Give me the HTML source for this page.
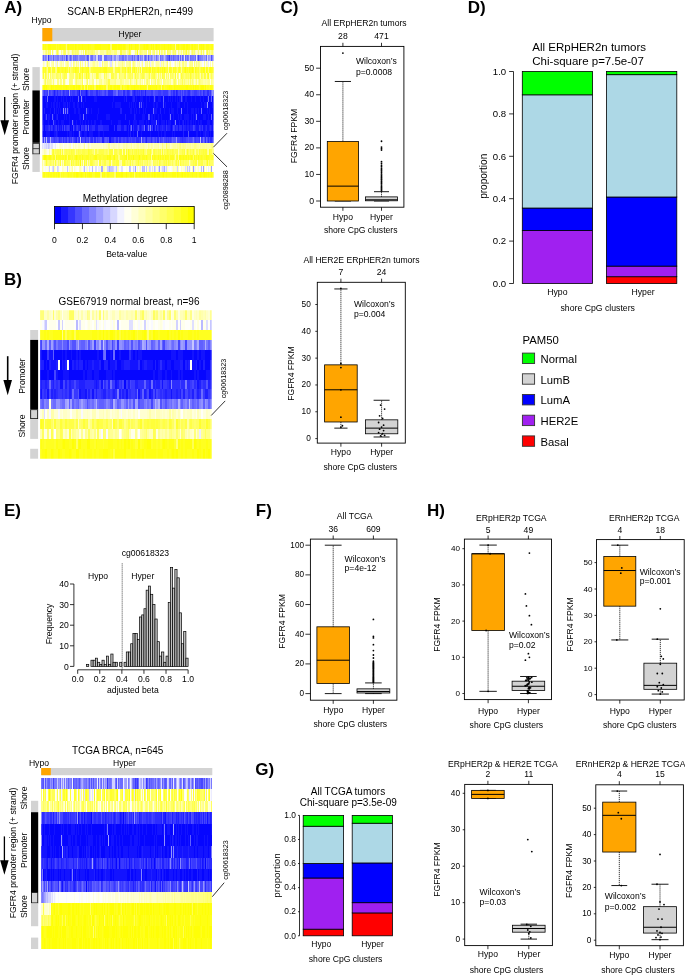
<!DOCTYPE html>
<html><head><meta charset="utf-8"><title>FGFR4 figure</title>
<style>html,body{margin:0;padding:0;background:#fff;width:685px;height:975px;overflow:hidden}svg{display:block;will-change:transform}text{font-family:"Liberation Sans",sans-serif}</style>
</head><body>
<svg width="685" height="975" viewBox="0 0 685 975" font-family='"Liberation Sans", sans-serif'>
<rect width="685" height="975" fill="#fff"/>
<text x="4.2" y="12.7" font-size="17" font-weight="bold">A)</text>
<text x="130.2" y="15.3" font-size="10" text-anchor="middle">SCAN-B ERpHER2n, n=499</text>
<text x="31.5" y="23.4" font-size="8.6">Hypo</text>
<rect x="42.4" y="28" width="171.2" height="13.2" fill="#d3d3d3"/>
<rect x="42.4" y="28" width="9.9" height="13.2" fill="#ffa500"/>
<text x="129.9" y="36.6" font-size="8.6" text-anchor="middle">Hyper</text>
<defs><clipPath id="chb1"><rect x="42.4" y="43.8" width="171.2" height="133.97"/></clipPath><filter id="hb1" color-interpolation-filters="sRGB" x="-2%" y="0" width="104%" height="100%"><feGaussianBlur stdDeviation="0.7 0" color-interpolation-filters="sRGB"/></filter></defs>
<g clip-path="url(#chb1)"><g filter="url(#hb1)" shape-rendering="crispEdges">
<path fill="#ffff20" d="M42.4 43.8h1.04v5.87h-1.04zM44.4 43.8h1.04v5.87h-1.04zM46.4 43.8h2.04v5.87h-2.04zM58.42 43.8h1.04v5.87h-1.04zM65.43 43.8h1.04v5.87h-1.04zM74.44 43.8h1.04v5.87h-1.04zM77.44 43.8h1.04v5.87h-1.04zM91.46 43.8h3.04v5.87h-3.04zM100.47 43.8h1.04v5.87h-1.04zM104.47 43.8h1.04v5.87h-1.04zM114.48 43.8h1.04v5.87h-1.04zM117.49 43.8h1.04v5.87h-1.04zM122.49 43.8h1.04v5.87h-1.04zM129.5 43.8h1.04v5.87h-1.04zM131.5 43.8h3.04v5.87h-3.04zM137.51 43.8h1.04v5.87h-1.04zM139.51 43.8h3.04v5.87h-3.04zM148.52 43.8h2.04v5.87h-2.04zM151.53 43.8h1.04v5.87h-1.04zM159.54 43.8h1.04v5.87h-1.04zM171.55 43.8h2.04v5.87h-2.04zM178.56 43.8h2.04v5.87h-2.04zM184.57 43.8h1.04v5.87h-1.04zM192.58 43.8h1.04v5.87h-1.04zM195.58 43.8h2.04v5.87h-2.04zM203.59 43.8h1.04v5.87h-1.04zM208.59 43.8h2.04v5.87h-2.04zM136.51 49.62h1.04v5.87h-1.04zM43.4 67.1h1.04v5.87h-1.04zM45.4 67.1h1.04v5.87h-1.04zM48.41 67.1h2.04v5.87h-2.04zM54.41 67.1h1.04v5.87h-1.04zM57.42 67.1h1.04v5.87h-1.04zM59.42 67.1h1.04v5.87h-1.04zM62.42 67.1h1.04v5.87h-1.04zM69.43 67.1h1.04v5.87h-1.04zM76.44 67.1h1.04v5.87h-1.04zM86.45 67.1h2.04v5.87h-2.04zM93.46 67.1h1.04v5.87h-1.04zM97.46 67.1h1.04v5.87h-1.04zM99.47 67.1h2.04v5.87h-2.04zM102.47 67.1h2.04v5.87h-2.04zM105.47 67.1h1.04v5.87h-1.04zM122.49 67.1h1.04v5.87h-1.04zM124.5 67.1h1.04v5.87h-1.04zM127.5 67.1h1.04v5.87h-1.04zM129.5 67.1h1.04v5.87h-1.04zM139.51 67.1h1.04v5.87h-1.04zM141.52 67.1h1.04v5.87h-1.04zM145.52 67.1h1.04v5.87h-1.04zM153.53 67.1h1.04v5.87h-1.04zM156.53 67.1h1.04v5.87h-1.04zM159.54 67.1h1.04v5.87h-1.04zM168.55 67.1h2.04v5.87h-2.04zM172.55 67.1h1.04v5.87h-1.04zM174.55 67.1h1.04v5.87h-1.04zM178.56 67.1h1.04v5.87h-1.04zM183.56 67.1h1.04v5.87h-1.04zM186.57 67.1h1.04v5.87h-1.04zM189.57 67.1h2.04v5.87h-2.04zM192.58 67.1h1.04v5.87h-1.04zM200.58 67.1h1.04v5.87h-1.04zM206.59 67.1h1.04v5.87h-1.04zM208.59 67.1h1.04v5.87h-1.04zM210.6 67.1h1.04v5.87h-1.04zM79.44 72.92h1.04v5.87h-1.04zM86.45 72.92h1.04v5.87h-1.04zM207.59 72.92h1.04v5.87h-1.04zM47.41 84.57h2.04v5.87h-2.04zM50.41 84.57h1.04v5.87h-1.04zM54.41 84.57h1.04v5.87h-1.04zM62.42 84.57h1.04v5.87h-1.04zM69.43 84.57h1.04v5.87h-1.04zM75.44 84.57h1.04v5.87h-1.04zM80.44 84.57h1.04v5.87h-1.04zM85.45 84.57h1.04v5.87h-1.04zM89.45 84.57h1.04v5.87h-1.04zM91.46 84.57h2.04v5.87h-2.04zM98.47 84.57h1.04v5.87h-1.04zM100.47 84.57h1.04v5.87h-1.04zM102.47 84.57h2.04v5.87h-2.04zM108.48 84.57h2.04v5.87h-2.04zM111.48 84.57h2.04v5.87h-2.04zM118.49 84.57h1.04v5.87h-1.04zM124.5 84.57h3.04v5.87h-3.04zM128.5 84.57h2.04v5.87h-2.04zM138.51 84.57h1.04v5.87h-1.04zM145.52 84.57h1.04v5.87h-1.04zM156.53 84.57h2.04v5.87h-2.04zM164.54 84.57h2.04v5.87h-2.04zM171.55 84.57h2.04v5.87h-2.04zM191.57 84.57h1.04v5.87h-1.04zM193.58 84.57h1.04v5.87h-1.04zM203.59 84.57h1.04v5.87h-1.04zM206.59 84.57h2.04v5.87h-2.04zM211.6 84.57h2.04v5.87h-2.04zM106.47 148.65h1.04v5.87h-1.04zM127.5 148.65h1.04v5.87h-1.04zM42.4 154.47h1.04v5.87h-1.04zM48.41 154.47h1.04v5.87h-1.04zM53.41 154.47h2.04v5.87h-2.04zM58.42 154.47h3.04v5.87h-3.04zM62.42 154.47h2.04v5.87h-2.04zM66.43 154.47h1.04v5.87h-1.04zM69.43 154.47h1.04v5.87h-1.04zM75.44 154.47h1.04v5.87h-1.04zM77.44 154.47h1.04v5.87h-1.04zM79.44 154.47h2.04v5.87h-2.04zM86.45 154.47h3.04v5.87h-3.04zM93.46 154.47h2.04v5.87h-2.04zM98.47 154.47h1.04v5.87h-1.04zM102.47 154.47h1.04v5.87h-1.04zM104.47 154.47h1.04v5.87h-1.04zM107.48 154.47h2.04v5.87h-2.04zM110.48 154.47h1.04v5.87h-1.04zM112.48 154.47h2.04v5.87h-2.04zM116.49 154.47h1.04v5.87h-1.04zM123.49 154.47h2.04v5.87h-2.04zM128.5 154.47h1.04v5.87h-1.04zM130.5 154.47h1.04v5.87h-1.04zM137.51 154.47h1.04v5.87h-1.04zM141.52 154.47h3.04v5.87h-3.04zM149.53 154.47h1.04v5.87h-1.04zM151.53 154.47h1.04v5.87h-1.04zM154.53 154.47h1.04v5.87h-1.04zM161.54 154.47h2.04v5.87h-2.04zM165.54 154.47h3.04v5.87h-3.04zM169.55 154.47h4.04v5.87h-4.04zM176.56 154.47h1.04v5.87h-1.04zM180.56 154.47h2.04v5.87h-2.04zM183.56 154.47h2.04v5.87h-2.04zM189.57 154.47h1.04v5.87h-1.04zM191.57 154.47h1.04v5.87h-1.04zM195.58 154.47h1.04v5.87h-1.04zM200.58 154.47h1.04v5.87h-1.04zM206.59 154.47h2.04v5.87h-2.04zM94.46 160.3h1.04v5.87h-1.04zM120.49 160.3h1.04v5.87h-1.04zM206.59 160.3h1.04v5.87h-1.04zM43.4 171.95h1.04v5.87h-1.04zM46.4 171.95h2.04v5.87h-2.04zM49.41 171.95h1.04v5.87h-1.04zM52.41 171.95h1.04v5.87h-1.04zM55.42 171.95h1.04v5.87h-1.04zM57.42 171.95h1.04v5.87h-1.04zM61.42 171.95h1.04v5.87h-1.04zM63.42 171.95h1.04v5.87h-1.04zM67.43 171.95h1.04v5.87h-1.04zM69.43 171.95h3.04v5.87h-3.04zM73.44 171.95h1.04v5.87h-1.04zM75.44 171.95h1.04v5.87h-1.04zM79.44 171.95h1.04v5.87h-1.04zM83.45 171.95h1.04v5.87h-1.04zM91.46 171.95h1.04v5.87h-1.04zM94.46 171.95h1.04v5.87h-1.04zM102.47 171.95h2.04v5.87h-2.04zM108.48 171.95h2.04v5.87h-2.04zM117.49 171.95h1.04v5.87h-1.04zM119.49 171.95h1.04v5.87h-1.04zM122.49 171.95h3.04v5.87h-3.04zM126.5 171.95h2.04v5.87h-2.04zM131.5 171.95h1.04v5.87h-1.04zM134.51 171.95h1.04v5.87h-1.04zM136.51 171.95h2.04v5.87h-2.04zM140.51 171.95h1.04v5.87h-1.04zM142.52 171.95h1.04v5.87h-1.04zM144.52 171.95h2.04v5.87h-2.04zM150.53 171.95h1.04v5.87h-1.04zM152.53 171.95h1.04v5.87h-1.04zM155.53 171.95h1.04v5.87h-1.04zM159.54 171.95h2.04v5.87h-2.04zM163.54 171.95h2.04v5.87h-2.04zM166.55 171.95h5.05v5.87h-5.05zM178.56 171.95h2.04v5.87h-2.04zM182.56 171.95h1.04v5.87h-1.04zM185.57 171.95h1.04v5.87h-1.04zM188.57 171.95h3.04v5.87h-3.04zM192.58 171.95h3.04v5.87h-3.04zM201.59 171.95h1.04v5.87h-1.04zM206.59 171.95h1.04v5.87h-1.04zM208.59 171.95h2.04v5.87h-2.04zM212.6 171.95h1.04v5.87h-1.04z"/>
<path fill="#ffff13" d="M43.4 43.8h1.04v5.87h-1.04zM45.4 43.8h1.04v5.87h-1.04zM51.41 43.8h5.05v5.87h-5.05zM57.42 43.8h1.04v5.87h-1.04zM59.42 43.8h1.04v5.87h-1.04zM61.42 43.8h4.04v5.87h-4.04zM67.43 43.8h1.04v5.87h-1.04zM69.43 43.8h5.05v5.87h-5.05zM76.44 43.8h1.04v5.87h-1.04zM78.44 43.8h4.04v5.87h-4.04zM83.45 43.8h5.05v5.87h-5.05zM89.45 43.8h2.04v5.87h-2.04zM94.46 43.8h1.04v5.87h-1.04zM97.46 43.8h1.04v5.87h-1.04zM101.47 43.8h3.04v5.87h-3.04zM105.47 43.8h3.04v5.87h-3.04zM109.48 43.8h1.04v5.87h-1.04zM112.48 43.8h1.04v5.87h-1.04zM116.49 43.8h1.04v5.87h-1.04zM119.49 43.8h1.04v5.87h-1.04zM121.49 43.8h1.04v5.87h-1.04zM124.5 43.8h1.04v5.87h-1.04zM126.5 43.8h1.04v5.87h-1.04zM135.51 43.8h2.04v5.87h-2.04zM142.52 43.8h1.04v5.87h-1.04zM144.52 43.8h1.04v5.87h-1.04zM147.52 43.8h1.04v5.87h-1.04zM154.53 43.8h1.04v5.87h-1.04zM156.53 43.8h3.04v5.87h-3.04zM160.54 43.8h3.04v5.87h-3.04zM164.54 43.8h3.04v5.87h-3.04zM168.55 43.8h1.04v5.87h-1.04zM170.55 43.8h1.04v5.87h-1.04zM173.55 43.8h1.04v5.87h-1.04zM175.56 43.8h2.04v5.87h-2.04zM180.56 43.8h2.04v5.87h-2.04zM187.57 43.8h2.04v5.87h-2.04zM190.57 43.8h1.04v5.87h-1.04zM193.58 43.8h2.04v5.87h-2.04zM198.58 43.8h2.04v5.87h-2.04zM201.59 43.8h1.04v5.87h-1.04zM205.59 43.8h3.04v5.87h-3.04zM210.6 43.8h3.04v5.87h-3.04zM58.42 67.1h1.04v5.87h-1.04zM65.43 67.1h1.04v5.87h-1.04zM75.44 67.1h1.04v5.87h-1.04zM82.45 67.1h1.04v5.87h-1.04zM88.45 67.1h1.04v5.87h-1.04zM104.47 67.1h1.04v5.87h-1.04zM106.47 67.1h1.04v5.87h-1.04zM117.49 67.1h1.04v5.87h-1.04zM119.49 67.1h1.04v5.87h-1.04zM133.51 67.1h1.04v5.87h-1.04zM148.52 67.1h2.04v5.87h-2.04zM151.53 67.1h1.04v5.87h-1.04zM157.53 67.1h1.04v5.87h-1.04zM161.54 67.1h1.04v5.87h-1.04zM188.57 67.1h1.04v5.87h-1.04zM194.58 67.1h1.04v5.87h-1.04zM202.59 67.1h2.04v5.87h-2.04zM205.59 67.1h1.04v5.87h-1.04zM209.6 67.1h1.04v5.87h-1.04zM212.6 67.1h1.04v5.87h-1.04zM43.4 84.57h1.04v5.87h-1.04zM45.4 84.57h1.04v5.87h-1.04zM52.41 84.57h2.04v5.87h-2.04zM55.42 84.57h7.05v5.87h-7.05zM63.42 84.57h3.04v5.87h-3.04zM67.43 84.57h2.04v5.87h-2.04zM70.43 84.57h3.04v5.87h-3.04zM77.44 84.57h1.04v5.87h-1.04zM82.45 84.57h2.04v5.87h-2.04zM88.45 84.57h1.04v5.87h-1.04zM90.46 84.57h1.04v5.87h-1.04zM93.46 84.57h1.04v5.87h-1.04zM95.46 84.57h1.04v5.87h-1.04zM97.46 84.57h1.04v5.87h-1.04zM101.47 84.57h1.04v5.87h-1.04zM104.47 84.57h2.04v5.87h-2.04zM107.48 84.57h1.04v5.87h-1.04zM113.48 84.57h1.04v5.87h-1.04zM115.49 84.57h2.04v5.87h-2.04zM121.49 84.57h1.04v5.87h-1.04zM130.5 84.57h3.04v5.87h-3.04zM134.51 84.57h4.04v5.87h-4.04zM140.51 84.57h5.05v5.87h-5.05zM147.52 84.57h2.04v5.87h-2.04zM150.53 84.57h5.05v5.87h-5.05zM158.54 84.57h2.04v5.87h-2.04zM162.54 84.57h1.04v5.87h-1.04zM166.55 84.57h2.04v5.87h-2.04zM169.55 84.57h2.04v5.87h-2.04zM174.55 84.57h11.05v5.87h-11.05zM187.57 84.57h4.04v5.87h-4.04zM195.58 84.57h3.04v5.87h-3.04zM199.58 84.57h1.04v5.87h-1.04zM209.6 84.57h2.04v5.87h-2.04zM46.4 154.47h1.04v5.87h-1.04zM49.41 154.47h2.04v5.87h-2.04zM56.42 154.47h1.04v5.87h-1.04zM65.43 154.47h1.04v5.87h-1.04zM68.43 154.47h1.04v5.87h-1.04zM82.45 154.47h1.04v5.87h-1.04zM95.46 154.47h2.04v5.87h-2.04zM106.47 154.47h1.04v5.87h-1.04zM109.48 154.47h1.04v5.87h-1.04zM127.5 154.47h1.04v5.87h-1.04zM145.52 154.47h1.04v5.87h-1.04zM153.53 154.47h1.04v5.87h-1.04zM157.53 154.47h1.04v5.87h-1.04zM159.54 154.47h1.04v5.87h-1.04zM164.54 154.47h1.04v5.87h-1.04zM178.56 154.47h2.04v5.87h-2.04zM182.56 154.47h1.04v5.87h-1.04zM185.57 154.47h1.04v5.87h-1.04zM187.57 154.47h1.04v5.87h-1.04zM190.57 154.47h1.04v5.87h-1.04zM193.58 154.47h1.04v5.87h-1.04zM197.58 154.47h1.04v5.87h-1.04zM205.59 154.47h1.04v5.87h-1.04zM212.6 154.47h1.04v5.87h-1.04zM42.4 171.95h1.04v5.87h-1.04zM44.4 171.95h1.04v5.87h-1.04zM48.41 171.95h1.04v5.87h-1.04zM50.41 171.95h2.04v5.87h-2.04zM53.41 171.95h2.04v5.87h-2.04zM56.42 171.95h1.04v5.87h-1.04zM59.42 171.95h1.04v5.87h-1.04zM68.43 171.95h1.04v5.87h-1.04zM74.44 171.95h1.04v5.87h-1.04zM78.44 171.95h1.04v5.87h-1.04zM80.44 171.95h1.04v5.87h-1.04zM82.45 171.95h1.04v5.87h-1.04zM87.45 171.95h2.04v5.87h-2.04zM90.46 171.95h1.04v5.87h-1.04zM95.46 171.95h5.05v5.87h-5.05zM101.47 171.95h1.04v5.87h-1.04zM104.47 171.95h1.04v5.87h-1.04zM106.47 171.95h2.04v5.87h-2.04zM111.48 171.95h1.04v5.87h-1.04zM113.48 171.95h1.04v5.87h-1.04zM116.49 171.95h1.04v5.87h-1.04zM118.49 171.95h1.04v5.87h-1.04zM120.49 171.95h1.04v5.87h-1.04zM129.5 171.95h2.04v5.87h-2.04zM132.51 171.95h1.04v5.87h-1.04zM135.51 171.95h1.04v5.87h-1.04zM138.51 171.95h2.04v5.87h-2.04zM141.52 171.95h1.04v5.87h-1.04zM143.52 171.95h1.04v5.87h-1.04zM146.52 171.95h3.04v5.87h-3.04zM151.53 171.95h1.04v5.87h-1.04zM154.53 171.95h1.04v5.87h-1.04zM156.53 171.95h3.04v5.87h-3.04zM161.54 171.95h1.04v5.87h-1.04zM165.54 171.95h1.04v5.87h-1.04zM171.55 171.95h4.04v5.87h-4.04zM177.56 171.95h1.04v5.87h-1.04zM180.56 171.95h1.04v5.87h-1.04zM183.56 171.95h2.04v5.87h-2.04zM186.57 171.95h2.04v5.87h-2.04zM191.57 171.95h1.04v5.87h-1.04zM195.58 171.95h1.04v5.87h-1.04zM198.58 171.95h1.04v5.87h-1.04zM200.58 171.95h1.04v5.87h-1.04zM202.59 171.95h1.04v5.87h-1.04zM204.59 171.95h2.04v5.87h-2.04zM207.59 171.95h1.04v5.87h-1.04zM210.6 171.95h1.04v5.87h-1.04z"/>
<path fill="#ffff06" d="M48.41 43.8h3.04v5.87h-3.04zM60.42 43.8h1.04v5.87h-1.04zM68.43 43.8h1.04v5.87h-1.04zM75.44 43.8h1.04v5.87h-1.04zM82.45 43.8h1.04v5.87h-1.04zM88.45 43.8h1.04v5.87h-1.04zM95.46 43.8h2.04v5.87h-2.04zM98.47 43.8h2.04v5.87h-2.04zM108.48 43.8h1.04v5.87h-1.04zM111.48 43.8h1.04v5.87h-1.04zM113.48 43.8h1.04v5.87h-1.04zM115.49 43.8h1.04v5.87h-1.04zM118.49 43.8h1.04v5.87h-1.04zM120.49 43.8h1.04v5.87h-1.04zM123.49 43.8h1.04v5.87h-1.04zM128.5 43.8h1.04v5.87h-1.04zM130.5 43.8h1.04v5.87h-1.04zM134.51 43.8h1.04v5.87h-1.04zM143.52 43.8h1.04v5.87h-1.04zM145.52 43.8h2.04v5.87h-2.04zM150.53 43.8h1.04v5.87h-1.04zM152.53 43.8h1.04v5.87h-1.04zM155.53 43.8h1.04v5.87h-1.04zM163.54 43.8h1.04v5.87h-1.04zM167.55 43.8h1.04v5.87h-1.04zM169.55 43.8h1.04v5.87h-1.04zM177.56 43.8h1.04v5.87h-1.04zM182.56 43.8h2.04v5.87h-2.04zM185.57 43.8h2.04v5.87h-2.04zM191.57 43.8h1.04v5.87h-1.04zM200.58 43.8h1.04v5.87h-1.04zM202.59 43.8h1.04v5.87h-1.04zM163.54 67.1h1.04v5.87h-1.04zM184.57 67.1h1.04v5.87h-1.04zM191.57 67.1h1.04v5.87h-1.04zM42.4 84.57h1.04v5.87h-1.04zM44.4 84.57h1.04v5.87h-1.04zM46.4 84.57h1.04v5.87h-1.04zM51.41 84.57h1.04v5.87h-1.04zM66.43 84.57h1.04v5.87h-1.04zM73.44 84.57h2.04v5.87h-2.04zM76.44 84.57h1.04v5.87h-1.04zM78.44 84.57h2.04v5.87h-2.04zM86.45 84.57h1.04v5.87h-1.04zM96.46 84.57h1.04v5.87h-1.04zM99.47 84.57h1.04v5.87h-1.04zM110.48 84.57h1.04v5.87h-1.04zM114.48 84.57h1.04v5.87h-1.04zM117.49 84.57h1.04v5.87h-1.04zM119.49 84.57h1.04v5.87h-1.04zM122.49 84.57h1.04v5.87h-1.04zM127.5 84.57h1.04v5.87h-1.04zM133.51 84.57h1.04v5.87h-1.04zM139.51 84.57h1.04v5.87h-1.04zM149.53 84.57h1.04v5.87h-1.04zM155.53 84.57h1.04v5.87h-1.04zM161.54 84.57h1.04v5.87h-1.04zM168.55 84.57h1.04v5.87h-1.04zM173.55 84.57h1.04v5.87h-1.04zM185.57 84.57h2.04v5.87h-2.04zM192.58 84.57h1.04v5.87h-1.04zM194.58 84.57h1.04v5.87h-1.04zM200.58 84.57h3.04v5.87h-3.04zM204.59 84.57h1.04v5.87h-1.04zM122.49 148.65h1.04v5.87h-1.04zM44.4 154.47h2.04v5.87h-2.04zM76.44 154.47h1.04v5.87h-1.04zM100.47 154.47h1.04v5.87h-1.04zM114.48 154.47h1.04v5.87h-1.04zM125.5 154.47h1.04v5.87h-1.04zM132.51 154.47h1.04v5.87h-1.04zM138.51 154.47h1.04v5.87h-1.04zM80.44 160.3h1.04v5.87h-1.04zM58.42 171.95h1.04v5.87h-1.04zM76.44 171.95h2.04v5.87h-2.04zM81.45 171.95h1.04v5.87h-1.04zM85.45 171.95h1.04v5.87h-1.04zM89.45 171.95h1.04v5.87h-1.04zM115.49 171.95h1.04v5.87h-1.04zM121.49 171.95h1.04v5.87h-1.04zM125.5 171.95h1.04v5.87h-1.04zM153.53 171.95h1.04v5.87h-1.04zM162.54 171.95h1.04v5.87h-1.04zM176.56 171.95h1.04v5.87h-1.04zM181.56 171.95h1.04v5.87h-1.04zM199.58 171.95h1.04v5.87h-1.04zM203.59 171.95h1.04v5.87h-1.04z"/>
<path fill="#ffff2d" d="M56.42 43.8h1.04v5.87h-1.04zM125.5 43.8h1.04v5.87h-1.04zM127.5 43.8h1.04v5.87h-1.04zM153.53 43.8h1.04v5.87h-1.04zM189.57 43.8h1.04v5.87h-1.04zM204.59 43.8h1.04v5.87h-1.04zM110.48 49.62h1.04v5.87h-1.04zM42.4 67.1h1.04v5.87h-1.04zM50.41 67.1h1.04v5.87h-1.04zM52.41 67.1h2.04v5.87h-2.04zM61.42 67.1h1.04v5.87h-1.04zM63.42 67.1h2.04v5.87h-2.04zM66.43 67.1h2.04v5.87h-2.04zM73.44 67.1h1.04v5.87h-1.04zM77.44 67.1h2.04v5.87h-2.04zM80.44 67.1h1.04v5.87h-1.04zM83.45 67.1h1.04v5.87h-1.04zM85.45 67.1h1.04v5.87h-1.04zM92.46 67.1h1.04v5.87h-1.04zM94.46 67.1h3.04v5.87h-3.04zM98.47 67.1h1.04v5.87h-1.04zM101.47 67.1h1.04v5.87h-1.04zM110.48 67.1h1.04v5.87h-1.04zM118.49 67.1h1.04v5.87h-1.04zM121.49 67.1h1.04v5.87h-1.04zM131.5 67.1h2.04v5.87h-2.04zM135.51 67.1h1.04v5.87h-1.04zM142.52 67.1h3.04v5.87h-3.04zM146.52 67.1h2.04v5.87h-2.04zM152.53 67.1h1.04v5.87h-1.04zM154.53 67.1h1.04v5.87h-1.04zM162.54 67.1h1.04v5.87h-1.04zM164.54 67.1h1.04v5.87h-1.04zM166.55 67.1h1.04v5.87h-1.04zM170.55 67.1h1.04v5.87h-1.04zM173.55 67.1h1.04v5.87h-1.04zM177.56 67.1h1.04v5.87h-1.04zM185.57 67.1h1.04v5.87h-1.04zM195.58 67.1h1.04v5.87h-1.04zM197.58 67.1h1.04v5.87h-1.04zM201.59 67.1h1.04v5.87h-1.04zM211.6 67.1h1.04v5.87h-1.04zM43.4 72.92h1.04v5.87h-1.04zM82.45 72.92h1.04v5.87h-1.04zM88.45 72.92h1.04v5.87h-1.04zM174.55 72.92h1.04v5.87h-1.04zM189.57 72.92h1.04v5.87h-1.04zM49.41 84.57h1.04v5.87h-1.04zM123.49 84.57h1.04v5.87h-1.04zM163.54 84.57h1.04v5.87h-1.04zM198.58 84.57h1.04v5.87h-1.04zM205.59 84.57h1.04v5.87h-1.04zM208.59 84.57h1.04v5.87h-1.04zM53.41 148.65h1.04v5.87h-1.04zM60.42 148.65h1.04v5.87h-1.04zM88.45 148.65h1.04v5.87h-1.04zM125.5 148.65h1.04v5.87h-1.04zM142.52 148.65h1.04v5.87h-1.04zM149.53 148.65h1.04v5.87h-1.04zM161.54 148.65h1.04v5.87h-1.04zM186.57 148.65h1.04v5.87h-1.04zM208.59 148.65h1.04v5.87h-1.04zM43.4 154.47h1.04v5.87h-1.04zM47.41 154.47h1.04v5.87h-1.04zM51.41 154.47h1.04v5.87h-1.04zM57.42 154.47h1.04v5.87h-1.04zM61.42 154.47h1.04v5.87h-1.04zM64.43 154.47h1.04v5.87h-1.04zM70.43 154.47h1.04v5.87h-1.04zM72.44 154.47h1.04v5.87h-1.04zM74.44 154.47h1.04v5.87h-1.04zM78.44 154.47h1.04v5.87h-1.04zM83.45 154.47h3.04v5.87h-3.04zM90.46 154.47h1.04v5.87h-1.04zM92.46 154.47h1.04v5.87h-1.04zM99.47 154.47h1.04v5.87h-1.04zM103.47 154.47h1.04v5.87h-1.04zM105.47 154.47h1.04v5.87h-1.04zM117.49 154.47h1.04v5.87h-1.04zM119.49 154.47h1.04v5.87h-1.04zM121.49 154.47h2.04v5.87h-2.04zM129.5 154.47h1.04v5.87h-1.04zM131.5 154.47h1.04v5.87h-1.04zM133.51 154.47h4.04v5.87h-4.04zM139.51 154.47h1.04v5.87h-1.04zM144.52 154.47h1.04v5.87h-1.04zM146.52 154.47h1.04v5.87h-1.04zM152.53 154.47h1.04v5.87h-1.04zM155.53 154.47h2.04v5.87h-2.04zM158.54 154.47h1.04v5.87h-1.04zM175.56 154.47h1.04v5.87h-1.04zM186.57 154.47h1.04v5.87h-1.04zM188.57 154.47h1.04v5.87h-1.04zM198.58 154.47h2.04v5.87h-2.04zM201.59 154.47h1.04v5.87h-1.04zM203.59 154.47h2.04v5.87h-2.04zM208.59 154.47h1.04v5.87h-1.04zM210.6 154.47h2.04v5.87h-2.04zM71.43 160.3h1.04v5.87h-1.04zM84.45 160.3h1.04v5.87h-1.04zM98.47 160.3h1.04v5.87h-1.04zM123.49 160.3h1.04v5.87h-1.04zM137.51 160.3h1.04v5.87h-1.04zM45.4 171.95h1.04v5.87h-1.04zM62.42 171.95h1.04v5.87h-1.04zM64.43 171.95h3.04v5.87h-3.04zM72.44 171.95h1.04v5.87h-1.04zM84.45 171.95h1.04v5.87h-1.04zM86.45 171.95h1.04v5.87h-1.04zM92.46 171.95h2.04v5.87h-2.04zM105.47 171.95h1.04v5.87h-1.04zM110.48 171.95h1.04v5.87h-1.04zM112.48 171.95h1.04v5.87h-1.04zM128.5 171.95h1.04v5.87h-1.04zM149.53 171.95h1.04v5.87h-1.04zM175.56 171.95h1.04v5.87h-1.04zM196.58 171.95h2.04v5.87h-2.04zM211.6 171.95h1.04v5.87h-1.04z"/>
<path fill="#ffff6c" d="M66.43 43.8h1.04v5.87h-1.04zM110.48 43.8h1.04v5.87h-1.04zM46.4 49.62h1.04v5.87h-1.04zM49.41 49.62h1.04v5.87h-1.04zM63.42 49.62h1.04v5.87h-1.04zM75.44 49.62h1.04v5.87h-1.04zM77.44 49.62h1.04v5.87h-1.04zM83.45 49.62h1.04v5.87h-1.04zM91.46 49.62h1.04v5.87h-1.04zM101.47 49.62h1.04v5.87h-1.04zM109.48 49.62h1.04v5.87h-1.04zM147.52 49.62h1.04v5.87h-1.04zM153.53 49.62h1.04v5.87h-1.04zM160.54 49.62h1.04v5.87h-1.04zM167.55 49.62h1.04v5.87h-1.04zM184.57 49.62h1.04v5.87h-1.04zM187.57 49.62h1.04v5.87h-1.04zM193.58 49.62h1.04v5.87h-1.04zM205.59 49.62h1.04v5.87h-1.04zM208.59 49.62h1.04v5.87h-1.04zM121.49 61.27h1.04v5.87h-1.04zM166.55 61.27h1.04v5.87h-1.04zM178.56 61.27h1.04v5.87h-1.04zM68.43 67.1h1.04v5.87h-1.04zM70.43 67.1h1.04v5.87h-1.04zM90.46 67.1h1.04v5.87h-1.04zM108.48 67.1h1.04v5.87h-1.04zM120.49 67.1h1.04v5.87h-1.04zM125.5 67.1h1.04v5.87h-1.04zM171.55 67.1h1.04v5.87h-1.04zM176.56 67.1h1.04v5.87h-1.04zM193.58 67.1h1.04v5.87h-1.04zM204.59 67.1h1.04v5.87h-1.04zM207.59 67.1h1.04v5.87h-1.04zM52.41 72.92h1.04v5.87h-1.04zM58.42 72.92h1.04v5.87h-1.04zM70.43 72.92h4.04v5.87h-4.04zM78.44 72.92h1.04v5.87h-1.04zM81.45 72.92h1.04v5.87h-1.04zM84.45 72.92h2.04v5.87h-2.04zM100.47 72.92h1.04v5.87h-1.04zM103.47 72.92h1.04v5.87h-1.04zM108.48 72.92h1.04v5.87h-1.04zM114.48 72.92h1.04v5.87h-1.04zM116.49 72.92h1.04v5.87h-1.04zM119.49 72.92h1.04v5.87h-1.04zM121.49 72.92h1.04v5.87h-1.04zM130.5 72.92h1.04v5.87h-1.04zM135.51 72.92h1.04v5.87h-1.04zM137.51 72.92h1.04v5.87h-1.04zM139.51 72.92h1.04v5.87h-1.04zM147.52 72.92h1.04v5.87h-1.04zM154.53 72.92h1.04v5.87h-1.04zM170.55 72.92h1.04v5.87h-1.04zM172.55 72.92h1.04v5.87h-1.04zM188.57 72.92h1.04v5.87h-1.04zM191.57 72.92h1.04v5.87h-1.04zM198.58 72.92h1.04v5.87h-1.04zM63.42 78.75h2.04v5.87h-2.04zM92.46 78.75h1.04v5.87h-1.04zM125.5 78.75h1.04v5.87h-1.04zM156.53 78.75h2.04v5.87h-2.04zM183.56 78.75h1.04v5.87h-1.04zM191.57 78.75h1.04v5.87h-1.04zM198.58 78.75h1.04v5.87h-1.04zM84.45 84.57h1.04v5.87h-1.04zM106.47 84.57h1.04v5.87h-1.04zM160.54 84.57h1.04v5.87h-1.04zM54.41 148.65h1.04v5.87h-1.04zM117.49 148.65h2.04v5.87h-2.04zM126.5 148.65h1.04v5.87h-1.04zM144.52 148.65h1.04v5.87h-1.04zM150.53 148.65h1.04v5.87h-1.04zM178.56 148.65h1.04v5.87h-1.04zM185.57 148.65h1.04v5.87h-1.04zM188.57 148.65h1.04v5.87h-1.04zM193.58 148.65h1.04v5.87h-1.04zM67.43 154.47h1.04v5.87h-1.04zM126.5 154.47h1.04v5.87h-1.04zM47.41 160.3h1.04v5.87h-1.04zM49.41 160.3h1.04v5.87h-1.04zM51.41 160.3h1.04v5.87h-1.04zM74.44 160.3h1.04v5.87h-1.04zM79.44 160.3h1.04v5.87h-1.04zM85.45 160.3h1.04v5.87h-1.04zM93.46 160.3h1.04v5.87h-1.04zM106.47 160.3h1.04v5.87h-1.04zM114.48 160.3h1.04v5.87h-1.04zM125.5 160.3h1.04v5.87h-1.04zM127.5 160.3h1.04v5.87h-1.04zM134.51 160.3h1.04v5.87h-1.04zM140.51 160.3h1.04v5.87h-1.04zM143.52 160.3h3.04v5.87h-3.04zM148.52 160.3h1.04v5.87h-1.04zM155.53 160.3h1.04v5.87h-1.04zM160.54 160.3h2.04v5.87h-2.04zM166.55 160.3h1.04v5.87h-1.04zM176.56 160.3h1.04v5.87h-1.04zM183.56 160.3h1.04v5.87h-1.04zM186.57 160.3h1.04v5.87h-1.04zM203.59 160.3h1.04v5.87h-1.04zM114.48 171.95h1.04v5.87h-1.04zM133.51 171.95h1.04v5.87h-1.04z"/>
<path fill="#ffff53" d="M138.51 43.8h1.04v5.87h-1.04zM48.41 49.62h1.04v5.87h-1.04zM64.43 49.62h1.04v5.87h-1.04zM113.48 49.62h1.04v5.87h-1.04zM121.49 49.62h1.04v5.87h-1.04zM149.53 49.62h1.04v5.87h-1.04zM166.55 49.62h1.04v5.87h-1.04zM200.58 49.62h1.04v5.87h-1.04zM46.4 67.1h1.04v5.87h-1.04zM71.43 67.1h1.04v5.87h-1.04zM48.41 72.92h1.04v5.87h-1.04zM60.42 72.92h1.04v5.87h-1.04zM65.43 72.92h2.04v5.87h-2.04zM87.45 72.92h1.04v5.87h-1.04zM91.46 72.92h1.04v5.87h-1.04zM97.46 72.92h2.04v5.87h-2.04zM104.47 72.92h1.04v5.87h-1.04zM118.49 72.92h1.04v5.87h-1.04zM123.49 72.92h1.04v5.87h-1.04zM128.5 72.92h2.04v5.87h-2.04zM131.5 72.92h1.04v5.87h-1.04zM151.53 72.92h1.04v5.87h-1.04zM157.53 72.92h1.04v5.87h-1.04zM162.54 72.92h1.04v5.87h-1.04zM169.55 72.92h1.04v5.87h-1.04zM181.56 72.92h1.04v5.87h-1.04zM185.57 72.92h1.04v5.87h-1.04zM187.57 72.92h1.04v5.87h-1.04zM190.57 72.92h1.04v5.87h-1.04zM194.58 72.92h1.04v5.87h-1.04zM210.6 72.92h1.04v5.87h-1.04zM45.4 78.75h1.04v5.87h-1.04zM82.45 78.75h1.04v5.87h-1.04zM101.47 78.75h1.04v5.87h-1.04zM105.47 78.75h1.04v5.87h-1.04zM135.51 78.75h1.04v5.87h-1.04zM173.55 78.75h1.04v5.87h-1.04zM181.56 78.75h1.04v5.87h-1.04zM94.46 84.57h1.04v5.87h-1.04zM55.42 148.65h2.04v5.87h-2.04zM59.42 148.65h1.04v5.87h-1.04zM65.43 148.65h1.04v5.87h-1.04zM67.43 148.65h2.04v5.87h-2.04zM70.43 148.65h1.04v5.87h-1.04zM74.44 148.65h1.04v5.87h-1.04zM76.44 148.65h1.04v5.87h-1.04zM79.44 148.65h2.04v5.87h-2.04zM85.45 148.65h3.04v5.87h-3.04zM91.46 148.65h1.04v5.87h-1.04zM97.46 148.65h1.04v5.87h-1.04zM100.47 148.65h1.04v5.87h-1.04zM103.47 148.65h1.04v5.87h-1.04zM105.47 148.65h1.04v5.87h-1.04zM110.48 148.65h1.04v5.87h-1.04zM129.5 148.65h1.04v5.87h-1.04zM136.51 148.65h1.04v5.87h-1.04zM138.51 148.65h1.04v5.87h-1.04zM154.53 148.65h2.04v5.87h-2.04zM158.54 148.65h1.04v5.87h-1.04zM163.54 148.65h1.04v5.87h-1.04zM165.54 148.65h1.04v5.87h-1.04zM168.55 148.65h1.04v5.87h-1.04zM170.55 148.65h1.04v5.87h-1.04zM174.55 148.65h2.04v5.87h-2.04zM182.56 148.65h1.04v5.87h-1.04zM187.57 148.65h1.04v5.87h-1.04zM191.57 148.65h1.04v5.87h-1.04zM195.58 148.65h2.04v5.87h-2.04zM199.58 148.65h1.04v5.87h-1.04zM209.6 148.65h2.04v5.87h-2.04zM212.6 148.65h1.04v5.87h-1.04zM50.41 160.3h1.04v5.87h-1.04zM53.41 160.3h1.04v5.87h-1.04zM67.43 160.3h1.04v5.87h-1.04zM75.44 160.3h1.04v5.87h-1.04zM77.44 160.3h1.04v5.87h-1.04zM82.45 160.3h1.04v5.87h-1.04zM88.45 160.3h1.04v5.87h-1.04zM101.47 160.3h1.04v5.87h-1.04zM112.48 160.3h1.04v5.87h-1.04zM115.49 160.3h1.04v5.87h-1.04zM118.49 160.3h1.04v5.87h-1.04zM124.5 160.3h1.04v5.87h-1.04zM126.5 160.3h1.04v5.87h-1.04zM131.5 160.3h1.04v5.87h-1.04zM135.51 160.3h2.04v5.87h-2.04zM139.51 160.3h1.04v5.87h-1.04zM141.52 160.3h1.04v5.87h-1.04zM146.52 160.3h1.04v5.87h-1.04zM152.53 160.3h1.04v5.87h-1.04zM156.53 160.3h1.04v5.87h-1.04zM159.54 160.3h1.04v5.87h-1.04zM162.54 160.3h1.04v5.87h-1.04zM164.54 160.3h1.04v5.87h-1.04zM168.55 160.3h1.04v5.87h-1.04zM171.55 160.3h1.04v5.87h-1.04zM182.56 160.3h1.04v5.87h-1.04zM193.58 160.3h1.04v5.87h-1.04zM199.58 160.3h1.04v5.87h-1.04zM205.59 160.3h1.04v5.87h-1.04zM60.42 171.95h1.04v5.87h-1.04z"/>
<path fill="#ffff86" d="M174.55 43.8h1.04v5.87h-1.04zM45.4 49.62h1.04v5.87h-1.04zM58.42 49.62h1.04v5.87h-1.04zM61.42 49.62h1.04v5.87h-1.04zM68.43 49.62h1.04v5.87h-1.04zM74.44 49.62h1.04v5.87h-1.04zM87.45 49.62h1.04v5.87h-1.04zM103.47 49.62h1.04v5.87h-1.04zM106.47 49.62h1.04v5.87h-1.04zM122.49 49.62h1.04v5.87h-1.04zM124.5 49.62h1.04v5.87h-1.04zM141.52 49.62h1.04v5.87h-1.04zM143.52 49.62h2.04v5.87h-2.04zM155.53 49.62h1.04v5.87h-1.04zM161.54 49.62h1.04v5.87h-1.04zM177.56 49.62h1.04v5.87h-1.04zM180.56 49.62h1.04v5.87h-1.04zM183.56 49.62h1.04v5.87h-1.04zM192.58 49.62h1.04v5.87h-1.04zM212.6 49.62h1.04v5.87h-1.04zM67.43 61.27h1.04v5.87h-1.04zM73.44 61.27h1.04v5.87h-1.04zM76.44 61.27h1.04v5.87h-1.04zM85.45 61.27h1.04v5.87h-1.04zM97.46 61.27h1.04v5.87h-1.04zM115.49 61.27h1.04v5.87h-1.04zM117.49 61.27h1.04v5.87h-1.04zM122.49 61.27h1.04v5.87h-1.04zM126.5 61.27h1.04v5.87h-1.04zM128.5 61.27h1.04v5.87h-1.04zM148.52 61.27h1.04v5.87h-1.04zM162.54 61.27h1.04v5.87h-1.04zM181.56 61.27h1.04v5.87h-1.04zM189.57 61.27h1.04v5.87h-1.04zM191.57 61.27h1.04v5.87h-1.04zM195.58 61.27h1.04v5.87h-1.04zM197.58 61.27h1.04v5.87h-1.04zM47.41 67.1h1.04v5.87h-1.04zM51.41 67.1h1.04v5.87h-1.04zM56.42 67.1h1.04v5.87h-1.04zM54.41 72.92h1.04v5.87h-1.04zM69.43 72.92h1.04v5.87h-1.04zM105.47 72.92h1.04v5.87h-1.04zM145.52 72.92h2.04v5.87h-2.04zM155.53 72.92h1.04v5.87h-1.04zM193.58 72.92h1.04v5.87h-1.04zM202.59 72.92h1.04v5.87h-1.04zM209.6 72.92h1.04v5.87h-1.04zM44.4 78.75h1.04v5.87h-1.04zM48.41 78.75h2.04v5.87h-2.04zM57.42 78.75h2.04v5.87h-2.04zM61.42 78.75h1.04v5.87h-1.04zM72.44 78.75h1.04v5.87h-1.04zM75.44 78.75h1.04v5.87h-1.04zM91.46 78.75h1.04v5.87h-1.04zM93.46 78.75h1.04v5.87h-1.04zM96.46 78.75h1.04v5.87h-1.04zM100.47 78.75h1.04v5.87h-1.04zM109.48 78.75h1.04v5.87h-1.04zM113.48 78.75h2.04v5.87h-2.04zM117.49 78.75h1.04v5.87h-1.04zM119.49 78.75h1.04v5.87h-1.04zM139.51 78.75h1.04v5.87h-1.04zM148.52 78.75h1.04v5.87h-1.04zM153.53 78.75h1.04v5.87h-1.04zM158.54 78.75h1.04v5.87h-1.04zM164.54 78.75h1.04v5.87h-1.04zM166.55 78.75h2.04v5.87h-2.04zM169.55 78.75h1.04v5.87h-1.04zM179.56 78.75h2.04v5.87h-2.04zM199.58 78.75h1.04v5.87h-1.04zM210.6 78.75h1.04v5.87h-1.04zM212.6 78.75h1.04v5.87h-1.04zM161.54 142.82h1.04v5.87h-1.04zM178.56 142.82h1.04v5.87h-1.04zM182.56 142.82h1.04v5.87h-1.04zM193.58 142.82h2.04v5.87h-2.04zM210.6 142.82h2.04v5.87h-2.04zM145.52 148.65h1.04v5.87h-1.04zM162.54 148.65h1.04v5.87h-1.04zM211.6 148.65h1.04v5.87h-1.04zM174.55 154.47h1.04v5.87h-1.04zM177.56 154.47h1.04v5.87h-1.04zM56.42 160.3h1.04v5.87h-1.04zM59.42 160.3h1.04v5.87h-1.04zM89.45 160.3h1.04v5.87h-1.04zM95.46 160.3h1.04v5.87h-1.04zM100.47 160.3h1.04v5.87h-1.04zM130.5 160.3h1.04v5.87h-1.04zM133.51 160.3h1.04v5.87h-1.04zM142.52 160.3h1.04v5.87h-1.04zM147.52 160.3h1.04v5.87h-1.04zM173.55 160.3h1.04v5.87h-1.04zM42.4 166.12h1.04v5.87h-1.04z"/>
<path fill="#ffff60" d="M197.58 43.8h1.04v5.87h-1.04zM50.41 49.62h1.04v5.87h-1.04zM52.41 49.62h1.04v5.87h-1.04zM65.43 49.62h1.04v5.87h-1.04zM72.44 49.62h1.04v5.87h-1.04zM86.45 49.62h1.04v5.87h-1.04zM88.45 49.62h1.04v5.87h-1.04zM92.46 49.62h1.04v5.87h-1.04zM96.46 49.62h1.04v5.87h-1.04zM107.48 49.62h1.04v5.87h-1.04zM129.5 49.62h1.04v5.87h-1.04zM139.51 49.62h1.04v5.87h-1.04zM163.54 49.62h1.04v5.87h-1.04zM172.55 49.62h1.04v5.87h-1.04zM174.55 49.62h1.04v5.87h-1.04zM182.56 49.62h1.04v5.87h-1.04zM191.57 49.62h1.04v5.87h-1.04zM202.59 49.62h1.04v5.87h-1.04zM211.6 49.62h1.04v5.87h-1.04zM47.41 61.27h1.04v5.87h-1.04zM150.53 67.1h1.04v5.87h-1.04zM198.58 67.1h1.04v5.87h-1.04zM42.4 72.92h1.04v5.87h-1.04zM46.4 72.92h1.04v5.87h-1.04zM50.41 72.92h1.04v5.87h-1.04zM56.42 72.92h2.04v5.87h-2.04zM63.42 72.92h1.04v5.87h-1.04zM75.44 72.92h1.04v5.87h-1.04zM89.45 72.92h1.04v5.87h-1.04zM106.47 72.92h1.04v5.87h-1.04zM115.49 72.92h1.04v5.87h-1.04zM127.5 72.92h1.04v5.87h-1.04zM136.51 72.92h1.04v5.87h-1.04zM140.51 72.92h1.04v5.87h-1.04zM143.52 72.92h1.04v5.87h-1.04zM150.53 72.92h1.04v5.87h-1.04zM159.54 72.92h1.04v5.87h-1.04zM165.54 72.92h1.04v5.87h-1.04zM167.55 72.92h1.04v5.87h-1.04zM171.55 72.92h1.04v5.87h-1.04zM176.56 72.92h1.04v5.87h-1.04zM182.56 72.92h1.04v5.87h-1.04zM184.57 72.92h1.04v5.87h-1.04zM186.57 72.92h1.04v5.87h-1.04zM192.58 72.92h1.04v5.87h-1.04zM196.58 72.92h1.04v5.87h-1.04zM201.59 72.92h1.04v5.87h-1.04zM212.6 72.92h1.04v5.87h-1.04zM76.44 78.75h1.04v5.87h-1.04zM87.45 78.75h1.04v5.87h-1.04zM121.49 78.75h1.04v5.87h-1.04zM129.5 78.75h1.04v5.87h-1.04zM146.52 78.75h1.04v5.87h-1.04zM154.53 78.75h1.04v5.87h-1.04zM174.55 78.75h1.04v5.87h-1.04zM189.57 78.75h1.04v5.87h-1.04zM87.45 84.57h1.04v5.87h-1.04zM165.54 142.82h1.04v5.87h-1.04zM64.43 148.65h1.04v5.87h-1.04zM77.44 148.65h1.04v5.87h-1.04zM81.45 148.65h1.04v5.87h-1.04zM92.46 148.65h2.04v5.87h-2.04zM98.47 148.65h1.04v5.87h-1.04zM104.47 148.65h1.04v5.87h-1.04zM107.48 148.65h1.04v5.87h-1.04zM112.48 148.65h1.04v5.87h-1.04zM116.49 148.65h1.04v5.87h-1.04zM130.5 148.65h1.04v5.87h-1.04zM132.51 148.65h1.04v5.87h-1.04zM143.52 148.65h1.04v5.87h-1.04zM156.53 148.65h1.04v5.87h-1.04zM164.54 148.65h1.04v5.87h-1.04zM173.55 148.65h1.04v5.87h-1.04zM179.56 148.65h2.04v5.87h-2.04zM190.57 148.65h1.04v5.87h-1.04zM192.58 154.47h1.04v5.87h-1.04zM42.4 160.3h1.04v5.87h-1.04zM58.42 160.3h1.04v5.87h-1.04zM66.43 160.3h1.04v5.87h-1.04zM68.43 160.3h2.04v5.87h-2.04zM72.44 160.3h1.04v5.87h-1.04zM92.46 160.3h1.04v5.87h-1.04zM102.47 160.3h2.04v5.87h-2.04zM108.48 160.3h1.04v5.87h-1.04zM111.48 160.3h1.04v5.87h-1.04zM128.5 160.3h1.04v5.87h-1.04zM138.51 160.3h1.04v5.87h-1.04zM153.53 160.3h2.04v5.87h-2.04zM169.55 160.3h1.04v5.87h-1.04zM174.55 160.3h1.04v5.87h-1.04zM180.56 160.3h2.04v5.87h-2.04zM184.57 160.3h2.04v5.87h-2.04zM187.57 160.3h1.04v5.87h-1.04zM190.57 160.3h2.04v5.87h-2.04zM209.6 160.3h3.04v5.87h-3.04z"/>
<path fill="#ffffdf" d="M42.4 49.62h1.04v5.87h-1.04zM55.42 49.62h1.04v5.87h-1.04zM84.45 49.62h1.04v5.87h-1.04zM130.5 49.62h1.04v5.87h-1.04zM150.53 49.62h1.04v5.87h-1.04zM154.53 49.62h1.04v5.87h-1.04zM157.53 49.62h1.04v5.87h-1.04zM81.45 61.27h1.04v5.87h-1.04zM84.45 61.27h1.04v5.87h-1.04zM102.47 61.27h1.04v5.87h-1.04zM116.49 61.27h1.04v5.87h-1.04zM147.52 61.27h1.04v5.87h-1.04zM175.56 61.27h1.04v5.87h-1.04zM67.43 72.92h2.04v5.87h-2.04zM55.42 78.75h1.04v5.87h-1.04zM62.42 78.75h1.04v5.87h-1.04zM88.45 78.75h1.04v5.87h-1.04zM176.56 78.75h1.04v5.87h-1.04zM59.42 142.82h1.04v5.87h-1.04zM61.42 142.82h2.04v5.87h-2.04zM64.43 142.82h3.04v5.87h-3.04zM68.43 142.82h1.04v5.87h-1.04zM74.44 142.82h1.04v5.87h-1.04zM77.44 142.82h1.04v5.87h-1.04zM81.45 142.82h2.04v5.87h-2.04zM86.45 142.82h1.04v5.87h-1.04zM90.46 142.82h1.04v5.87h-1.04zM107.48 142.82h1.04v5.87h-1.04zM50.41 148.65h1.04v5.87h-1.04zM43.4 166.12h1.04v5.87h-1.04zM45.4 166.12h1.04v5.87h-1.04zM64.43 166.12h2.04v5.87h-2.04zM70.43 166.12h1.04v5.87h-1.04zM75.44 166.12h1.04v5.87h-1.04zM100.47 166.12h1.04v5.87h-1.04zM104.47 166.12h1.04v5.87h-1.04zM112.48 166.12h1.04v5.87h-1.04zM122.49 166.12h1.04v5.87h-1.04zM125.5 166.12h1.04v5.87h-1.04zM152.53 166.12h1.04v5.87h-1.04zM155.53 166.12h2.04v5.87h-2.04zM159.54 166.12h1.04v5.87h-1.04zM167.55 166.12h1.04v5.87h-1.04zM181.56 166.12h1.04v5.87h-1.04zM189.57 166.12h1.04v5.87h-1.04zM196.58 166.12h1.04v5.87h-1.04zM199.58 166.12h1.04v5.87h-1.04z"/>
<path fill="#ffff9f" d="M43.4 49.62h1.04v5.87h-1.04zM47.41 49.62h1.04v5.87h-1.04zM81.45 49.62h1.04v5.87h-1.04zM95.46 49.62h1.04v5.87h-1.04zM97.46 49.62h1.04v5.87h-1.04zM112.48 49.62h1.04v5.87h-1.04zM142.52 49.62h1.04v5.87h-1.04zM156.53 49.62h1.04v5.87h-1.04zM186.57 49.62h1.04v5.87h-1.04zM199.58 49.62h1.04v5.87h-1.04zM209.6 49.62h1.04v5.87h-1.04zM61.42 61.27h1.04v5.87h-1.04zM66.43 61.27h1.04v5.87h-1.04zM68.43 61.27h1.04v5.87h-1.04zM74.44 61.27h1.04v5.87h-1.04zM78.44 61.27h1.04v5.87h-1.04zM82.45 61.27h1.04v5.87h-1.04zM87.45 61.27h1.04v5.87h-1.04zM94.46 61.27h1.04v5.87h-1.04zM96.46 61.27h1.04v5.87h-1.04zM109.48 61.27h1.04v5.87h-1.04zM112.48 61.27h1.04v5.87h-1.04zM114.48 61.27h1.04v5.87h-1.04zM119.49 61.27h1.04v5.87h-1.04zM125.5 61.27h1.04v5.87h-1.04zM127.5 61.27h1.04v5.87h-1.04zM151.53 61.27h1.04v5.87h-1.04zM155.53 61.27h3.04v5.87h-3.04zM160.54 61.27h1.04v5.87h-1.04zM169.55 61.27h1.04v5.87h-1.04zM174.55 61.27h1.04v5.87h-1.04zM185.57 61.27h1.04v5.87h-1.04zM188.57 61.27h1.04v5.87h-1.04zM203.59 61.27h1.04v5.87h-1.04zM211.6 61.27h1.04v5.87h-1.04zM130.5 67.1h1.04v5.87h-1.04zM140.51 67.1h1.04v5.87h-1.04zM44.4 72.92h1.04v5.87h-1.04zM47.41 72.92h1.04v5.87h-1.04zM51.41 72.92h1.04v5.87h-1.04zM107.48 72.92h1.04v5.87h-1.04zM138.51 72.92h1.04v5.87h-1.04zM144.52 72.92h1.04v5.87h-1.04zM149.53 72.92h1.04v5.87h-1.04zM158.54 72.92h1.04v5.87h-1.04zM166.55 72.92h1.04v5.87h-1.04zM205.59 72.92h1.04v5.87h-1.04zM79.44 78.75h1.04v5.87h-1.04zM81.45 78.75h1.04v5.87h-1.04zM89.45 78.75h1.04v5.87h-1.04zM95.46 78.75h1.04v5.87h-1.04zM103.47 78.75h1.04v5.87h-1.04zM124.5 78.75h1.04v5.87h-1.04zM126.5 78.75h2.04v5.87h-2.04zM130.5 78.75h1.04v5.87h-1.04zM133.51 78.75h2.04v5.87h-2.04zM136.51 78.75h1.04v5.87h-1.04zM141.52 78.75h1.04v5.87h-1.04zM159.54 78.75h1.04v5.87h-1.04zM168.55 78.75h1.04v5.87h-1.04zM178.56 78.75h1.04v5.87h-1.04zM186.57 78.75h1.04v5.87h-1.04zM190.57 78.75h1.04v5.87h-1.04zM204.59 78.75h1.04v5.87h-1.04zM206.59 78.75h1.04v5.87h-1.04zM211.6 78.75h1.04v5.87h-1.04zM84.45 142.82h1.04v5.87h-1.04zM122.49 142.82h1.04v5.87h-1.04zM125.5 142.82h1.04v5.87h-1.04zM130.5 142.82h1.04v5.87h-1.04zM136.51 142.82h2.04v5.87h-2.04zM142.52 142.82h1.04v5.87h-1.04zM150.53 142.82h1.04v5.87h-1.04zM157.53 142.82h1.04v5.87h-1.04zM166.55 142.82h3.04v5.87h-3.04zM172.55 142.82h3.04v5.87h-3.04zM177.56 142.82h1.04v5.87h-1.04zM180.56 142.82h1.04v5.87h-1.04zM186.57 142.82h3.04v5.87h-3.04zM191.57 142.82h2.04v5.87h-2.04zM196.58 142.82h2.04v5.87h-2.04zM200.58 142.82h1.04v5.87h-1.04zM204.59 142.82h1.04v5.87h-1.04zM206.59 142.82h4.04v5.87h-4.04zM63.42 148.65h1.04v5.87h-1.04zM94.46 148.65h1.04v5.87h-1.04zM184.57 148.65h1.04v5.87h-1.04zM207.59 148.65h1.04v5.87h-1.04zM150.53 154.47h1.04v5.87h-1.04zM44.4 160.3h1.04v5.87h-1.04zM54.41 160.3h1.04v5.87h-1.04zM57.42 160.3h1.04v5.87h-1.04zM81.45 160.3h1.04v5.87h-1.04zM119.49 160.3h1.04v5.87h-1.04zM178.56 160.3h1.04v5.87h-1.04zM72.44 166.12h1.04v5.87h-1.04z"/>
<path fill="#ffffb9" d="M44.4 49.62h1.04v5.87h-1.04zM71.43 49.62h1.04v5.87h-1.04zM94.46 49.62h1.04v5.87h-1.04zM99.47 49.62h1.04v5.87h-1.04zM162.54 49.62h1.04v5.87h-1.04zM178.56 49.62h2.04v5.87h-2.04zM194.58 49.62h1.04v5.87h-1.04zM196.58 49.62h1.04v5.87h-1.04zM201.59 49.62h1.04v5.87h-1.04zM43.4 61.27h1.04v5.87h-1.04zM46.4 61.27h1.04v5.87h-1.04zM51.41 61.27h1.04v5.87h-1.04zM65.43 61.27h1.04v5.87h-1.04zM71.43 61.27h1.04v5.87h-1.04zM77.44 61.27h1.04v5.87h-1.04zM91.46 61.27h1.04v5.87h-1.04zM95.46 61.27h1.04v5.87h-1.04zM108.48 61.27h1.04v5.87h-1.04zM134.51 61.27h1.04v5.87h-1.04zM136.51 61.27h1.04v5.87h-1.04zM150.53 61.27h1.04v5.87h-1.04zM158.54 61.27h1.04v5.87h-1.04zM161.54 61.27h1.04v5.87h-1.04zM168.55 61.27h1.04v5.87h-1.04zM176.56 61.27h1.04v5.87h-1.04zM179.56 61.27h1.04v5.87h-1.04zM183.56 61.27h1.04v5.87h-1.04zM74.44 72.92h1.04v5.87h-1.04zM90.46 72.92h1.04v5.87h-1.04zM101.47 72.92h1.04v5.87h-1.04zM117.49 72.92h1.04v5.87h-1.04zM125.5 72.92h1.04v5.87h-1.04zM156.53 72.92h1.04v5.87h-1.04zM90.46 78.75h1.04v5.87h-1.04zM102.47 78.75h1.04v5.87h-1.04zM123.49 78.75h1.04v5.87h-1.04zM137.51 78.75h1.04v5.87h-1.04zM155.53 78.75h1.04v5.87h-1.04zM98.47 142.82h1.04v5.87h-1.04zM102.47 142.82h2.04v5.87h-2.04zM105.47 142.82h2.04v5.87h-2.04zM110.48 142.82h1.04v5.87h-1.04zM112.48 142.82h3.04v5.87h-3.04zM117.49 142.82h3.04v5.87h-3.04zM124.5 142.82h1.04v5.87h-1.04zM127.5 142.82h3.04v5.87h-3.04zM132.51 142.82h1.04v5.87h-1.04zM134.51 142.82h1.04v5.87h-1.04zM138.51 142.82h1.04v5.87h-1.04zM144.52 142.82h2.04v5.87h-2.04zM149.53 142.82h1.04v5.87h-1.04zM159.54 142.82h2.04v5.87h-2.04zM164.54 142.82h1.04v5.87h-1.04zM170.55 142.82h1.04v5.87h-1.04zM45.4 148.65h1.04v5.87h-1.04zM51.41 148.65h1.04v5.87h-1.04zM113.48 148.65h1.04v5.87h-1.04zM63.42 160.3h1.04v5.87h-1.04zM87.45 160.3h1.04v5.87h-1.04zM110.48 160.3h1.04v5.87h-1.04zM151.53 160.3h1.04v5.87h-1.04zM188.57 160.3h1.04v5.87h-1.04zM69.43 166.12h1.04v5.87h-1.04zM79.44 166.12h1.04v5.87h-1.04zM136.51 166.12h1.04v5.87h-1.04zM147.52 166.12h1.04v5.87h-1.04zM172.55 166.12h1.04v5.87h-1.04zM175.56 166.12h1.04v5.87h-1.04zM177.56 166.12h1.04v5.87h-1.04zM185.57 166.12h1.04v5.87h-1.04zM191.57 166.12h1.04v5.87h-1.04zM203.59 166.12h1.04v5.87h-1.04zM209.6 166.12h1.04v5.87h-1.04z"/>
<path fill="#fffff9" d="M51.41 49.62h1.04v5.87h-1.04zM54.41 49.62h1.04v5.87h-1.04zM146.52 49.62h1.04v5.87h-1.04zM204.59 49.62h1.04v5.87h-1.04zM50.41 61.27h1.04v5.87h-1.04zM54.41 61.27h1.04v5.87h-1.04zM64.43 61.27h1.04v5.87h-1.04zM72.44 61.27h1.04v5.87h-1.04zM105.47 61.27h1.04v5.87h-1.04zM130.5 61.27h1.04v5.87h-1.04zM167.55 61.27h1.04v5.87h-1.04zM172.55 61.27h1.04v5.87h-1.04zM192.58 61.27h1.04v5.87h-1.04zM202.59 61.27h1.04v5.87h-1.04zM208.59 61.27h1.04v5.87h-1.04zM210.6 61.27h1.04v5.87h-1.04zM83.45 78.75h1.04v5.87h-1.04zM149.53 78.75h1.04v5.87h-1.04zM56.42 142.82h1.04v5.87h-1.04zM58.42 142.82h1.04v5.87h-1.04zM63.42 142.82h1.04v5.87h-1.04zM50.41 166.12h1.04v5.87h-1.04zM60.42 166.12h2.04v5.87h-2.04zM73.44 166.12h1.04v5.87h-1.04zM77.44 166.12h2.04v5.87h-2.04zM93.46 166.12h2.04v5.87h-2.04zM96.46 166.12h2.04v5.87h-2.04zM123.49 166.12h2.04v5.87h-2.04zM127.5 166.12h1.04v5.87h-1.04zM169.55 166.12h1.04v5.87h-1.04zM178.56 166.12h2.04v5.87h-2.04zM190.57 166.12h1.04v5.87h-1.04zM204.59 166.12h1.04v5.87h-1.04zM206.59 166.12h1.04v5.87h-1.04zM211.6 166.12h2.04v5.87h-2.04z"/>
<path fill="#ffffd2" d="M53.41 49.62h1.04v5.87h-1.04zM66.43 49.62h1.04v5.87h-1.04zM70.43 49.62h1.04v5.87h-1.04zM79.44 49.62h2.04v5.87h-2.04zM82.45 49.62h1.04v5.87h-1.04zM98.47 49.62h1.04v5.87h-1.04zM133.51 49.62h1.04v5.87h-1.04zM170.55 49.62h1.04v5.87h-1.04zM175.56 49.62h1.04v5.87h-1.04zM195.58 49.62h1.04v5.87h-1.04zM44.4 61.27h1.04v5.87h-1.04zM59.42 61.27h1.04v5.87h-1.04zM75.44 61.27h1.04v5.87h-1.04zM98.47 61.27h1.04v5.87h-1.04zM140.51 61.27h1.04v5.87h-1.04zM173.55 61.27h1.04v5.87h-1.04zM180.56 61.27h1.04v5.87h-1.04zM200.58 61.27h1.04v5.87h-1.04zM49.41 72.92h1.04v5.87h-1.04zM168.55 72.92h1.04v5.87h-1.04zM175.56 72.92h1.04v5.87h-1.04zM43.4 78.75h1.04v5.87h-1.04zM54.41 78.75h1.04v5.87h-1.04zM59.42 78.75h1.04v5.87h-1.04zM74.44 78.75h1.04v5.87h-1.04zM84.45 78.75h2.04v5.87h-2.04zM111.48 78.75h1.04v5.87h-1.04zM60.42 142.82h1.04v5.87h-1.04zM69.43 142.82h1.04v5.87h-1.04zM76.44 142.82h1.04v5.87h-1.04zM80.44 142.82h1.04v5.87h-1.04zM83.45 142.82h1.04v5.87h-1.04zM87.45 142.82h1.04v5.87h-1.04zM89.45 142.82h1.04v5.87h-1.04zM96.46 142.82h1.04v5.87h-1.04zM101.47 142.82h1.04v5.87h-1.04zM109.48 142.82h1.04v5.87h-1.04zM116.49 142.82h1.04v5.87h-1.04zM43.4 148.65h1.04v5.87h-1.04zM46.4 148.65h1.04v5.87h-1.04zM43.4 160.3h1.04v5.87h-1.04zM61.42 160.3h1.04v5.87h-1.04zM83.45 160.3h1.04v5.87h-1.04zM97.46 160.3h1.04v5.87h-1.04zM48.41 166.12h1.04v5.87h-1.04zM55.42 166.12h1.04v5.87h-1.04zM63.42 166.12h1.04v5.87h-1.04zM81.45 166.12h1.04v5.87h-1.04zM99.47 166.12h1.04v5.87h-1.04zM105.47 166.12h1.04v5.87h-1.04zM116.49 166.12h1.04v5.87h-1.04zM120.49 166.12h1.04v5.87h-1.04zM146.52 166.12h1.04v5.87h-1.04zM171.55 166.12h1.04v5.87h-1.04zM182.56 166.12h2.04v5.87h-2.04zM205.59 166.12h1.04v5.87h-1.04z"/>
<path fill="#ffff79" d="M56.42 49.62h1.04v5.87h-1.04zM73.44 49.62h1.04v5.87h-1.04zM76.44 49.62h1.04v5.87h-1.04zM78.44 49.62h1.04v5.87h-1.04zM89.45 49.62h2.04v5.87h-2.04zM93.46 49.62h1.04v5.87h-1.04zM105.47 49.62h1.04v5.87h-1.04zM108.48 49.62h1.04v5.87h-1.04zM114.48 49.62h3.04v5.87h-3.04zM119.49 49.62h1.04v5.87h-1.04zM123.49 49.62h1.04v5.87h-1.04zM127.5 49.62h1.04v5.87h-1.04zM134.51 49.62h1.04v5.87h-1.04zM140.51 49.62h1.04v5.87h-1.04zM145.52 49.62h1.04v5.87h-1.04zM148.52 49.62h1.04v5.87h-1.04zM152.53 49.62h1.04v5.87h-1.04zM168.55 49.62h2.04v5.87h-2.04zM173.55 49.62h1.04v5.87h-1.04zM197.58 49.62h1.04v5.87h-1.04zM210.6 49.62h1.04v5.87h-1.04zM80.44 61.27h1.04v5.87h-1.04zM101.47 61.27h1.04v5.87h-1.04zM129.5 61.27h1.04v5.87h-1.04zM132.51 61.27h1.04v5.87h-1.04zM182.56 61.27h1.04v5.87h-1.04zM193.58 61.27h1.04v5.87h-1.04zM55.42 67.1h1.04v5.87h-1.04zM89.45 67.1h1.04v5.87h-1.04zM136.51 67.1h1.04v5.87h-1.04zM138.51 67.1h1.04v5.87h-1.04zM53.41 72.92h1.04v5.87h-1.04zM59.42 72.92h1.04v5.87h-1.04zM62.42 72.92h1.04v5.87h-1.04zM92.46 72.92h1.04v5.87h-1.04zM111.48 72.92h1.04v5.87h-1.04zM113.48 72.92h1.04v5.87h-1.04zM120.49 72.92h1.04v5.87h-1.04zM122.49 72.92h1.04v5.87h-1.04zM126.5 72.92h1.04v5.87h-1.04zM133.51 72.92h1.04v5.87h-1.04zM177.56 72.92h1.04v5.87h-1.04zM183.56 72.92h1.04v5.87h-1.04zM211.6 72.92h1.04v5.87h-1.04zM47.41 78.75h1.04v5.87h-1.04zM50.41 78.75h1.04v5.87h-1.04zM53.41 78.75h1.04v5.87h-1.04zM60.42 78.75h1.04v5.87h-1.04zM69.43 78.75h3.04v5.87h-3.04zM98.47 78.75h1.04v5.87h-1.04zM106.47 78.75h2.04v5.87h-2.04zM115.49 78.75h1.04v5.87h-1.04zM120.49 78.75h1.04v5.87h-1.04zM145.52 78.75h1.04v5.87h-1.04zM150.53 78.75h1.04v5.87h-1.04zM162.54 78.75h2.04v5.87h-2.04zM172.55 78.75h1.04v5.87h-1.04zM177.56 78.75h1.04v5.87h-1.04zM187.57 78.75h1.04v5.87h-1.04zM195.58 78.75h1.04v5.87h-1.04zM146.52 84.57h1.04v5.87h-1.04zM179.56 142.82h1.04v5.87h-1.04zM96.46 148.65h1.04v5.87h-1.04zM108.48 148.65h1.04v5.87h-1.04zM197.58 148.65h1.04v5.87h-1.04zM55.42 154.47h1.04v5.87h-1.04zM118.49 154.47h1.04v5.87h-1.04zM45.4 160.3h1.04v5.87h-1.04zM48.41 160.3h1.04v5.87h-1.04zM52.41 160.3h1.04v5.87h-1.04zM62.42 160.3h1.04v5.87h-1.04zM96.46 160.3h1.04v5.87h-1.04zM105.47 160.3h1.04v5.87h-1.04zM107.48 160.3h1.04v5.87h-1.04zM132.51 160.3h1.04v5.87h-1.04zM149.53 160.3h1.04v5.87h-1.04zM157.53 160.3h1.04v5.87h-1.04zM170.55 160.3h1.04v5.87h-1.04zM172.55 160.3h1.04v5.87h-1.04zM189.57 160.3h1.04v5.87h-1.04zM202.59 160.3h1.04v5.87h-1.04zM204.59 160.3h1.04v5.87h-1.04zM207.59 160.3h1.04v5.87h-1.04zM100.47 171.95h1.04v5.87h-1.04z"/>
<path fill="#ffff46" d="M57.42 49.62h1.04v5.87h-1.04zM206.59 49.62h1.04v5.87h-1.04zM72.44 67.1h1.04v5.87h-1.04zM115.49 67.1h1.04v5.87h-1.04zM134.51 67.1h1.04v5.87h-1.04zM175.56 67.1h1.04v5.87h-1.04zM199.58 67.1h1.04v5.87h-1.04zM64.43 72.92h1.04v5.87h-1.04zM76.44 72.92h2.04v5.87h-2.04zM110.48 72.92h1.04v5.87h-1.04zM112.48 72.92h1.04v5.87h-1.04zM124.5 72.92h1.04v5.87h-1.04zM141.52 72.92h2.04v5.87h-2.04zM152.53 72.92h1.04v5.87h-1.04zM163.54 72.92h1.04v5.87h-1.04zM195.58 72.92h1.04v5.87h-1.04zM197.58 72.92h1.04v5.87h-1.04zM200.58 72.92h1.04v5.87h-1.04zM204.59 72.92h1.04v5.87h-1.04zM108.48 78.75h1.04v5.87h-1.04zM81.45 84.57h1.04v5.87h-1.04zM120.49 84.57h1.04v5.87h-1.04zM52.41 148.65h1.04v5.87h-1.04zM57.42 148.65h2.04v5.87h-2.04zM66.43 148.65h1.04v5.87h-1.04zM69.43 148.65h1.04v5.87h-1.04zM72.44 148.65h2.04v5.87h-2.04zM78.44 148.65h1.04v5.87h-1.04zM82.45 148.65h3.04v5.87h-3.04zM90.46 148.65h1.04v5.87h-1.04zM95.46 148.65h1.04v5.87h-1.04zM99.47 148.65h1.04v5.87h-1.04zM101.47 148.65h2.04v5.87h-2.04zM114.48 148.65h2.04v5.87h-2.04zM119.49 148.65h1.04v5.87h-1.04zM128.5 148.65h1.04v5.87h-1.04zM133.51 148.65h2.04v5.87h-2.04zM139.51 148.65h3.04v5.87h-3.04zM146.52 148.65h3.04v5.87h-3.04zM152.53 148.65h1.04v5.87h-1.04zM157.53 148.65h1.04v5.87h-1.04zM167.55 148.65h1.04v5.87h-1.04zM169.55 148.65h1.04v5.87h-1.04zM172.55 148.65h1.04v5.87h-1.04zM176.56 148.65h1.04v5.87h-1.04zM181.56 148.65h1.04v5.87h-1.04zM189.57 148.65h1.04v5.87h-1.04zM200.58 148.65h2.04v5.87h-2.04zM203.59 148.65h1.04v5.87h-1.04zM73.44 154.47h1.04v5.87h-1.04zM168.55 154.47h1.04v5.87h-1.04zM173.55 154.47h1.04v5.87h-1.04zM65.43 160.3h1.04v5.87h-1.04zM73.44 160.3h1.04v5.87h-1.04zM91.46 160.3h1.04v5.87h-1.04zM104.47 160.3h1.04v5.87h-1.04zM113.48 160.3h1.04v5.87h-1.04zM163.54 160.3h1.04v5.87h-1.04zM192.58 160.3h1.04v5.87h-1.04zM197.58 160.3h2.04v5.87h-2.04zM200.58 160.3h2.04v5.87h-2.04zM208.59 160.3h1.04v5.87h-1.04zM212.6 160.3h1.04v5.87h-1.04z"/>
<path fill="#ffffec" d="M59.42 49.62h2.04v5.87h-2.04zM131.5 49.62h2.04v5.87h-2.04zM165.54 49.62h1.04v5.87h-1.04zM176.56 49.62h1.04v5.87h-1.04zM189.57 49.62h1.04v5.87h-1.04zM42.4 61.27h1.04v5.87h-1.04zM86.45 61.27h1.04v5.87h-1.04zM89.45 61.27h1.04v5.87h-1.04zM107.48 61.27h1.04v5.87h-1.04zM113.48 61.27h1.04v5.87h-1.04zM124.5 61.27h1.04v5.87h-1.04zM135.51 61.27h1.04v5.87h-1.04zM153.53 61.27h1.04v5.87h-1.04zM170.55 61.27h1.04v5.87h-1.04zM187.57 61.27h1.04v5.87h-1.04zM178.56 72.92h1.04v5.87h-1.04zM42.4 78.75h1.04v5.87h-1.04zM56.42 78.75h1.04v5.87h-1.04zM66.43 78.75h3.04v5.87h-3.04zM73.44 78.75h1.04v5.87h-1.04zM94.46 78.75h1.04v5.87h-1.04zM142.52 78.75h1.04v5.87h-1.04zM209.6 78.75h1.04v5.87h-1.04zM57.42 142.82h1.04v5.87h-1.04zM67.43 142.82h1.04v5.87h-1.04zM72.44 142.82h1.04v5.87h-1.04zM85.45 142.82h1.04v5.87h-1.04zM47.41 148.65h2.04v5.87h-2.04zM51.41 166.12h1.04v5.87h-1.04zM56.42 166.12h1.04v5.87h-1.04zM59.42 166.12h1.04v5.87h-1.04zM66.43 166.12h1.04v5.87h-1.04zM76.44 166.12h1.04v5.87h-1.04zM82.45 166.12h1.04v5.87h-1.04zM85.45 166.12h1.04v5.87h-1.04zM88.45 166.12h1.04v5.87h-1.04zM92.46 166.12h1.04v5.87h-1.04zM108.48 166.12h1.04v5.87h-1.04zM126.5 166.12h1.04v5.87h-1.04zM130.5 166.12h1.04v5.87h-1.04zM144.52 166.12h1.04v5.87h-1.04zM150.53 166.12h1.04v5.87h-1.04zM195.58 166.12h1.04v5.87h-1.04zM208.59 166.12h1.04v5.87h-1.04z"/>
<path fill="#ffffc6" d="M62.42 49.62h1.04v5.87h-1.04zM117.49 49.62h2.04v5.87h-2.04zM125.5 49.62h1.04v5.87h-1.04zM137.51 49.62h1.04v5.87h-1.04zM159.54 49.62h1.04v5.87h-1.04zM181.56 49.62h1.04v5.87h-1.04zM198.58 49.62h1.04v5.87h-1.04zM203.59 49.62h1.04v5.87h-1.04zM55.42 61.27h1.04v5.87h-1.04zM62.42 61.27h1.04v5.87h-1.04zM90.46 61.27h1.04v5.87h-1.04zM103.47 61.27h1.04v5.87h-1.04zM137.51 61.27h1.04v5.87h-1.04zM154.53 61.27h1.04v5.87h-1.04zM163.54 61.27h2.04v5.87h-2.04zM177.56 61.27h1.04v5.87h-1.04zM194.58 61.27h1.04v5.87h-1.04zM199.58 61.27h1.04v5.87h-1.04zM206.59 61.27h1.04v5.87h-1.04zM212.6 61.27h1.04v5.87h-1.04zM102.47 72.92h1.04v5.87h-1.04zM109.48 72.92h1.04v5.87h-1.04zM164.54 72.92h1.04v5.87h-1.04zM52.41 78.75h1.04v5.87h-1.04zM65.43 78.75h1.04v5.87h-1.04zM97.46 78.75h1.04v5.87h-1.04zM128.5 78.75h1.04v5.87h-1.04zM132.51 78.75h1.04v5.87h-1.04zM140.51 78.75h1.04v5.87h-1.04zM144.52 78.75h1.04v5.87h-1.04zM170.55 78.75h2.04v5.87h-2.04zM193.58 78.75h1.04v5.87h-1.04zM196.58 78.75h1.04v5.87h-1.04zM70.43 142.82h1.04v5.87h-1.04zM73.44 142.82h1.04v5.87h-1.04zM75.44 142.82h1.04v5.87h-1.04zM78.44 142.82h2.04v5.87h-2.04zM91.46 142.82h5.05v5.87h-5.05zM97.46 142.82h1.04v5.87h-1.04zM99.47 142.82h2.04v5.87h-2.04zM104.47 142.82h1.04v5.87h-1.04zM111.48 142.82h1.04v5.87h-1.04zM115.49 142.82h1.04v5.87h-1.04zM120.49 142.82h2.04v5.87h-2.04zM131.5 142.82h1.04v5.87h-1.04zM146.52 142.82h1.04v5.87h-1.04zM152.53 142.82h1.04v5.87h-1.04zM158.54 142.82h1.04v5.87h-1.04zM169.55 142.82h1.04v5.87h-1.04zM42.4 148.65h1.04v5.87h-1.04zM62.42 166.12h1.04v5.87h-1.04zM71.43 166.12h1.04v5.87h-1.04zM74.44 166.12h1.04v5.87h-1.04zM87.45 166.12h1.04v5.87h-1.04zM106.47 166.12h1.04v5.87h-1.04zM118.49 166.12h1.04v5.87h-1.04zM138.51 166.12h1.04v5.87h-1.04zM166.55 166.12h1.04v5.87h-1.04zM173.55 166.12h2.04v5.87h-2.04zM180.56 166.12h1.04v5.87h-1.04zM194.58 166.12h1.04v5.87h-1.04zM197.58 166.12h1.04v5.87h-1.04z"/>
<path fill="#ffffac" d="M67.43 49.62h1.04v5.87h-1.04zM69.43 49.62h1.04v5.87h-1.04zM104.47 49.62h1.04v5.87h-1.04zM48.41 61.27h2.04v5.87h-2.04zM52.41 61.27h1.04v5.87h-1.04zM60.42 61.27h1.04v5.87h-1.04zM63.42 61.27h1.04v5.87h-1.04zM92.46 61.27h1.04v5.87h-1.04zM111.48 61.27h1.04v5.87h-1.04zM118.49 61.27h1.04v5.87h-1.04zM120.49 61.27h1.04v5.87h-1.04zM123.49 61.27h1.04v5.87h-1.04zM131.5 61.27h1.04v5.87h-1.04zM138.51 61.27h1.04v5.87h-1.04zM145.52 61.27h1.04v5.87h-1.04zM152.53 61.27h1.04v5.87h-1.04zM165.54 61.27h1.04v5.87h-1.04zM196.58 61.27h1.04v5.87h-1.04zM205.59 61.27h1.04v5.87h-1.04zM209.6 61.27h1.04v5.87h-1.04zM61.42 72.92h1.04v5.87h-1.04zM83.45 72.92h1.04v5.87h-1.04zM93.46 72.92h1.04v5.87h-1.04zM132.51 72.92h1.04v5.87h-1.04zM160.54 72.92h1.04v5.87h-1.04zM199.58 72.92h1.04v5.87h-1.04zM208.59 72.92h1.04v5.87h-1.04zM46.4 78.75h1.04v5.87h-1.04zM116.49 78.75h1.04v5.87h-1.04zM118.49 78.75h1.04v5.87h-1.04zM131.5 78.75h1.04v5.87h-1.04zM138.51 78.75h1.04v5.87h-1.04zM151.53 78.75h1.04v5.87h-1.04zM188.57 78.75h1.04v5.87h-1.04zM194.58 78.75h1.04v5.87h-1.04zM202.59 78.75h2.04v5.87h-2.04zM205.59 78.75h1.04v5.87h-1.04zM88.45 142.82h1.04v5.87h-1.04zM123.49 142.82h1.04v5.87h-1.04zM126.5 142.82h1.04v5.87h-1.04zM133.51 142.82h1.04v5.87h-1.04zM135.51 142.82h1.04v5.87h-1.04zM139.51 142.82h3.04v5.87h-3.04zM143.52 142.82h1.04v5.87h-1.04zM148.52 142.82h1.04v5.87h-1.04zM151.53 142.82h1.04v5.87h-1.04zM153.53 142.82h4.04v5.87h-4.04zM162.54 142.82h2.04v5.87h-2.04zM171.55 142.82h1.04v5.87h-1.04zM175.56 142.82h1.04v5.87h-1.04zM185.57 142.82h1.04v5.87h-1.04zM190.57 142.82h1.04v5.87h-1.04zM198.58 142.82h1.04v5.87h-1.04zM44.4 148.65h1.04v5.87h-1.04zM49.41 148.65h1.04v5.87h-1.04zM121.49 148.65h1.04v5.87h-1.04zM124.5 148.65h1.04v5.87h-1.04zM151.53 148.65h1.04v5.87h-1.04zM177.56 148.65h1.04v5.87h-1.04zM70.43 160.3h1.04v5.87h-1.04zM121.49 160.3h1.04v5.87h-1.04zM150.53 160.3h1.04v5.87h-1.04zM196.58 160.3h1.04v5.87h-1.04zM54.41 166.12h1.04v5.87h-1.04zM80.44 166.12h1.04v5.87h-1.04zM102.47 166.12h2.04v5.87h-2.04zM117.49 166.12h1.04v5.87h-1.04zM139.51 166.12h1.04v5.87h-1.04z"/>
<path fill="#ffff39" d="M85.45 49.62h1.04v5.87h-1.04zM120.49 49.62h1.04v5.87h-1.04zM128.5 49.62h1.04v5.87h-1.04zM158.54 49.62h1.04v5.87h-1.04zM185.57 49.62h1.04v5.87h-1.04zM44.4 67.1h1.04v5.87h-1.04zM60.42 67.1h1.04v5.87h-1.04zM74.44 67.1h1.04v5.87h-1.04zM81.45 67.1h1.04v5.87h-1.04zM84.45 67.1h1.04v5.87h-1.04zM91.46 67.1h1.04v5.87h-1.04zM107.48 67.1h1.04v5.87h-1.04zM109.48 67.1h1.04v5.87h-1.04zM111.48 67.1h2.04v5.87h-2.04zM114.48 67.1h1.04v5.87h-1.04zM116.49 67.1h1.04v5.87h-1.04zM123.49 67.1h1.04v5.87h-1.04zM126.5 67.1h1.04v5.87h-1.04zM128.5 67.1h1.04v5.87h-1.04zM137.51 67.1h1.04v5.87h-1.04zM155.53 67.1h1.04v5.87h-1.04zM158.54 67.1h1.04v5.87h-1.04zM160.54 67.1h1.04v5.87h-1.04zM165.54 67.1h1.04v5.87h-1.04zM179.56 67.1h1.04v5.87h-1.04zM181.56 67.1h2.04v5.87h-2.04zM187.57 67.1h1.04v5.87h-1.04zM196.58 67.1h1.04v5.87h-1.04zM45.4 72.92h1.04v5.87h-1.04zM80.44 72.92h1.04v5.87h-1.04zM95.46 72.92h2.04v5.87h-2.04zM134.51 72.92h1.04v5.87h-1.04zM148.52 72.92h1.04v5.87h-1.04zM153.53 72.92h1.04v5.87h-1.04zM161.54 72.92h1.04v5.87h-1.04zM180.56 72.92h1.04v5.87h-1.04zM203.59 72.92h1.04v5.87h-1.04zM206.59 72.92h1.04v5.87h-1.04zM62.42 148.65h1.04v5.87h-1.04zM71.43 148.65h1.04v5.87h-1.04zM89.45 148.65h1.04v5.87h-1.04zM109.48 148.65h1.04v5.87h-1.04zM111.48 148.65h1.04v5.87h-1.04zM120.49 148.65h1.04v5.87h-1.04zM123.49 148.65h1.04v5.87h-1.04zM131.5 148.65h1.04v5.87h-1.04zM135.51 148.65h1.04v5.87h-1.04zM137.51 148.65h1.04v5.87h-1.04zM153.53 148.65h1.04v5.87h-1.04zM159.54 148.65h1.04v5.87h-1.04zM166.55 148.65h1.04v5.87h-1.04zM171.55 148.65h1.04v5.87h-1.04zM183.56 148.65h1.04v5.87h-1.04zM192.58 148.65h1.04v5.87h-1.04zM198.58 148.65h1.04v5.87h-1.04zM202.59 148.65h1.04v5.87h-1.04zM204.59 148.65h2.04v5.87h-2.04zM52.41 154.47h1.04v5.87h-1.04zM71.43 154.47h1.04v5.87h-1.04zM81.45 154.47h1.04v5.87h-1.04zM89.45 154.47h1.04v5.87h-1.04zM91.46 154.47h1.04v5.87h-1.04zM97.46 154.47h1.04v5.87h-1.04zM101.47 154.47h1.04v5.87h-1.04zM111.48 154.47h1.04v5.87h-1.04zM115.49 154.47h1.04v5.87h-1.04zM120.49 154.47h1.04v5.87h-1.04zM140.51 154.47h1.04v5.87h-1.04zM147.52 154.47h2.04v5.87h-2.04zM160.54 154.47h1.04v5.87h-1.04zM163.54 154.47h1.04v5.87h-1.04zM194.58 154.47h1.04v5.87h-1.04zM196.58 154.47h1.04v5.87h-1.04zM202.59 154.47h1.04v5.87h-1.04zM209.6 154.47h1.04v5.87h-1.04zM46.4 160.3h1.04v5.87h-1.04zM55.42 160.3h1.04v5.87h-1.04zM60.42 160.3h1.04v5.87h-1.04zM64.43 160.3h1.04v5.87h-1.04zM76.44 160.3h1.04v5.87h-1.04zM78.44 160.3h1.04v5.87h-1.04zM86.45 160.3h1.04v5.87h-1.04zM90.46 160.3h1.04v5.87h-1.04zM99.47 160.3h1.04v5.87h-1.04zM109.48 160.3h1.04v5.87h-1.04zM116.49 160.3h2.04v5.87h-2.04zM122.49 160.3h1.04v5.87h-1.04zM129.5 160.3h1.04v5.87h-1.04zM158.54 160.3h1.04v5.87h-1.04zM165.54 160.3h1.04v5.87h-1.04zM167.55 160.3h1.04v5.87h-1.04zM175.56 160.3h1.04v5.87h-1.04zM177.56 160.3h1.04v5.87h-1.04zM179.56 160.3h1.04v5.87h-1.04zM194.58 160.3h2.04v5.87h-2.04z"/>
<path fill="#ffff93" d="M100.47 49.62h1.04v5.87h-1.04zM102.47 49.62h1.04v5.87h-1.04zM111.48 49.62h1.04v5.87h-1.04zM126.5 49.62h1.04v5.87h-1.04zM135.51 49.62h1.04v5.87h-1.04zM138.51 49.62h1.04v5.87h-1.04zM151.53 49.62h1.04v5.87h-1.04zM164.54 49.62h1.04v5.87h-1.04zM171.55 49.62h1.04v5.87h-1.04zM188.57 49.62h1.04v5.87h-1.04zM190.57 49.62h1.04v5.87h-1.04zM207.59 49.62h1.04v5.87h-1.04zM53.41 61.27h1.04v5.87h-1.04zM57.42 61.27h1.04v5.87h-1.04zM93.46 61.27h1.04v5.87h-1.04zM104.47 61.27h1.04v5.87h-1.04zM106.47 61.27h1.04v5.87h-1.04zM133.51 61.27h1.04v5.87h-1.04zM141.52 61.27h1.04v5.87h-1.04zM144.52 61.27h1.04v5.87h-1.04zM146.52 61.27h1.04v5.87h-1.04zM184.57 61.27h1.04v5.87h-1.04zM190.57 61.27h1.04v5.87h-1.04zM198.58 61.27h1.04v5.87h-1.04zM79.44 67.1h1.04v5.87h-1.04zM113.48 67.1h1.04v5.87h-1.04zM167.55 67.1h1.04v5.87h-1.04zM180.56 67.1h1.04v5.87h-1.04zM55.42 72.92h1.04v5.87h-1.04zM94.46 72.92h1.04v5.87h-1.04zM99.47 72.92h1.04v5.87h-1.04zM173.55 72.92h1.04v5.87h-1.04zM179.56 72.92h1.04v5.87h-1.04zM51.41 78.75h1.04v5.87h-1.04zM77.44 78.75h2.04v5.87h-2.04zM80.44 78.75h1.04v5.87h-1.04zM86.45 78.75h1.04v5.87h-1.04zM99.47 78.75h1.04v5.87h-1.04zM104.47 78.75h1.04v5.87h-1.04zM110.48 78.75h1.04v5.87h-1.04zM112.48 78.75h1.04v5.87h-1.04zM122.49 78.75h1.04v5.87h-1.04zM143.52 78.75h1.04v5.87h-1.04zM147.52 78.75h1.04v5.87h-1.04zM152.53 78.75h1.04v5.87h-1.04zM160.54 78.75h1.04v5.87h-1.04zM165.54 78.75h1.04v5.87h-1.04zM175.56 78.75h1.04v5.87h-1.04zM182.56 78.75h1.04v5.87h-1.04zM184.57 78.75h2.04v5.87h-2.04zM192.58 78.75h1.04v5.87h-1.04zM197.58 78.75h1.04v5.87h-1.04zM200.58 78.75h2.04v5.87h-2.04zM207.59 78.75h2.04v5.87h-2.04zM108.48 142.82h1.04v5.87h-1.04zM147.52 142.82h1.04v5.87h-1.04zM176.56 142.82h1.04v5.87h-1.04zM181.56 142.82h1.04v5.87h-1.04zM183.56 142.82h2.04v5.87h-2.04zM189.57 142.82h1.04v5.87h-1.04zM195.58 142.82h1.04v5.87h-1.04zM199.58 142.82h1.04v5.87h-1.04zM201.59 142.82h3.04v5.87h-3.04zM205.59 142.82h1.04v5.87h-1.04zM212.6 142.82h1.04v5.87h-1.04zM61.42 148.65h1.04v5.87h-1.04zM75.44 148.65h1.04v5.87h-1.04zM160.54 148.65h1.04v5.87h-1.04zM194.58 148.65h1.04v5.87h-1.04zM206.59 148.65h1.04v5.87h-1.04z"/>
<path fill="#9393ff" d="M42.4 55.45h1.04v5.87h-1.04zM44.4 55.45h1.04v5.87h-1.04zM54.41 55.45h1.04v5.87h-1.04zM63.42 55.45h1.04v5.87h-1.04zM85.45 55.45h1.04v5.87h-1.04zM92.46 55.45h1.04v5.87h-1.04zM110.48 55.45h1.04v5.87h-1.04zM113.48 55.45h1.04v5.87h-1.04zM123.49 55.45h1.04v5.87h-1.04zM132.51 55.45h1.04v5.87h-1.04zM134.51 55.45h2.04v5.87h-2.04zM140.51 55.45h1.04v5.87h-1.04zM148.52 55.45h2.04v5.87h-2.04zM151.53 55.45h1.04v5.87h-1.04zM153.53 55.45h1.04v5.87h-1.04zM156.53 55.45h1.04v5.87h-1.04zM162.54 55.45h1.04v5.87h-1.04zM164.54 55.45h1.04v5.87h-1.04zM203.59 55.45h1.04v5.87h-1.04zM207.59 55.45h1.04v5.87h-1.04zM69.43 90.4h1.04v5.87h-1.04zM211.6 90.4h1.04v5.87h-1.04zM206.59 102.05h1.04v5.87h-1.04zM63.42 107.88h1.04v5.87h-1.04zM96.46 137h1.04v5.87h-1.04zM99.47 137h1.04v5.87h-1.04zM175.56 137h1.04v5.87h-1.04z"/>
<path fill="#6060ff" d="M43.4 55.45h1.04v5.87h-1.04zM53.41 55.45h1.04v5.87h-1.04zM70.43 55.45h1.04v5.87h-1.04zM88.45 55.45h1.04v5.87h-1.04zM115.49 55.45h1.04v5.87h-1.04zM119.49 55.45h1.04v5.87h-1.04zM131.5 55.45h1.04v5.87h-1.04zM144.52 55.45h1.04v5.87h-1.04zM166.55 55.45h2.04v5.87h-2.04zM172.55 55.45h1.04v5.87h-1.04zM177.56 55.45h1.04v5.87h-1.04zM179.56 55.45h1.04v5.87h-1.04zM181.56 55.45h1.04v5.87h-1.04zM184.57 55.45h1.04v5.87h-1.04zM130.5 90.4h1.04v5.87h-1.04zM168.55 90.4h1.04v5.87h-1.04zM78.44 96.22h1.04v5.87h-1.04zM162.54 96.22h1.04v5.87h-1.04zM210.6 96.22h1.04v5.87h-1.04zM52.41 113.7h1.04v5.87h-1.04zM147.52 113.7h1.04v5.87h-1.04zM210.6 113.7h1.04v5.87h-1.04zM88.45 125.35h1.04v5.87h-1.04zM118.49 131.18h1.04v5.87h-1.04zM136.51 131.18h1.04v5.87h-1.04zM72.44 137h1.04v5.87h-1.04zM89.45 137h1.04v5.87h-1.04zM92.46 137h1.04v5.87h-1.04zM158.54 137h1.04v5.87h-1.04zM162.54 137h1.04v5.87h-1.04zM171.55 137h1.04v5.87h-1.04zM205.59 137h1.04v5.87h-1.04z"/>
<path fill="#7979ff" d="M45.4 55.45h1.04v5.87h-1.04zM57.42 55.45h2.04v5.87h-2.04zM64.43 55.45h1.04v5.87h-1.04zM71.43 55.45h1.04v5.87h-1.04zM74.44 55.45h1.04v5.87h-1.04zM76.44 55.45h2.04v5.87h-2.04zM80.44 55.45h5.05v5.87h-5.05zM99.47 55.45h3.04v5.87h-3.04zM103.47 55.45h1.04v5.87h-1.04zM106.47 55.45h1.04v5.87h-1.04zM108.48 55.45h1.04v5.87h-1.04zM118.49 55.45h1.04v5.87h-1.04zM124.5 55.45h1.04v5.87h-1.04zM139.51 55.45h1.04v5.87h-1.04zM143.52 55.45h1.04v5.87h-1.04zM145.52 55.45h1.04v5.87h-1.04zM150.53 55.45h1.04v5.87h-1.04zM161.54 55.45h1.04v5.87h-1.04zM165.54 55.45h1.04v5.87h-1.04zM173.55 55.45h2.04v5.87h-2.04zM176.56 55.45h1.04v5.87h-1.04zM182.56 55.45h1.04v5.87h-1.04zM187.57 55.45h1.04v5.87h-1.04zM190.57 55.45h3.04v5.87h-3.04zM198.58 55.45h2.04v5.87h-2.04zM102.47 102.05h1.04v5.87h-1.04zM65.43 107.88h1.04v5.87h-1.04zM119.49 107.88h1.04v5.87h-1.04zM180.56 107.88h1.04v5.87h-1.04zM83.45 113.7h1.04v5.87h-1.04zM169.55 113.7h1.04v5.87h-1.04zM195.58 113.7h1.04v5.87h-1.04zM155.53 119.53h1.04v5.87h-1.04zM174.55 119.53h1.04v5.87h-1.04zM97.46 125.35h1.04v5.87h-1.04z"/>
<path fill="#8686ff" d="M46.4 55.45h1.04v5.87h-1.04zM49.41 55.45h3.04v5.87h-3.04zM55.42 55.45h2.04v5.87h-2.04zM60.42 55.45h2.04v5.87h-2.04zM69.43 55.45h1.04v5.87h-1.04zM79.44 55.45h1.04v5.87h-1.04zM86.45 55.45h1.04v5.87h-1.04zM90.46 55.45h1.04v5.87h-1.04zM94.46 55.45h2.04v5.87h-2.04zM98.47 55.45h1.04v5.87h-1.04zM107.48 55.45h1.04v5.87h-1.04zM109.48 55.45h1.04v5.87h-1.04zM114.48 55.45h1.04v5.87h-1.04zM120.49 55.45h2.04v5.87h-2.04zM125.5 55.45h1.04v5.87h-1.04zM127.5 55.45h4.04v5.87h-4.04zM141.52 55.45h1.04v5.87h-1.04zM160.54 55.45h1.04v5.87h-1.04zM169.55 55.45h1.04v5.87h-1.04zM171.55 55.45h1.04v5.87h-1.04zM175.56 55.45h1.04v5.87h-1.04zM185.57 55.45h1.04v5.87h-1.04zM193.58 55.45h1.04v5.87h-1.04zM196.58 55.45h1.04v5.87h-1.04zM200.58 55.45h2.04v5.87h-2.04zM211.6 55.45h2.04v5.87h-2.04zM48.41 90.4h1.04v5.87h-1.04zM81.45 96.22h1.04v5.87h-1.04zM149.53 125.35h1.04v5.87h-1.04z"/>
<path fill="#b9b9ff" d="M47.41 55.45h1.04v5.87h-1.04zM116.49 55.45h1.04v5.87h-1.04zM152.53 55.45h1.04v5.87h-1.04zM163.54 55.45h1.04v5.87h-1.04zM178.56 55.45h1.04v5.87h-1.04zM188.57 55.45h1.04v5.87h-1.04zM91.46 90.4h1.04v5.87h-1.04zM46.4 137h1.04v5.87h-1.04zM80.44 137h1.04v5.87h-1.04zM199.58 137h1.04v5.87h-1.04zM84.45 166.12h1.04v5.87h-1.04zM91.46 166.12h1.04v5.87h-1.04zM128.5 166.12h1.04v5.87h-1.04zM141.52 166.12h1.04v5.87h-1.04zM143.52 166.12h1.04v5.87h-1.04zM200.58 166.12h1.04v5.87h-1.04z"/>
<path fill="#3939ff" d="M48.41 55.45h1.04v5.87h-1.04zM168.55 55.45h1.04v5.87h-1.04zM44.4 90.4h1.04v5.87h-1.04zM47.41 90.4h1.04v5.87h-1.04zM49.41 90.4h1.04v5.87h-1.04zM53.41 90.4h1.04v5.87h-1.04zM55.42 90.4h1.04v5.87h-1.04zM60.42 90.4h1.04v5.87h-1.04zM64.43 90.4h1.04v5.87h-1.04zM66.43 90.4h2.04v5.87h-2.04zM70.43 90.4h1.04v5.87h-1.04zM72.44 90.4h3.04v5.87h-3.04zM82.45 90.4h3.04v5.87h-3.04zM90.46 90.4h1.04v5.87h-1.04zM92.46 90.4h1.04v5.87h-1.04zM98.47 90.4h2.04v5.87h-2.04zM104.47 90.4h2.04v5.87h-2.04zM115.49 90.4h1.04v5.87h-1.04zM117.49 90.4h2.04v5.87h-2.04zM120.49 90.4h1.04v5.87h-1.04zM128.5 90.4h1.04v5.87h-1.04zM131.5 90.4h1.04v5.87h-1.04zM135.51 90.4h1.04v5.87h-1.04zM137.51 90.4h1.04v5.87h-1.04zM141.52 90.4h2.04v5.87h-2.04zM150.53 90.4h2.04v5.87h-2.04zM157.53 90.4h3.04v5.87h-3.04zM162.54 90.4h5.05v5.87h-5.05zM170.55 90.4h1.04v5.87h-1.04zM179.56 90.4h1.04v5.87h-1.04zM181.56 90.4h1.04v5.87h-1.04zM183.56 90.4h2.04v5.87h-2.04zM186.57 90.4h1.04v5.87h-1.04zM193.58 90.4h3.04v5.87h-3.04zM199.58 90.4h1.04v5.87h-1.04zM203.59 90.4h1.04v5.87h-1.04zM209.6 90.4h1.04v5.87h-1.04zM49.41 125.35h1.04v5.87h-1.04zM51.41 125.35h1.04v5.87h-1.04zM56.42 125.35h1.04v5.87h-1.04zM62.42 125.35h1.04v5.87h-1.04zM67.43 125.35h2.04v5.87h-2.04zM77.44 125.35h1.04v5.87h-1.04zM81.45 125.35h1.04v5.87h-1.04zM129.5 125.35h1.04v5.87h-1.04zM151.53 125.35h1.04v5.87h-1.04zM154.53 125.35h1.04v5.87h-1.04zM165.54 125.35h1.04v5.87h-1.04zM173.55 125.35h1.04v5.87h-1.04zM193.58 125.35h1.04v5.87h-1.04zM198.58 125.35h1.04v5.87h-1.04zM201.59 125.35h1.04v5.87h-1.04zM212.6 125.35h1.04v5.87h-1.04zM43.4 137h1.04v5.87h-1.04zM54.41 137h1.04v5.87h-1.04zM60.42 137h2.04v5.87h-2.04zM65.43 137h1.04v5.87h-1.04zM71.43 137h1.04v5.87h-1.04zM74.44 137h1.04v5.87h-1.04zM78.44 137h1.04v5.87h-1.04zM88.45 137h1.04v5.87h-1.04zM90.46 137h1.04v5.87h-1.04zM97.46 137h1.04v5.87h-1.04zM103.47 137h1.04v5.87h-1.04zM107.48 137h1.04v5.87h-1.04zM114.48 137h1.04v5.87h-1.04zM118.49 137h1.04v5.87h-1.04zM122.49 137h2.04v5.87h-2.04zM125.5 137h1.04v5.87h-1.04zM127.5 137h1.04v5.87h-1.04zM129.5 137h1.04v5.87h-1.04zM131.5 137h3.04v5.87h-3.04zM138.51 137h1.04v5.87h-1.04zM141.52 137h1.04v5.87h-1.04zM144.52 137h1.04v5.87h-1.04zM154.53 137h1.04v5.87h-1.04zM159.54 137h1.04v5.87h-1.04zM165.54 137h1.04v5.87h-1.04zM167.55 137h1.04v5.87h-1.04zM169.55 137h1.04v5.87h-1.04zM179.56 137h2.04v5.87h-2.04zM182.56 137h3.04v5.87h-3.04zM194.58 137h1.04v5.87h-1.04zM198.58 137h1.04v5.87h-1.04zM200.58 137h1.04v5.87h-1.04zM212.6 137h1.04v5.87h-1.04z"/>
<path fill="#9f9fff" d="M52.41 55.45h1.04v5.87h-1.04zM59.42 55.45h1.04v5.87h-1.04zM65.43 55.45h1.04v5.87h-1.04zM78.44 55.45h1.04v5.87h-1.04zM93.46 55.45h1.04v5.87h-1.04zM157.53 55.45h1.04v5.87h-1.04zM202.59 55.45h1.04v5.87h-1.04zM204.59 55.45h1.04v5.87h-1.04zM208.59 55.45h1.04v5.87h-1.04zM44.4 137h1.04v5.87h-1.04zM140.51 137h1.04v5.87h-1.04zM134.51 166.12h1.04v5.87h-1.04zM158.54 166.12h1.04v5.87h-1.04zM192.58 166.12h1.04v5.87h-1.04zM202.59 166.12h1.04v5.87h-1.04zM210.6 166.12h1.04v5.87h-1.04z"/>
<path fill="#6c6cff" d="M62.42 55.45h1.04v5.87h-1.04zM67.43 55.45h1.04v5.87h-1.04zM73.44 55.45h1.04v5.87h-1.04zM75.44 55.45h1.04v5.87h-1.04zM91.46 55.45h1.04v5.87h-1.04zM97.46 55.45h1.04v5.87h-1.04zM104.47 55.45h2.04v5.87h-2.04zM111.48 55.45h1.04v5.87h-1.04zM122.49 55.45h1.04v5.87h-1.04zM133.51 55.45h1.04v5.87h-1.04zM136.51 55.45h1.04v5.87h-1.04zM155.53 55.45h1.04v5.87h-1.04zM159.54 55.45h1.04v5.87h-1.04zM170.55 55.45h1.04v5.87h-1.04zM186.57 55.45h1.04v5.87h-1.04zM189.57 55.45h1.04v5.87h-1.04zM194.58 55.45h1.04v5.87h-1.04zM205.59 55.45h1.04v5.87h-1.04zM80.44 90.4h1.04v5.87h-1.04zM107.48 90.4h1.04v5.87h-1.04zM109.48 90.4h1.04v5.87h-1.04zM116.49 90.4h1.04v5.87h-1.04zM210.6 90.4h1.04v5.87h-1.04zM47.41 96.22h1.04v5.87h-1.04zM207.59 96.22h1.04v5.87h-1.04zM138.51 102.05h1.04v5.87h-1.04zM67.43 107.88h1.04v5.87h-1.04zM86.45 107.88h1.04v5.87h-1.04zM121.49 107.88h1.04v5.87h-1.04zM152.53 107.88h1.04v5.87h-1.04zM200.58 107.88h1.04v5.87h-1.04zM72.44 119.53h1.04v5.87h-1.04zM119.49 125.35h1.04v5.87h-1.04zM130.5 125.35h1.04v5.87h-1.04zM143.52 125.35h1.04v5.87h-1.04zM147.52 125.35h1.04v5.87h-1.04zM79.44 131.18h1.04v5.87h-1.04zM192.58 137h1.04v5.87h-1.04zM202.59 137h1.04v5.87h-1.04z"/>
<path fill="#4646ff" d="M66.43 55.45h1.04v5.87h-1.04zM197.58 55.45h1.04v5.87h-1.04zM42.4 90.4h1.04v5.87h-1.04zM45.4 90.4h2.04v5.87h-2.04zM50.41 90.4h1.04v5.87h-1.04zM52.41 90.4h1.04v5.87h-1.04zM56.42 90.4h1.04v5.87h-1.04zM58.42 90.4h2.04v5.87h-2.04zM62.42 90.4h1.04v5.87h-1.04zM65.43 90.4h1.04v5.87h-1.04zM71.43 90.4h1.04v5.87h-1.04zM75.44 90.4h2.04v5.87h-2.04zM88.45 90.4h1.04v5.87h-1.04zM93.46 90.4h3.04v5.87h-3.04zM97.46 90.4h1.04v5.87h-1.04zM100.47 90.4h2.04v5.87h-2.04zM103.47 90.4h1.04v5.87h-1.04zM112.48 90.4h1.04v5.87h-1.04zM119.49 90.4h1.04v5.87h-1.04zM121.49 90.4h1.04v5.87h-1.04zM124.5 90.4h3.04v5.87h-3.04zM139.51 90.4h1.04v5.87h-1.04zM143.52 90.4h1.04v5.87h-1.04zM145.52 90.4h5.05v5.87h-5.05zM154.53 90.4h3.04v5.87h-3.04zM160.54 90.4h2.04v5.87h-2.04zM171.55 90.4h1.04v5.87h-1.04zM174.55 90.4h1.04v5.87h-1.04zM177.56 90.4h2.04v5.87h-2.04zM185.57 90.4h1.04v5.87h-1.04zM189.57 90.4h1.04v5.87h-1.04zM191.57 90.4h2.04v5.87h-2.04zM196.58 90.4h2.04v5.87h-2.04zM200.58 90.4h1.04v5.87h-1.04zM204.59 90.4h2.04v5.87h-2.04zM208.59 90.4h1.04v5.87h-1.04zM212.6 90.4h1.04v5.87h-1.04zM46.4 113.7h1.04v5.87h-1.04zM64.43 125.35h1.04v5.87h-1.04zM73.44 125.35h1.04v5.87h-1.04zM85.45 125.35h2.04v5.87h-2.04zM102.47 125.35h1.04v5.87h-1.04zM106.47 125.35h1.04v5.87h-1.04zM113.48 125.35h1.04v5.87h-1.04zM117.49 125.35h1.04v5.87h-1.04zM137.51 125.35h1.04v5.87h-1.04zM172.55 125.35h1.04v5.87h-1.04zM192.58 125.35h1.04v5.87h-1.04zM45.4 137h1.04v5.87h-1.04zM47.41 137h3.04v5.87h-3.04zM53.41 137h1.04v5.87h-1.04zM55.42 137h2.04v5.87h-2.04zM58.42 137h1.04v5.87h-1.04zM64.43 137h1.04v5.87h-1.04zM68.43 137h1.04v5.87h-1.04zM70.43 137h1.04v5.87h-1.04zM73.44 137h1.04v5.87h-1.04zM82.45 137h3.04v5.87h-3.04zM86.45 137h2.04v5.87h-2.04zM98.47 137h1.04v5.87h-1.04zM101.47 137h1.04v5.87h-1.04zM104.47 137h1.04v5.87h-1.04zM106.47 137h1.04v5.87h-1.04zM113.48 137h1.04v5.87h-1.04zM115.49 137h1.04v5.87h-1.04zM120.49 137h2.04v5.87h-2.04zM124.5 137h1.04v5.87h-1.04zM128.5 137h1.04v5.87h-1.04zM130.5 137h1.04v5.87h-1.04zM134.51 137h1.04v5.87h-1.04zM142.52 137h1.04v5.87h-1.04zM146.52 137h4.04v5.87h-4.04zM151.53 137h1.04v5.87h-1.04zM153.53 137h1.04v5.87h-1.04zM160.54 137h2.04v5.87h-2.04zM163.54 137h2.04v5.87h-2.04zM166.55 137h1.04v5.87h-1.04zM168.55 137h1.04v5.87h-1.04zM170.55 137h1.04v5.87h-1.04zM176.56 137h3.04v5.87h-3.04zM185.57 137h2.04v5.87h-2.04zM188.57 137h3.04v5.87h-3.04zM193.58 137h1.04v5.87h-1.04zM195.58 137h3.04v5.87h-3.04zM201.59 137h1.04v5.87h-1.04zM206.59 137h1.04v5.87h-1.04zM208.59 137h1.04v5.87h-1.04zM211.6 137h1.04v5.87h-1.04z"/>
<path fill="#acacff" d="M68.43 55.45h1.04v5.87h-1.04zM72.44 55.45h1.04v5.87h-1.04zM112.48 55.45h1.04v5.87h-1.04zM117.49 55.45h1.04v5.87h-1.04zM126.5 55.45h1.04v5.87h-1.04zM138.51 55.45h1.04v5.87h-1.04zM146.52 55.45h1.04v5.87h-1.04zM154.53 55.45h1.04v5.87h-1.04zM180.56 55.45h1.04v5.87h-1.04zM209.6 55.45h1.04v5.87h-1.04zM50.41 137h1.04v5.87h-1.04zM101.47 166.12h1.04v5.87h-1.04zM109.48 166.12h1.04v5.87h-1.04zM163.54 166.12h1.04v5.87h-1.04z"/>
<path fill="#5353ff" d="M87.45 55.45h1.04v5.87h-1.04zM137.51 55.45h1.04v5.87h-1.04zM147.52 55.45h1.04v5.87h-1.04zM210.6 55.45h1.04v5.87h-1.04zM43.4 90.4h1.04v5.87h-1.04zM51.41 90.4h1.04v5.87h-1.04zM61.42 90.4h1.04v5.87h-1.04zM89.45 90.4h1.04v5.87h-1.04zM102.47 90.4h1.04v5.87h-1.04zM106.47 90.4h1.04v5.87h-1.04zM113.48 90.4h2.04v5.87h-2.04zM122.49 90.4h1.04v5.87h-1.04zM129.5 90.4h1.04v5.87h-1.04zM152.53 90.4h2.04v5.87h-2.04zM167.55 90.4h1.04v5.87h-1.04zM169.55 90.4h1.04v5.87h-1.04zM180.56 90.4h1.04v5.87h-1.04zM182.56 90.4h1.04v5.87h-1.04zM190.57 90.4h1.04v5.87h-1.04zM198.58 90.4h1.04v5.87h-1.04zM201.59 90.4h1.04v5.87h-1.04zM153.53 96.22h1.04v5.87h-1.04zM180.56 96.22h1.04v5.87h-1.04zM140.51 102.05h1.04v5.87h-1.04zM162.54 102.05h1.04v5.87h-1.04zM148.52 113.7h1.04v5.87h-1.04zM53.41 119.53h1.04v5.87h-1.04zM187.57 131.18h1.04v5.87h-1.04zM42.4 137h1.04v5.87h-1.04zM51.41 137h2.04v5.87h-2.04zM57.42 137h1.04v5.87h-1.04zM62.42 137h1.04v5.87h-1.04zM67.43 137h1.04v5.87h-1.04zM77.44 137h1.04v5.87h-1.04zM93.46 137h1.04v5.87h-1.04zM95.46 137h1.04v5.87h-1.04zM100.47 137h1.04v5.87h-1.04zM105.47 137h1.04v5.87h-1.04zM108.48 137h1.04v5.87h-1.04zM110.48 137h1.04v5.87h-1.04zM117.49 137h1.04v5.87h-1.04zM143.52 137h1.04v5.87h-1.04zM152.53 137h1.04v5.87h-1.04zM155.53 137h1.04v5.87h-1.04zM172.55 137h3.04v5.87h-3.04zM187.57 137h1.04v5.87h-1.04zM191.57 137h1.04v5.87h-1.04zM203.59 137h1.04v5.87h-1.04z"/>
<path fill="#d2d2ff" d="M89.45 55.45h1.04v5.87h-1.04zM96.46 55.45h1.04v5.87h-1.04zM158.54 55.45h1.04v5.87h-1.04zM206.59 55.45h1.04v5.87h-1.04zM88.45 61.27h1.04v5.87h-1.04zM42.4 142.82h1.04v5.87h-1.04zM46.4 142.82h1.04v5.87h-1.04zM49.41 142.82h1.04v5.87h-1.04zM49.41 166.12h1.04v5.87h-1.04zM57.42 166.12h1.04v5.87h-1.04zM107.48 166.12h1.04v5.87h-1.04zM113.48 166.12h1.04v5.87h-1.04zM132.51 166.12h1.04v5.87h-1.04zM148.52 166.12h1.04v5.87h-1.04zM161.54 166.12h2.04v5.87h-2.04zM165.54 166.12h1.04v5.87h-1.04zM176.56 166.12h1.04v5.87h-1.04z"/>
<path fill="#dfdfff" d="M102.47 55.45h1.04v5.87h-1.04zM183.56 55.45h1.04v5.87h-1.04zM195.58 55.45h1.04v5.87h-1.04zM110.48 61.27h1.04v5.87h-1.04zM44.4 142.82h2.04v5.87h-2.04zM47.41 142.82h1.04v5.87h-1.04zM51.41 142.82h2.04v5.87h-2.04zM52.41 166.12h1.04v5.87h-1.04zM58.42 166.12h1.04v5.87h-1.04zM89.45 166.12h1.04v5.87h-1.04zM95.46 166.12h1.04v5.87h-1.04zM121.49 166.12h1.04v5.87h-1.04zM149.53 166.12h1.04v5.87h-1.04zM151.53 166.12h1.04v5.87h-1.04zM154.53 166.12h1.04v5.87h-1.04zM157.53 166.12h1.04v5.87h-1.04zM184.57 166.12h1.04v5.87h-1.04z"/>
<path fill="#c6c6ff" d="M142.52 55.45h1.04v5.87h-1.04zM48.41 142.82h1.04v5.87h-1.04zM53.41 166.12h1.04v5.87h-1.04zM67.43 166.12h1.04v5.87h-1.04zM110.48 166.12h2.04v5.87h-2.04zM115.49 166.12h1.04v5.87h-1.04zM129.5 166.12h1.04v5.87h-1.04zM142.52 166.12h1.04v5.87h-1.04zM145.52 166.12h1.04v5.87h-1.04zM153.53 166.12h1.04v5.87h-1.04zM186.57 166.12h1.04v5.87h-1.04zM188.57 166.12h1.04v5.87h-1.04z"/>
<path fill="#f9f9ff" d="M45.4 61.27h1.04v5.87h-1.04zM58.42 61.27h1.04v5.87h-1.04zM69.43 61.27h1.04v5.87h-1.04zM79.44 61.27h1.04v5.87h-1.04zM83.45 61.27h1.04v5.87h-1.04zM100.47 61.27h1.04v5.87h-1.04zM139.51 61.27h1.04v5.87h-1.04zM142.52 61.27h2.04v5.87h-2.04zM171.55 61.27h1.04v5.87h-1.04zM186.57 61.27h1.04v5.87h-1.04zM201.59 61.27h1.04v5.87h-1.04zM204.59 61.27h1.04v5.87h-1.04zM161.54 78.75h1.04v5.87h-1.04zM53.41 142.82h2.04v5.87h-2.04zM71.43 142.82h1.04v5.87h-1.04zM44.4 166.12h1.04v5.87h-1.04zM46.4 166.12h2.04v5.87h-2.04zM68.43 166.12h1.04v5.87h-1.04zM90.46 166.12h1.04v5.87h-1.04zM119.49 166.12h1.04v5.87h-1.04zM131.5 166.12h1.04v5.87h-1.04zM135.51 166.12h1.04v5.87h-1.04zM137.51 166.12h1.04v5.87h-1.04zM140.51 166.12h1.04v5.87h-1.04zM168.55 166.12h1.04v5.87h-1.04zM170.55 166.12h1.04v5.87h-1.04zM198.58 166.12h1.04v5.87h-1.04zM201.59 166.12h1.04v5.87h-1.04z"/>
<path fill="#ececff" d="M56.42 61.27h1.04v5.87h-1.04zM70.43 61.27h1.04v5.87h-1.04zM99.47 61.27h1.04v5.87h-1.04zM149.53 61.27h1.04v5.87h-1.04zM159.54 61.27h1.04v5.87h-1.04zM207.59 61.27h1.04v5.87h-1.04zM43.4 142.82h1.04v5.87h-1.04zM50.41 142.82h1.04v5.87h-1.04zM55.42 142.82h1.04v5.87h-1.04zM83.45 166.12h1.04v5.87h-1.04zM86.45 166.12h1.04v5.87h-1.04zM98.47 166.12h1.04v5.87h-1.04zM114.48 166.12h1.04v5.87h-1.04zM133.51 166.12h1.04v5.87h-1.04zM160.54 166.12h1.04v5.87h-1.04zM164.54 166.12h1.04v5.87h-1.04zM187.57 166.12h1.04v5.87h-1.04zM193.58 166.12h1.04v5.87h-1.04zM207.59 166.12h1.04v5.87h-1.04z"/>
<path fill="#2020ff" d="M54.41 90.4h1.04v5.87h-1.04zM133.51 90.4h1.04v5.87h-1.04zM144.52 90.4h1.04v5.87h-1.04zM175.56 90.4h1.04v5.87h-1.04zM113.48 96.22h1.04v5.87h-1.04zM125.5 96.22h1.04v5.87h-1.04zM132.51 96.22h2.04v5.87h-2.04zM181.56 96.22h1.04v5.87h-1.04zM67.43 102.05h1.04v5.87h-1.04zM44.4 107.88h1.04v5.87h-1.04zM54.41 107.88h1.04v5.87h-1.04zM120.49 107.88h1.04v5.87h-1.04zM159.54 107.88h1.04v5.87h-1.04zM57.42 113.7h1.04v5.87h-1.04zM124.5 113.7h1.04v5.87h-1.04zM133.51 113.7h1.04v5.87h-1.04zM93.46 119.53h1.04v5.87h-1.04zM128.5 119.53h1.04v5.87h-1.04zM165.54 119.53h1.04v5.87h-1.04zM182.56 119.53h1.04v5.87h-1.04zM212.6 119.53h1.04v5.87h-1.04zM42.4 125.35h2.04v5.87h-2.04zM45.4 125.35h3.04v5.87h-3.04zM50.41 125.35h1.04v5.87h-1.04zM54.41 125.35h1.04v5.87h-1.04zM60.42 125.35h1.04v5.87h-1.04zM65.43 125.35h1.04v5.87h-1.04zM74.44 125.35h1.04v5.87h-1.04zM78.44 125.35h2.04v5.87h-2.04zM84.45 125.35h1.04v5.87h-1.04zM90.46 125.35h2.04v5.87h-2.04zM100.47 125.35h1.04v5.87h-1.04zM103.47 125.35h3.04v5.87h-3.04zM107.48 125.35h2.04v5.87h-2.04zM110.48 125.35h1.04v5.87h-1.04zM125.5 125.35h1.04v5.87h-1.04zM127.5 125.35h1.04v5.87h-1.04zM138.51 125.35h1.04v5.87h-1.04zM140.51 125.35h1.04v5.87h-1.04zM146.52 125.35h1.04v5.87h-1.04zM150.53 125.35h1.04v5.87h-1.04zM157.53 125.35h1.04v5.87h-1.04zM159.54 125.35h2.04v5.87h-2.04zM162.54 125.35h2.04v5.87h-2.04zM166.55 125.35h3.04v5.87h-3.04zM171.55 125.35h1.04v5.87h-1.04zM174.55 125.35h1.04v5.87h-1.04zM183.56 125.35h2.04v5.87h-2.04zM186.57 125.35h2.04v5.87h-2.04zM189.57 125.35h3.04v5.87h-3.04zM194.58 125.35h1.04v5.87h-1.04zM200.58 125.35h1.04v5.87h-1.04zM204.59 125.35h1.04v5.87h-1.04zM208.59 125.35h1.04v5.87h-1.04zM210.6 125.35h1.04v5.87h-1.04zM56.42 131.18h1.04v5.87h-1.04zM80.44 131.18h1.04v5.87h-1.04zM129.5 131.18h1.04v5.87h-1.04zM182.56 131.18h1.04v5.87h-1.04zM204.59 131.18h1.04v5.87h-1.04zM76.44 137h1.04v5.87h-1.04zM102.47 137h1.04v5.87h-1.04zM145.52 137h1.04v5.87h-1.04z"/>
<path fill="#2d2dff" d="M57.42 90.4h1.04v5.87h-1.04zM63.42 90.4h1.04v5.87h-1.04zM68.43 90.4h1.04v5.87h-1.04zM77.44 90.4h2.04v5.87h-2.04zM81.45 90.4h1.04v5.87h-1.04zM85.45 90.4h1.04v5.87h-1.04zM87.45 90.4h1.04v5.87h-1.04zM96.46 90.4h1.04v5.87h-1.04zM108.48 90.4h1.04v5.87h-1.04zM110.48 90.4h2.04v5.87h-2.04zM123.49 90.4h1.04v5.87h-1.04zM127.5 90.4h1.04v5.87h-1.04zM132.51 90.4h1.04v5.87h-1.04zM134.51 90.4h1.04v5.87h-1.04zM136.51 90.4h1.04v5.87h-1.04zM138.51 90.4h1.04v5.87h-1.04zM140.51 90.4h1.04v5.87h-1.04zM172.55 90.4h2.04v5.87h-2.04zM176.56 90.4h1.04v5.87h-1.04zM187.57 90.4h2.04v5.87h-2.04zM202.59 90.4h1.04v5.87h-1.04zM206.59 90.4h2.04v5.87h-2.04zM48.41 125.35h1.04v5.87h-1.04zM52.41 125.35h1.04v5.87h-1.04zM55.42 125.35h1.04v5.87h-1.04zM58.42 125.35h1.04v5.87h-1.04zM66.43 125.35h1.04v5.87h-1.04zM69.43 125.35h1.04v5.87h-1.04zM76.44 125.35h1.04v5.87h-1.04zM82.45 125.35h2.04v5.87h-2.04zM92.46 125.35h3.04v5.87h-3.04zM98.47 125.35h2.04v5.87h-2.04zM101.47 125.35h1.04v5.87h-1.04zM114.48 125.35h1.04v5.87h-1.04zM116.49 125.35h1.04v5.87h-1.04zM118.49 125.35h1.04v5.87h-1.04zM120.49 125.35h1.04v5.87h-1.04zM123.49 125.35h2.04v5.87h-2.04zM132.51 125.35h1.04v5.87h-1.04zM136.51 125.35h1.04v5.87h-1.04zM141.52 125.35h2.04v5.87h-2.04zM148.52 125.35h1.04v5.87h-1.04zM156.53 125.35h1.04v5.87h-1.04zM161.54 125.35h1.04v5.87h-1.04zM175.56 125.35h2.04v5.87h-2.04zM178.56 125.35h3.04v5.87h-3.04zM182.56 125.35h1.04v5.87h-1.04zM199.58 125.35h1.04v5.87h-1.04zM205.59 125.35h1.04v5.87h-1.04zM209.6 125.35h1.04v5.87h-1.04zM59.42 137h1.04v5.87h-1.04zM63.42 137h1.04v5.87h-1.04zM66.43 137h1.04v5.87h-1.04zM69.43 137h1.04v5.87h-1.04zM75.44 137h1.04v5.87h-1.04zM79.44 137h1.04v5.87h-1.04zM81.45 137h1.04v5.87h-1.04zM85.45 137h1.04v5.87h-1.04zM91.46 137h1.04v5.87h-1.04zM94.46 137h1.04v5.87h-1.04zM111.48 137h2.04v5.87h-2.04zM116.49 137h1.04v5.87h-1.04zM119.49 137h1.04v5.87h-1.04zM126.5 137h1.04v5.87h-1.04zM135.51 137h3.04v5.87h-3.04zM139.51 137h1.04v5.87h-1.04zM150.53 137h1.04v5.87h-1.04zM156.53 137h2.04v5.87h-2.04zM181.56 137h1.04v5.87h-1.04zM204.59 137h1.04v5.87h-1.04zM207.59 137h1.04v5.87h-1.04zM209.6 137h2.04v5.87h-2.04z"/>
<path fill="#1313ff" d="M79.44 90.4h1.04v5.87h-1.04zM86.45 90.4h1.04v5.87h-1.04zM45.4 96.22h1.04v5.87h-1.04zM54.41 96.22h2.04v5.87h-2.04zM57.42 96.22h1.04v5.87h-1.04zM61.42 96.22h1.04v5.87h-1.04zM63.42 96.22h1.04v5.87h-1.04zM66.43 96.22h1.04v5.87h-1.04zM70.43 96.22h1.04v5.87h-1.04zM72.44 96.22h1.04v5.87h-1.04zM82.45 96.22h1.04v5.87h-1.04zM85.45 96.22h1.04v5.87h-1.04zM93.46 96.22h4.04v5.87h-4.04zM99.47 96.22h1.04v5.87h-1.04zM105.47 96.22h1.04v5.87h-1.04zM107.48 96.22h1.04v5.87h-1.04zM110.48 96.22h1.04v5.87h-1.04zM112.48 96.22h1.04v5.87h-1.04zM116.49 96.22h1.04v5.87h-1.04zM119.49 96.22h1.04v5.87h-1.04zM123.49 96.22h1.04v5.87h-1.04zM131.5 96.22h1.04v5.87h-1.04zM135.51 96.22h1.04v5.87h-1.04zM139.51 96.22h3.04v5.87h-3.04zM145.52 96.22h1.04v5.87h-1.04zM148.52 96.22h1.04v5.87h-1.04zM152.53 96.22h1.04v5.87h-1.04zM154.53 96.22h1.04v5.87h-1.04zM157.53 96.22h3.04v5.87h-3.04zM167.55 96.22h1.04v5.87h-1.04zM169.55 96.22h1.04v5.87h-1.04zM171.55 96.22h1.04v5.87h-1.04zM174.55 96.22h1.04v5.87h-1.04zM176.56 96.22h1.04v5.87h-1.04zM178.56 96.22h2.04v5.87h-2.04zM184.57 96.22h2.04v5.87h-2.04zM190.57 96.22h1.04v5.87h-1.04zM194.58 96.22h1.04v5.87h-1.04zM199.58 96.22h1.04v5.87h-1.04zM202.59 96.22h1.04v5.87h-1.04zM206.59 96.22h1.04v5.87h-1.04zM209.6 96.22h1.04v5.87h-1.04zM212.6 96.22h1.04v5.87h-1.04zM46.4 102.05h2.04v5.87h-2.04zM51.41 102.05h1.04v5.87h-1.04zM53.41 102.05h2.04v5.87h-2.04zM56.42 102.05h2.04v5.87h-2.04zM59.42 102.05h1.04v5.87h-1.04zM63.42 102.05h3.04v5.87h-3.04zM69.43 102.05h1.04v5.87h-1.04zM73.44 102.05h2.04v5.87h-2.04zM77.44 102.05h2.04v5.87h-2.04zM81.45 102.05h1.04v5.87h-1.04zM83.45 102.05h1.04v5.87h-1.04zM89.45 102.05h1.04v5.87h-1.04zM91.46 102.05h1.04v5.87h-1.04zM95.46 102.05h1.04v5.87h-1.04zM111.48 102.05h2.04v5.87h-2.04zM114.48 102.05h7.05v5.87h-7.05zM128.5 102.05h1.04v5.87h-1.04zM130.5 102.05h1.04v5.87h-1.04zM132.51 102.05h1.04v5.87h-1.04zM134.51 102.05h1.04v5.87h-1.04zM139.51 102.05h1.04v5.87h-1.04zM142.52 102.05h1.04v5.87h-1.04zM145.52 102.05h1.04v5.87h-1.04zM152.53 102.05h2.04v5.87h-2.04zM155.53 102.05h2.04v5.87h-2.04zM164.54 102.05h1.04v5.87h-1.04zM170.55 102.05h1.04v5.87h-1.04zM176.56 102.05h3.04v5.87h-3.04zM183.56 102.05h1.04v5.87h-1.04zM186.57 102.05h1.04v5.87h-1.04zM200.58 102.05h1.04v5.87h-1.04zM203.59 102.05h3.04v5.87h-3.04zM211.6 102.05h1.04v5.87h-1.04zM50.41 107.88h1.04v5.87h-1.04zM56.42 107.88h1.04v5.87h-1.04zM58.42 107.88h1.04v5.87h-1.04zM60.42 107.88h1.04v5.87h-1.04zM64.43 107.88h1.04v5.87h-1.04zM66.43 107.88h1.04v5.87h-1.04zM68.43 107.88h1.04v5.87h-1.04zM74.44 107.88h2.04v5.87h-2.04zM78.44 107.88h2.04v5.87h-2.04zM87.45 107.88h2.04v5.87h-2.04zM91.46 107.88h1.04v5.87h-1.04zM97.46 107.88h2.04v5.87h-2.04zM100.47 107.88h1.04v5.87h-1.04zM107.48 107.88h1.04v5.87h-1.04zM116.49 107.88h1.04v5.87h-1.04zM129.5 107.88h2.04v5.87h-2.04zM133.51 107.88h1.04v5.87h-1.04zM135.51 107.88h1.04v5.87h-1.04zM138.51 107.88h1.04v5.87h-1.04zM142.52 107.88h1.04v5.87h-1.04zM144.52 107.88h1.04v5.87h-1.04zM153.53 107.88h3.04v5.87h-3.04zM163.54 107.88h1.04v5.87h-1.04zM168.55 107.88h1.04v5.87h-1.04zM170.55 107.88h3.04v5.87h-3.04zM176.56 107.88h1.04v5.87h-1.04zM186.57 107.88h1.04v5.87h-1.04zM190.57 107.88h3.04v5.87h-3.04zM194.58 107.88h2.04v5.87h-2.04zM197.58 107.88h1.04v5.87h-1.04zM206.59 107.88h1.04v5.87h-1.04zM208.59 107.88h1.04v5.87h-1.04zM45.4 113.7h1.04v5.87h-1.04zM48.41 113.7h2.04v5.87h-2.04zM53.41 113.7h1.04v5.87h-1.04zM56.42 113.7h1.04v5.87h-1.04zM64.43 113.7h1.04v5.87h-1.04zM66.43 113.7h1.04v5.87h-1.04zM69.43 113.7h1.04v5.87h-1.04zM79.44 113.7h2.04v5.87h-2.04zM86.45 113.7h1.04v5.87h-1.04zM92.46 113.7h1.04v5.87h-1.04zM94.46 113.7h1.04v5.87h-1.04zM96.46 113.7h2.04v5.87h-2.04zM99.47 113.7h1.04v5.87h-1.04zM103.47 113.7h1.04v5.87h-1.04zM105.47 113.7h5.05v5.87h-5.05zM114.48 113.7h1.04v5.87h-1.04zM116.49 113.7h1.04v5.87h-1.04zM134.51 113.7h1.04v5.87h-1.04zM141.52 113.7h3.04v5.87h-3.04zM150.53 113.7h2.04v5.87h-2.04zM153.53 113.7h1.04v5.87h-1.04zM157.53 113.7h1.04v5.87h-1.04zM160.54 113.7h1.04v5.87h-1.04zM168.55 113.7h1.04v5.87h-1.04zM172.55 113.7h1.04v5.87h-1.04zM177.56 113.7h1.04v5.87h-1.04zM179.56 113.7h2.04v5.87h-2.04zM183.56 113.7h5.05v5.87h-5.05zM190.57 113.7h1.04v5.87h-1.04zM192.58 113.7h1.04v5.87h-1.04zM194.58 113.7h1.04v5.87h-1.04zM202.59 113.7h3.04v5.87h-3.04zM207.59 113.7h1.04v5.87h-1.04zM43.4 119.53h1.04v5.87h-1.04zM48.41 119.53h1.04v5.87h-1.04zM54.41 119.53h2.04v5.87h-2.04zM58.42 119.53h1.04v5.87h-1.04zM61.42 119.53h3.04v5.87h-3.04zM69.43 119.53h1.04v5.87h-1.04zM73.44 119.53h1.04v5.87h-1.04zM76.44 119.53h1.04v5.87h-1.04zM80.44 119.53h1.04v5.87h-1.04zM82.45 119.53h1.04v5.87h-1.04zM85.45 119.53h1.04v5.87h-1.04zM88.45 119.53h1.04v5.87h-1.04zM91.46 119.53h1.04v5.87h-1.04zM94.46 119.53h2.04v5.87h-2.04zM99.47 119.53h3.04v5.87h-3.04zM108.48 119.53h1.04v5.87h-1.04zM110.48 119.53h2.04v5.87h-2.04zM117.49 119.53h4.04v5.87h-4.04zM122.49 119.53h1.04v5.87h-1.04zM124.5 119.53h1.04v5.87h-1.04zM132.51 119.53h4.04v5.87h-4.04zM138.51 119.53h5.05v5.87h-5.05zM145.52 119.53h1.04v5.87h-1.04zM147.52 119.53h1.04v5.87h-1.04zM150.53 119.53h5.05v5.87h-5.05zM157.53 119.53h1.04v5.87h-1.04zM160.54 119.53h4.04v5.87h-4.04zM167.55 119.53h3.04v5.87h-3.04zM173.55 119.53h1.04v5.87h-1.04zM178.56 119.53h1.04v5.87h-1.04zM181.56 119.53h1.04v5.87h-1.04zM184.57 119.53h1.04v5.87h-1.04zM186.57 119.53h2.04v5.87h-2.04zM189.57 119.53h2.04v5.87h-2.04zM192.58 119.53h1.04v5.87h-1.04zM194.58 119.53h1.04v5.87h-1.04zM197.58 119.53h1.04v5.87h-1.04zM199.58 119.53h2.04v5.87h-2.04zM206.59 119.53h3.04v5.87h-3.04zM211.6 119.53h1.04v5.87h-1.04zM53.41 125.35h1.04v5.87h-1.04zM57.42 125.35h1.04v5.87h-1.04zM59.42 125.35h1.04v5.87h-1.04zM61.42 125.35h1.04v5.87h-1.04zM63.42 125.35h1.04v5.87h-1.04zM71.43 125.35h1.04v5.87h-1.04zM75.44 125.35h1.04v5.87h-1.04zM87.45 125.35h1.04v5.87h-1.04zM89.45 125.35h1.04v5.87h-1.04zM95.46 125.35h2.04v5.87h-2.04zM121.49 125.35h2.04v5.87h-2.04zM133.51 125.35h3.04v5.87h-3.04zM139.51 125.35h1.04v5.87h-1.04zM145.52 125.35h1.04v5.87h-1.04zM153.53 125.35h1.04v5.87h-1.04zM155.53 125.35h1.04v5.87h-1.04zM158.54 125.35h1.04v5.87h-1.04zM164.54 125.35h1.04v5.87h-1.04zM169.55 125.35h1.04v5.87h-1.04zM177.56 125.35h1.04v5.87h-1.04zM181.56 125.35h1.04v5.87h-1.04zM185.57 125.35h1.04v5.87h-1.04zM188.57 125.35h1.04v5.87h-1.04zM195.58 125.35h3.04v5.87h-3.04zM202.59 125.35h2.04v5.87h-2.04zM206.59 125.35h2.04v5.87h-2.04zM211.6 125.35h1.04v5.87h-1.04zM46.4 131.18h4.04v5.87h-4.04zM54.41 131.18h2.04v5.87h-2.04zM57.42 131.18h1.04v5.87h-1.04zM67.43 131.18h1.04v5.87h-1.04zM69.43 131.18h3.04v5.87h-3.04zM73.44 131.18h1.04v5.87h-1.04zM78.44 131.18h1.04v5.87h-1.04zM81.45 131.18h1.04v5.87h-1.04zM84.45 131.18h3.04v5.87h-3.04zM89.45 131.18h4.04v5.87h-4.04zM97.46 131.18h3.04v5.87h-3.04zM102.47 131.18h2.04v5.87h-2.04zM107.48 131.18h1.04v5.87h-1.04zM114.48 131.18h1.04v5.87h-1.04zM116.49 131.18h1.04v5.87h-1.04zM122.49 131.18h1.04v5.87h-1.04zM127.5 131.18h1.04v5.87h-1.04zM132.51 131.18h1.04v5.87h-1.04zM140.51 131.18h1.04v5.87h-1.04zM149.53 131.18h1.04v5.87h-1.04zM157.53 131.18h1.04v5.87h-1.04zM160.54 131.18h1.04v5.87h-1.04zM163.54 131.18h2.04v5.87h-2.04zM171.55 131.18h1.04v5.87h-1.04zM173.55 131.18h1.04v5.87h-1.04zM195.58 131.18h2.04v5.87h-2.04zM199.58 131.18h1.04v5.87h-1.04zM202.59 131.18h2.04v5.87h-2.04zM205.59 131.18h3.04v5.87h-3.04zM209.6 131.18h1.04v5.87h-1.04zM109.48 137h1.04v5.87h-1.04z"/>
<path fill="#0606ff" d="M42.4 96.22h3.04v5.87h-3.04zM46.4 96.22h1.04v5.87h-1.04zM48.41 96.22h6.05v5.87h-6.05zM56.42 96.22h1.04v5.87h-1.04zM58.42 96.22h3.04v5.87h-3.04zM62.42 96.22h1.04v5.87h-1.04zM64.43 96.22h2.04v5.87h-2.04zM67.43 96.22h3.04v5.87h-3.04zM71.43 96.22h1.04v5.87h-1.04zM73.44 96.22h5.05v5.87h-5.05zM79.44 96.22h2.04v5.87h-2.04zM83.45 96.22h2.04v5.87h-2.04zM86.45 96.22h7.05v5.87h-7.05zM97.46 96.22h2.04v5.87h-2.04zM100.47 96.22h5.05v5.87h-5.05zM106.47 96.22h1.04v5.87h-1.04zM108.48 96.22h2.04v5.87h-2.04zM111.48 96.22h1.04v5.87h-1.04zM114.48 96.22h2.04v5.87h-2.04zM117.49 96.22h2.04v5.87h-2.04zM120.49 96.22h3.04v5.87h-3.04zM124.5 96.22h1.04v5.87h-1.04zM126.5 96.22h5.05v5.87h-5.05zM134.51 96.22h1.04v5.87h-1.04zM136.51 96.22h3.04v5.87h-3.04zM142.52 96.22h3.04v5.87h-3.04zM146.52 96.22h2.04v5.87h-2.04zM149.53 96.22h3.04v5.87h-3.04zM155.53 96.22h2.04v5.87h-2.04zM160.54 96.22h2.04v5.87h-2.04zM163.54 96.22h4.04v5.87h-4.04zM168.55 96.22h1.04v5.87h-1.04zM170.55 96.22h1.04v5.87h-1.04zM172.55 96.22h2.04v5.87h-2.04zM175.56 96.22h1.04v5.87h-1.04zM177.56 96.22h1.04v5.87h-1.04zM182.56 96.22h2.04v5.87h-2.04zM186.57 96.22h4.04v5.87h-4.04zM191.57 96.22h3.04v5.87h-3.04zM195.58 96.22h4.04v5.87h-4.04zM200.58 96.22h2.04v5.87h-2.04zM203.59 96.22h3.04v5.87h-3.04zM208.59 96.22h1.04v5.87h-1.04zM211.6 96.22h1.04v5.87h-1.04zM42.4 102.05h4.04v5.87h-4.04zM48.41 102.05h3.04v5.87h-3.04zM52.41 102.05h1.04v5.87h-1.04zM55.42 102.05h1.04v5.87h-1.04zM58.42 102.05h1.04v5.87h-1.04zM60.42 102.05h3.04v5.87h-3.04zM66.43 102.05h1.04v5.87h-1.04zM68.43 102.05h1.04v5.87h-1.04zM70.43 102.05h3.04v5.87h-3.04zM75.44 102.05h2.04v5.87h-2.04zM79.44 102.05h2.04v5.87h-2.04zM82.45 102.05h1.04v5.87h-1.04zM84.45 102.05h5.05v5.87h-5.05zM90.46 102.05h1.04v5.87h-1.04zM92.46 102.05h3.04v5.87h-3.04zM96.46 102.05h6.05v5.87h-6.05zM103.47 102.05h8.05v5.87h-8.05zM113.48 102.05h1.04v5.87h-1.04zM121.49 102.05h7.05v5.87h-7.05zM129.5 102.05h1.04v5.87h-1.04zM131.5 102.05h1.04v5.87h-1.04zM133.51 102.05h1.04v5.87h-1.04zM135.51 102.05h3.04v5.87h-3.04zM141.52 102.05h1.04v5.87h-1.04zM143.52 102.05h2.04v5.87h-2.04zM146.52 102.05h6.05v5.87h-6.05zM154.53 102.05h1.04v5.87h-1.04zM157.53 102.05h5.05v5.87h-5.05zM163.54 102.05h1.04v5.87h-1.04zM165.54 102.05h5.05v5.87h-5.05zM171.55 102.05h5.05v5.87h-5.05zM179.56 102.05h4.04v5.87h-4.04zM184.57 102.05h2.04v5.87h-2.04zM187.57 102.05h13.06v5.87h-13.06zM201.59 102.05h2.04v5.87h-2.04zM207.59 102.05h4.04v5.87h-4.04zM212.6 102.05h1.04v5.87h-1.04zM42.4 107.88h2.04v5.87h-2.04zM45.4 107.88h5.05v5.87h-5.05zM51.41 107.88h3.04v5.87h-3.04zM55.42 107.88h1.04v5.87h-1.04zM57.42 107.88h1.04v5.87h-1.04zM59.42 107.88h1.04v5.87h-1.04zM61.42 107.88h2.04v5.87h-2.04zM69.43 107.88h5.05v5.87h-5.05zM76.44 107.88h2.04v5.87h-2.04zM80.44 107.88h6.05v5.87h-6.05zM89.45 107.88h2.04v5.87h-2.04zM92.46 107.88h5.05v5.87h-5.05zM99.47 107.88h1.04v5.87h-1.04zM101.47 107.88h6.05v5.87h-6.05zM108.48 107.88h8.05v5.87h-8.05zM117.49 107.88h2.04v5.87h-2.04zM122.49 107.88h7.05v5.87h-7.05zM131.5 107.88h2.04v5.87h-2.04zM134.51 107.88h1.04v5.87h-1.04zM136.51 107.88h2.04v5.87h-2.04zM139.51 107.88h3.04v5.87h-3.04zM143.52 107.88h1.04v5.87h-1.04zM145.52 107.88h7.05v5.87h-7.05zM156.53 107.88h3.04v5.87h-3.04zM160.54 107.88h3.04v5.87h-3.04zM164.54 107.88h4.04v5.87h-4.04zM169.55 107.88h1.04v5.87h-1.04zM173.55 107.88h3.04v5.87h-3.04zM177.56 107.88h3.04v5.87h-3.04zM181.56 107.88h5.05v5.87h-5.05zM187.57 107.88h3.04v5.87h-3.04zM193.58 107.88h1.04v5.87h-1.04zM196.58 107.88h1.04v5.87h-1.04zM198.58 107.88h2.04v5.87h-2.04zM201.59 107.88h5.05v5.87h-5.05zM207.59 107.88h1.04v5.87h-1.04zM209.6 107.88h4.04v5.87h-4.04zM42.4 113.7h3.04v5.87h-3.04zM47.41 113.7h1.04v5.87h-1.04zM50.41 113.7h2.04v5.87h-2.04zM54.41 113.7h2.04v5.87h-2.04zM58.42 113.7h6.05v5.87h-6.05zM65.43 113.7h1.04v5.87h-1.04zM67.43 113.7h2.04v5.87h-2.04zM70.43 113.7h9.05v5.87h-9.05zM81.45 113.7h2.04v5.87h-2.04zM84.45 113.7h2.04v5.87h-2.04zM87.45 113.7h5.05v5.87h-5.05zM93.46 113.7h1.04v5.87h-1.04zM95.46 113.7h1.04v5.87h-1.04zM98.47 113.7h1.04v5.87h-1.04zM100.47 113.7h3.04v5.87h-3.04zM104.47 113.7h1.04v5.87h-1.04zM110.48 113.7h4.04v5.87h-4.04zM115.49 113.7h1.04v5.87h-1.04zM117.49 113.7h7.05v5.87h-7.05zM125.5 113.7h8.05v5.87h-8.05zM135.51 113.7h6.05v5.87h-6.05zM144.52 113.7h3.04v5.87h-3.04zM149.53 113.7h1.04v5.87h-1.04zM152.53 113.7h1.04v5.87h-1.04zM154.53 113.7h3.04v5.87h-3.04zM158.54 113.7h2.04v5.87h-2.04zM161.54 113.7h7.05v5.87h-7.05zM170.55 113.7h2.04v5.87h-2.04zM173.55 113.7h4.04v5.87h-4.04zM178.56 113.7h1.04v5.87h-1.04zM181.56 113.7h2.04v5.87h-2.04zM188.57 113.7h2.04v5.87h-2.04zM191.57 113.7h1.04v5.87h-1.04zM193.58 113.7h1.04v5.87h-1.04zM196.58 113.7h6.05v5.87h-6.05zM205.59 113.7h2.04v5.87h-2.04zM208.59 113.7h2.04v5.87h-2.04zM211.6 113.7h2.04v5.87h-2.04zM42.4 119.53h1.04v5.87h-1.04zM44.4 119.53h4.04v5.87h-4.04zM49.41 119.53h4.04v5.87h-4.04zM56.42 119.53h2.04v5.87h-2.04zM59.42 119.53h2.04v5.87h-2.04zM64.43 119.53h5.05v5.87h-5.05zM70.43 119.53h2.04v5.87h-2.04zM74.44 119.53h2.04v5.87h-2.04zM77.44 119.53h3.04v5.87h-3.04zM81.45 119.53h1.04v5.87h-1.04zM83.45 119.53h2.04v5.87h-2.04zM86.45 119.53h2.04v5.87h-2.04zM89.45 119.53h2.04v5.87h-2.04zM92.46 119.53h1.04v5.87h-1.04zM96.46 119.53h3.04v5.87h-3.04zM102.47 119.53h6.05v5.87h-6.05zM109.48 119.53h1.04v5.87h-1.04zM112.48 119.53h5.05v5.87h-5.05zM121.49 119.53h1.04v5.87h-1.04zM123.49 119.53h1.04v5.87h-1.04zM125.5 119.53h3.04v5.87h-3.04zM129.5 119.53h3.04v5.87h-3.04zM136.51 119.53h2.04v5.87h-2.04zM143.52 119.53h2.04v5.87h-2.04zM146.52 119.53h1.04v5.87h-1.04zM148.52 119.53h2.04v5.87h-2.04zM156.53 119.53h1.04v5.87h-1.04zM158.54 119.53h2.04v5.87h-2.04zM164.54 119.53h1.04v5.87h-1.04zM166.55 119.53h1.04v5.87h-1.04zM170.55 119.53h3.04v5.87h-3.04zM175.56 119.53h3.04v5.87h-3.04zM179.56 119.53h2.04v5.87h-2.04zM183.56 119.53h1.04v5.87h-1.04zM185.57 119.53h1.04v5.87h-1.04zM188.57 119.53h1.04v5.87h-1.04zM191.57 119.53h1.04v5.87h-1.04zM193.58 119.53h1.04v5.87h-1.04zM195.58 119.53h2.04v5.87h-2.04zM198.58 119.53h1.04v5.87h-1.04zM201.59 119.53h5.05v5.87h-5.05zM209.6 119.53h2.04v5.87h-2.04zM44.4 125.35h1.04v5.87h-1.04zM70.43 125.35h1.04v5.87h-1.04zM72.44 125.35h1.04v5.87h-1.04zM80.44 125.35h1.04v5.87h-1.04zM109.48 125.35h1.04v5.87h-1.04zM111.48 125.35h2.04v5.87h-2.04zM115.49 125.35h1.04v5.87h-1.04zM126.5 125.35h1.04v5.87h-1.04zM128.5 125.35h1.04v5.87h-1.04zM131.5 125.35h1.04v5.87h-1.04zM144.52 125.35h1.04v5.87h-1.04zM152.53 125.35h1.04v5.87h-1.04zM170.55 125.35h1.04v5.87h-1.04zM42.4 131.18h4.04v5.87h-4.04zM50.41 131.18h4.04v5.87h-4.04zM58.42 131.18h9.05v5.87h-9.05zM68.43 131.18h1.04v5.87h-1.04zM72.44 131.18h1.04v5.87h-1.04zM74.44 131.18h4.04v5.87h-4.04zM82.45 131.18h2.04v5.87h-2.04zM87.45 131.18h2.04v5.87h-2.04zM93.46 131.18h4.04v5.87h-4.04zM100.47 131.18h2.04v5.87h-2.04zM104.47 131.18h3.04v5.87h-3.04zM108.48 131.18h6.05v5.87h-6.05zM115.49 131.18h1.04v5.87h-1.04zM117.49 131.18h1.04v5.87h-1.04zM119.49 131.18h3.04v5.87h-3.04zM123.49 131.18h4.04v5.87h-4.04zM128.5 131.18h1.04v5.87h-1.04zM130.5 131.18h2.04v5.87h-2.04zM133.51 131.18h3.04v5.87h-3.04zM137.51 131.18h3.04v5.87h-3.04zM141.52 131.18h8.05v5.87h-8.05zM150.53 131.18h7.05v5.87h-7.05zM158.54 131.18h2.04v5.87h-2.04zM161.54 131.18h2.04v5.87h-2.04zM165.54 131.18h6.05v5.87h-6.05zM172.55 131.18h1.04v5.87h-1.04zM174.55 131.18h8.05v5.87h-8.05zM183.56 131.18h4.04v5.87h-4.04zM188.57 131.18h7.05v5.87h-7.05zM197.58 131.18h2.04v5.87h-2.04zM200.58 131.18h2.04v5.87h-2.04zM208.59 131.18h1.04v5.87h-1.04zM210.6 131.18h3.04v5.87h-3.04z"/>
</g></g>
<rect x="32.4" y="67.1" width="7.4" height="23.3" fill="#d3d3d3"/>
<rect x="32.4" y="90.4" width="7.4" height="52.42" fill="#000"/>
<rect x="32.85" y="143.27" width="6.5" height="10.75" fill="#d3d3d3" stroke="#111" stroke-width="0.9"/>
<line x1="32.85" y1="148.65" x2="39.35" y2="148.65" stroke="#333" stroke-width="0.9"/>
<rect x="32.4" y="154.47" width="7.4" height="17.47" fill="#d3d3d3"/>
<line x1="4.7" y1="96.9" x2="4.7" y2="121.3" stroke="#000" stroke-width="1.3"/>
<path d="M0.4 120.3L9 120.3L4.7 135.2z" fill="#000"/>
<text x="17.8" y="119" font-size="8.6" text-anchor="middle" transform="rotate(-90 17.8 119)">FGFR4 promoter region (+ strand)</text>
<text x="29.3" y="79.5" font-size="8.6" text-anchor="middle" transform="rotate(-90 29.3 79.5)">Shore</text>
<text x="29.3" y="117" font-size="8.6" text-anchor="middle" transform="rotate(-90 29.3 117)">Promoter</text>
<text x="29.3" y="158.6" font-size="8.6" text-anchor="middle" transform="rotate(-90 29.3 158.6)">Shore</text>
<line x1="213.4" y1="147.2" x2="227" y2="133.2" stroke="#000" stroke-width="0.8"/>
<line x1="213.4" y1="153.3" x2="227" y2="166.9" stroke="#000" stroke-width="0.8"/>
<text x="228.3" y="110.5" font-size="7.2" text-anchor="middle" transform="rotate(-90 228.3 110.5)">cg00618323</text>
<text x="228.3" y="190" font-size="7.2" text-anchor="middle" transform="rotate(-90 228.3 190)">cg20898288</text>
<text x="125.3" y="201.8" font-size="10" text-anchor="middle">Methylation degree</text>
<rect x="54.5" y="206.5" width="7.38" height="17" fill="#0000ff"/>
<rect x="61.48" y="206.5" width="7.39" height="17" fill="#1b1bff"/>
<rect x="68.47" y="206.5" width="7.39" height="17" fill="#3636ff"/>
<rect x="75.45" y="206.5" width="7.39" height="17" fill="#5151ff"/>
<rect x="82.44" y="206.5" width="7.39" height="17" fill="#6b6bff"/>
<rect x="89.42" y="206.5" width="7.39" height="17" fill="#8686ff"/>
<rect x="96.41" y="206.5" width="7.39" height="17" fill="#a1a1ff"/>
<rect x="103.39" y="206.5" width="7.39" height="17" fill="#bcbcff"/>
<rect x="110.38" y="206.5" width="7.39" height="17" fill="#d7d7ff"/>
<rect x="117.36" y="206.5" width="7.39" height="17" fill="#f2f2ff"/>
<rect x="124.35" y="206.5" width="7.38" height="17" fill="#fffff2"/>
<rect x="131.33" y="206.5" width="7.39" height="17" fill="#ffffd7"/>
<rect x="138.32" y="206.5" width="7.39" height="17" fill="#ffffbc"/>
<rect x="145.31" y="206.5" width="7.38" height="17" fill="#ffffa1"/>
<rect x="152.29" y="206.5" width="7.39" height="17" fill="#ffff86"/>
<rect x="159.28" y="206.5" width="7.38" height="17" fill="#ffff6b"/>
<rect x="166.26" y="206.5" width="7.38" height="17" fill="#ffff51"/>
<rect x="173.24" y="206.5" width="7.39" height="17" fill="#ffff36"/>
<rect x="180.23" y="206.5" width="7.38" height="17" fill="#ffff1b"/>
<rect x="187.21" y="206.5" width="7.39" height="17" fill="#ffff00"/>
<rect x="54.5" y="206.5" width="139.7" height="17" fill="none" stroke="#000" stroke-width="0.8"/>
<line x1="54.5" y1="223.5" x2="54.5" y2="229.2" stroke="#000" stroke-width="0.8"/>
<text x="54.5" y="242.8" font-size="8.6" text-anchor="middle">0</text>
<line x1="82.44" y1="223.5" x2="82.44" y2="229.2" stroke="#000" stroke-width="0.8"/>
<text x="82.44" y="242.8" font-size="8.6" text-anchor="middle">0.2</text>
<line x1="110.38" y1="223.5" x2="110.38" y2="229.2" stroke="#000" stroke-width="0.8"/>
<text x="110.38" y="242.8" font-size="8.6" text-anchor="middle">0.4</text>
<line x1="138.32" y1="223.5" x2="138.32" y2="229.2" stroke="#000" stroke-width="0.8"/>
<text x="138.32" y="242.8" font-size="8.6" text-anchor="middle">0.6</text>
<line x1="166.26" y1="223.5" x2="166.26" y2="229.2" stroke="#000" stroke-width="0.8"/>
<text x="166.26" y="242.8" font-size="8.6" text-anchor="middle">0.8</text>
<line x1="194.2" y1="223.5" x2="194.2" y2="229.2" stroke="#000" stroke-width="0.8"/>
<text x="194.2" y="242.8" font-size="8.6" text-anchor="middle">1</text>
<text x="126.7" y="256.5" font-size="8.6" text-anchor="middle">Beta-value</text>
<text x="4" y="284.9" font-size="17" font-weight="bold">B)</text>
<text x="129" y="305" font-size="10" text-anchor="middle">GSE67919 normal breast, n=96</text>
<defs><clipPath id="chb2"><rect x="40.1" y="310.2" width="171.6" height="148.5"/></clipPath><filter id="hb2" color-interpolation-filters="sRGB" x="-2%" y="0" width="104%" height="100%"><feGaussianBlur stdDeviation="0.35 0" color-interpolation-filters="sRGB"/></filter></defs>
<g clip-path="url(#chb2)"><g filter="url(#hb2)" shape-rendering="crispEdges">
<path fill="#ffff79" d="M40.1 310.2h3.61v9.94h-3.61zM102.66 310.2h1.83v9.94h-1.83zM156.29 310.2h1.83v9.94h-1.83zM174.16 310.2h1.83v9.94h-1.83zM129.47 419.1h1.83v9.94h-1.83zM134.84 419.1h1.83v9.94h-1.83zM179.52 419.1h1.83v9.94h-1.83zM47.25 429h1.83v9.94h-1.83zM56.19 429h1.83v9.94h-1.83zM104.45 429h1.83v9.94h-1.83zM125.9 429h1.83v9.94h-1.83zM170.59 429h1.83v9.94h-1.83zM183.1 429h1.83v9.94h-1.83zM193.82 429h1.83v9.94h-1.83zM175.95 438.9h1.83v9.94h-1.83z"/>
<path fill="#ffffc6" d="M43.68 310.2h3.61v9.94h-3.61zM49.04 310.2h1.83v9.94h-1.83zM63.34 310.2h3.61v9.94h-3.61zM74.06 310.2h1.83v9.94h-1.83zM84.79 310.2h1.83v9.94h-1.83zM93.72 310.2h1.83v9.94h-1.83zM97.3 310.2h1.83v9.94h-1.83zM104.45 310.2h1.83v9.94h-1.83zM124.11 310.2h1.83v9.94h-1.83zM136.62 310.2h1.83v9.94h-1.83zM147.35 310.2h1.83v9.94h-1.83zM193.82 310.2h1.83v9.94h-1.83zM197.4 310.2h1.83v9.94h-1.83zM206.34 310.2h1.83v9.94h-1.83zM47.25 409.2h1.83v9.94h-1.83zM63.34 409.2h3.61v9.94h-3.61zM77.64 409.2h3.61v9.94h-3.61zM86.57 409.2h1.83v9.94h-1.83zM99.09 409.2h3.61v9.94h-3.61zM108.03 409.2h1.83v9.94h-1.83zM111.6 409.2h1.83v9.94h-1.83zM115.17 409.2h1.83v9.94h-1.83zM127.69 409.2h1.83v9.94h-1.83zM133.05 409.2h1.83v9.94h-1.83zM147.35 409.2h1.83v9.94h-1.83zM150.92 409.2h3.61v9.94h-3.61zM159.86 409.2h1.83v9.94h-1.83zM163.44 409.2h1.83v9.94h-1.83zM167.01 409.2h1.83v9.94h-1.83zM183.1 409.2h1.83v9.94h-1.83zM186.67 409.2h3.61v9.94h-3.61zM206.34 409.2h1.83v9.94h-1.83zM63.34 429h1.83v9.94h-1.83zM99.09 429h1.83v9.94h-1.83zM136.62 429h1.83v9.94h-1.83zM186.67 429h1.83v9.94h-1.83zM190.25 429h1.83v9.94h-1.83z"/>
<path fill="#ffffac" d="M47.25 310.2h1.83v9.94h-1.83zM56.19 310.2h1.83v9.94h-1.83zM77.64 310.2h1.83v9.94h-1.83zM81.21 310.2h1.83v9.94h-1.83zM106.24 310.2h1.83v9.94h-1.83zM125.9 310.2h1.83v9.94h-1.83zM131.26 310.2h1.83v9.94h-1.83zM145.56 310.2h1.83v9.94h-1.83zM175.95 310.2h1.83v9.94h-1.83zM183.1 310.2h1.83v9.94h-1.83zM200.97 310.2h1.83v9.94h-1.83zM204.55 310.2h1.83v9.94h-1.83zM50.83 409.2h3.61v9.94h-3.61zM75.85 409.2h1.83v9.94h-1.83zM149.14 409.2h1.83v9.94h-1.83zM172.37 409.2h1.83v9.94h-1.83zM40.1 429h1.83v9.94h-1.83zM65.12 429h1.83v9.94h-1.83zM75.85 429h1.83v9.94h-1.83zM86.57 429h1.83v9.94h-1.83zM91.94 429h1.83v9.94h-1.83zM113.39 429h1.83v9.94h-1.83zM159.86 429h1.83v9.94h-1.83zM163.44 429h1.83v9.94h-1.83zM167.01 429h1.83v9.94h-1.83zM184.89 429h1.83v9.94h-1.83zM188.46 429h1.83v9.94h-1.83zM209.91 429h1.83v9.94h-1.83z"/>
<path fill="#ffffd2" d="M50.83 310.2h1.83v9.94h-1.83zM54.4 310.2h1.83v9.94h-1.83zM75.85 310.2h1.83v9.94h-1.83zM79.42 310.2h1.83v9.94h-1.83zM83 310.2h1.83v9.94h-1.83zM109.81 310.2h1.83v9.94h-1.83zM115.17 310.2h3.61v9.94h-3.61zM149.14 310.2h1.83v9.94h-1.83zM165.22 310.2h1.83v9.94h-1.83zM172.37 310.2h1.83v9.94h-1.83zM208.12 310.2h1.83v9.94h-1.83zM54.4 409.2h3.61v9.94h-3.61zM59.76 409.2h1.83v9.94h-1.83zM66.91 409.2h3.61v9.94h-3.61zM72.28 409.2h3.61v9.94h-3.61zM83 409.2h3.61v9.94h-3.61zM88.36 409.2h1.83v9.94h-1.83zM104.45 409.2h1.83v9.94h-1.83zM113.39 409.2h1.83v9.94h-1.83zM122.32 409.2h3.61v9.94h-3.61zM129.47 409.2h1.83v9.94h-1.83zM136.62 409.2h1.83v9.94h-1.83zM140.2 409.2h7.19v9.94h-7.19zM161.65 409.2h1.83v9.94h-1.83zM165.22 409.2h1.83v9.94h-1.83zM170.59 409.2h1.83v9.94h-1.83zM175.95 409.2h1.83v9.94h-1.83zM184.89 409.2h1.83v9.94h-1.83zM193.82 409.2h1.83v9.94h-1.83zM199.19 409.2h1.83v9.94h-1.83zM208.12 409.2h1.83v9.94h-1.83zM66.91 429h1.83v9.94h-1.83zM95.51 429h1.83v9.94h-1.83zM120.54 429h1.83v9.94h-1.83zM179.52 429h1.83v9.94h-1.83zM192.04 429h1.83v9.94h-1.83zM195.61 429h1.83v9.94h-1.83z"/>
<path fill="#ffff6c" d="M52.61 310.2h1.83v9.94h-1.83zM68.7 310.2h1.83v9.94h-1.83zM99.09 310.2h1.83v9.94h-1.83zM134.84 310.2h1.83v9.94h-1.83zM168.8 310.2h1.83v9.94h-1.83zM184.89 310.2h1.83v9.94h-1.83zM147.35 330h1.83v9.94h-1.83zM56.19 419.1h3.61v9.94h-3.61zM74.06 419.1h1.83v9.94h-1.83zM79.42 419.1h1.83v9.94h-1.83zM93.72 419.1h1.83v9.94h-1.83zM108.03 419.1h1.83v9.94h-1.83zM116.96 419.1h1.83v9.94h-1.83zM125.9 419.1h1.83v9.94h-1.83zM136.62 419.1h1.83v9.94h-1.83zM141.99 419.1h1.83v9.94h-1.83zM167.01 419.1h1.83v9.94h-1.83zM193.82 419.1h1.83v9.94h-1.83zM209.91 419.1h1.83v9.94h-1.83zM102.66 429h1.83v9.94h-1.83zM127.69 429h1.83v9.94h-1.83zM145.56 429h1.83v9.94h-1.83zM175.95 429h1.83v9.94h-1.83zM181.31 429h1.83v9.94h-1.83z"/>
<path fill="#ffff93" d="M57.98 310.2h1.83v9.94h-1.83zM88.36 310.2h1.83v9.94h-1.83zM95.51 310.2h1.83v9.94h-1.83zM154.5 310.2h1.83v9.94h-1.83zM167.01 310.2h1.83v9.94h-1.83zM209.91 310.2h1.83v9.94h-1.83zM43.68 419.1h1.83v9.94h-1.83zM174.16 419.1h1.83v9.94h-1.83zM74.06 429h1.83v9.94h-1.83zM81.21 429h1.83v9.94h-1.83zM84.79 429h1.83v9.94h-1.83zM109.81 429h3.61v9.94h-3.61zM115.17 429h1.83v9.94h-1.83zM122.32 429h1.83v9.94h-1.83zM134.84 429h1.83v9.94h-1.83zM141.99 429h1.83v9.94h-1.83zM158.07 429h1.83v9.94h-1.83zM165.22 429h1.83v9.94h-1.83zM172.37 429h1.83v9.94h-1.83zM177.74 429h1.83v9.94h-1.83zM200.97 429h1.83v9.94h-1.83z"/>
<path fill="#ffffb9" d="M59.76 310.2h1.83v9.94h-1.83zM66.91 310.2h1.83v9.94h-1.83zM111.6 310.2h3.61v9.94h-3.61zM120.54 310.2h3.61v9.94h-3.61zM127.69 310.2h3.61v9.94h-3.61zM133.05 310.2h1.83v9.94h-1.83zM138.41 310.2h1.83v9.94h-1.83zM143.78 310.2h1.83v9.94h-1.83zM150.92 310.2h1.83v9.94h-1.83zM158.07 310.2h1.83v9.94h-1.83zM161.65 310.2h1.83v9.94h-1.83zM179.52 310.2h3.61v9.94h-3.61zM186.67 310.2h3.61v9.94h-3.61zM195.61 310.2h1.83v9.94h-1.83zM202.76 310.2h1.83v9.94h-1.83zM41.89 409.2h1.83v9.94h-1.83zM91.94 409.2h3.61v9.94h-3.61zM102.66 409.2h1.83v9.94h-1.83zM106.24 409.2h1.83v9.94h-1.83zM116.96 409.2h1.83v9.94h-1.83zM156.29 409.2h3.61v9.94h-3.61zM174.16 409.2h1.83v9.94h-1.83zM177.74 409.2h1.83v9.94h-1.83zM190.25 409.2h1.83v9.94h-1.83zM197.4 409.2h1.83v9.94h-1.83zM77.64 419.1h1.83v9.94h-1.83zM111.6 419.1h1.83v9.94h-1.83zM70.49 429h1.83v9.94h-1.83zM129.47 429h1.83v9.94h-1.83zM149.14 429h3.61v9.94h-3.61z"/>
<path fill="#ffffec" d="M61.55 310.2h1.83v9.94h-1.83zM40.1 320.1h1.83v9.94h-1.83zM49.04 320.1h7.19v9.94h-7.19zM59.76 320.1h1.83v9.94h-1.83zM65.12 320.1h8.98v9.94h-8.98zM81.21 320.1h3.61v9.94h-3.61zM86.57 320.1h1.83v9.94h-1.83zM90.15 320.1h1.83v9.94h-1.83zM99.09 320.1h1.83v9.94h-1.83zM109.81 320.1h1.83v9.94h-1.83zM120.54 320.1h8.98v9.94h-8.98zM133.05 320.1h1.83v9.94h-1.83zM136.62 320.1h1.83v9.94h-1.83zM140.2 320.1h1.83v9.94h-1.83zM145.56 320.1h1.83v9.94h-1.83zM152.71 320.1h1.83v9.94h-1.83zM158.07 320.1h1.83v9.94h-1.83zM161.65 320.1h1.83v9.94h-1.83zM168.8 320.1h1.83v9.94h-1.83zM172.37 320.1h3.61v9.94h-3.61zM181.31 320.1h3.61v9.94h-3.61zM190.25 320.1h1.83v9.94h-1.83zM193.82 320.1h1.83v9.94h-1.83zM202.76 320.1h3.61v9.94h-3.61zM195.61 409.2h1.83v9.94h-1.83zM131.26 429h3.61v9.94h-3.61z"/>
<path fill="#ffff60" d="M70.49 310.2h3.61v9.94h-3.61zM141.99 310.2h1.83v9.94h-1.83zM152.71 310.2h1.83v9.94h-1.83zM163.44 310.2h1.83v9.94h-1.83zM50.83 419.1h1.83v9.94h-1.83zM63.34 419.1h1.83v9.94h-1.83zM81.21 419.1h1.83v9.94h-1.83zM102.66 419.1h3.61v9.94h-3.61zM109.81 419.1h1.83v9.94h-1.83zM133.05 419.1h1.83v9.94h-1.83zM159.86 419.1h1.83v9.94h-1.83zM172.37 419.1h1.83v9.94h-1.83zM183.1 419.1h1.83v9.94h-1.83zM188.46 419.1h1.83v9.94h-1.83zM192.04 419.1h1.83v9.94h-1.83zM195.61 419.1h3.61v9.94h-3.61zM204.55 419.1h1.83v9.94h-1.83zM41.89 429h1.83v9.94h-1.83zM61.55 429h1.83v9.94h-1.83zM88.36 429h1.83v9.94h-1.83zM97.3 429h1.83v9.94h-1.83zM154.5 429h1.83v9.94h-1.83zM204.55 429h1.83v9.94h-1.83zM75.85 438.9h1.83v9.94h-1.83z"/>
<path fill="#ffff86" d="M86.57 310.2h1.83v9.94h-1.83zM140.2 310.2h1.83v9.94h-1.83zM190.25 310.2h1.83v9.94h-1.83zM61.55 330h1.83v9.94h-1.83zM52.61 419.1h1.83v9.94h-1.83zM90.15 419.1h1.83v9.94h-1.83zM124.11 419.1h1.83v9.94h-1.83zM57.98 429h1.83v9.94h-1.83zM72.28 429h1.83v9.94h-1.83zM93.72 429h1.83v9.94h-1.83zM108.03 429h1.83v9.94h-1.83zM124.11 429h1.83v9.94h-1.83zM143.78 429h1.83v9.94h-1.83zM168.8 429h1.83v9.94h-1.83zM202.76 429h1.83v9.94h-1.83zM206.34 429h3.61v9.94h-3.61z"/>
<path fill="#ffffdf" d="M90.15 310.2h1.83v9.94h-1.83zM100.88 310.2h1.83v9.94h-1.83zM108.03 310.2h1.83v9.94h-1.83zM170.59 310.2h1.83v9.94h-1.83zM177.74 310.2h1.83v9.94h-1.83zM192.04 310.2h1.83v9.94h-1.83zM88.36 320.1h1.83v9.94h-1.83zM93.72 320.1h1.83v9.94h-1.83zM102.66 320.1h1.83v9.94h-1.83zM113.39 320.1h1.83v9.94h-1.83zM159.86 320.1h1.83v9.94h-1.83zM197.4 320.1h1.83v9.94h-1.83zM49.04 399.3h1.83v9.94h-1.83zM40.1 409.2h1.83v9.94h-1.83zM61.55 409.2h1.83v9.94h-1.83zM90.15 409.2h1.83v9.94h-1.83zM95.51 409.2h3.61v9.94h-3.61zM109.81 409.2h1.83v9.94h-1.83zM118.75 409.2h1.83v9.94h-1.83zM125.9 409.2h1.83v9.94h-1.83zM131.26 409.2h1.83v9.94h-1.83zM134.84 409.2h1.83v9.94h-1.83zM154.5 409.2h1.83v9.94h-1.83zM179.52 409.2h1.83v9.94h-1.83zM192.04 409.2h1.83v9.94h-1.83zM202.76 409.2h3.61v9.94h-3.61zM209.91 409.2h1.83v9.94h-1.83zM43.68 429h3.61v9.94h-3.61zM49.04 429h1.83v9.94h-1.83zM79.42 429h1.83v9.94h-1.83zM83 429h1.83v9.94h-1.83zM156.29 429h1.83v9.94h-1.83z"/>
<path fill="#ffff9f" d="M91.94 310.2h1.83v9.94h-1.83zM118.75 310.2h1.83v9.94h-1.83zM159.86 310.2h1.83v9.94h-1.83zM199.19 310.2h1.83v9.94h-1.83zM168.8 409.2h1.83v9.94h-1.83zM88.36 419.1h1.83v9.94h-1.83zM186.67 419.1h1.83v9.94h-1.83zM52.61 429h1.83v9.94h-1.83zM77.64 429h1.83v9.94h-1.83zM90.15 429h1.83v9.94h-1.83zM116.96 429h1.83v9.94h-1.83zM140.2 429h1.83v9.94h-1.83zM147.35 429h1.83v9.94h-1.83zM161.65 429h1.83v9.94h-1.83zM174.16 429h1.83v9.94h-1.83zM197.4 429h1.83v9.94h-1.83z"/>
<path fill="#f9f9ff" d="M41.89 320.1h1.83v9.94h-1.83zM77.64 320.1h1.83v9.94h-1.83zM97.3 320.1h1.83v9.94h-1.83zM104.45 320.1h1.83v9.94h-1.83zM111.6 320.1h1.83v9.94h-1.83zM138.41 320.1h1.83v9.94h-1.83zM147.35 320.1h1.83v9.94h-1.83zM150.92 320.1h1.83v9.94h-1.83zM163.44 320.1h1.83v9.94h-1.83zM49.04 409.2h1.83v9.94h-1.83zM57.98 409.2h1.83v9.94h-1.83zM81.21 409.2h1.83v9.94h-1.83zM120.54 409.2h1.83v9.94h-1.83zM100.88 429h1.83v9.94h-1.83zM106.24 429h1.83v9.94h-1.83z"/>
<path fill="#dfdfff" d="M43.68 320.1h1.83v9.94h-1.83zM79.42 320.1h1.83v9.94h-1.83zM95.51 320.1h1.83v9.94h-1.83zM129.47 320.1h3.61v9.94h-3.61zM192.04 320.1h1.83v9.94h-1.83zM206.34 320.1h1.83v9.94h-1.83zM43.68 409.2h1.83v9.94h-1.83z"/>
<path fill="#c6c6ff" d="M45.46 320.1h1.83v9.94h-1.83zM57.98 320.1h1.83v9.94h-1.83zM209.91 320.1h1.83v9.94h-1.83zM102.66 339.9h1.83v9.94h-1.83zM192.04 339.9h1.83v9.94h-1.83z"/>
<path fill="#fffff9" d="M47.25 320.1h1.83v9.94h-1.83zM56.19 320.1h1.83v9.94h-1.83zM63.34 320.1h1.83v9.94h-1.83zM74.06 320.1h1.83v9.94h-1.83zM84.79 320.1h1.83v9.94h-1.83zM91.94 320.1h1.83v9.94h-1.83zM100.88 320.1h1.83v9.94h-1.83zM106.24 320.1h3.61v9.94h-3.61zM115.17 320.1h1.83v9.94h-1.83zM118.75 320.1h1.83v9.94h-1.83zM134.84 320.1h1.83v9.94h-1.83zM141.99 320.1h1.83v9.94h-1.83zM149.14 320.1h1.83v9.94h-1.83zM154.5 320.1h3.61v9.94h-3.61zM165.22 320.1h3.61v9.94h-3.61zM170.59 320.1h1.83v9.94h-1.83zM177.74 320.1h1.83v9.94h-1.83zM184.89 320.1h5.4v9.94h-5.4zM195.61 320.1h1.83v9.94h-1.83zM199.19 320.1h1.83v9.94h-1.83zM208.12 320.1h1.83v9.94h-1.83zM57.98 359.7h1.83v9.94h-1.83zM66.91 359.7h1.83v9.94h-1.83zM190.25 359.7h1.83v9.94h-1.83zM45.46 409.2h1.83v9.94h-1.83zM70.49 409.2h1.83v9.94h-1.83zM138.41 409.2h1.83v9.94h-1.83zM181.31 409.2h1.83v9.94h-1.83zM200.97 409.2h1.83v9.94h-1.83zM54.4 429h1.83v9.94h-1.83zM118.75 429h1.83v9.94h-1.83zM138.41 429h1.83v9.94h-1.83z"/>
<path fill="#d2d2ff" d="M61.55 320.1h1.83v9.94h-1.83zM143.78 320.1h1.83v9.94h-1.83zM175.95 320.1h1.83v9.94h-1.83zM179.52 320.1h1.83v9.94h-1.83z"/>
<path fill="#b9b9ff" d="M75.85 320.1h1.83v9.94h-1.83zM116.96 320.1h1.83v9.94h-1.83zM200.97 320.1h1.83v9.94h-1.83zM188.46 399.3h1.83v9.94h-1.83z"/>
<path fill="#ffff20" d="M40.1 330h3.61v9.94h-3.61zM45.46 330h1.83v9.94h-1.83zM49.04 330h3.61v9.94h-3.61zM66.91 330h1.83v9.94h-1.83zM70.49 330h1.83v9.94h-1.83zM79.42 330h12.55v9.94h-12.55zM97.3 330h1.83v9.94h-1.83zM100.88 330h1.83v9.94h-1.83zM104.45 330h1.83v9.94h-1.83zM108.03 330h1.83v9.94h-1.83zM122.32 330h1.83v9.94h-1.83zM125.9 330h1.83v9.94h-1.83zM129.47 330h1.83v9.94h-1.83zM134.84 330h1.83v9.94h-1.83zM138.41 330h3.61v9.94h-3.61zM145.56 330h1.83v9.94h-1.83zM149.14 330h1.83v9.94h-1.83zM158.07 330h1.83v9.94h-1.83zM168.8 330h1.83v9.94h-1.83zM172.37 330h1.83v9.94h-1.83zM175.95 330h1.83v9.94h-1.83zM179.52 330h1.83v9.94h-1.83zM183.1 330h5.4v9.94h-5.4zM192.04 330h1.83v9.94h-1.83zM195.61 330h1.83v9.94h-1.83zM199.19 330h12.55v9.94h-12.55zM40.1 419.1h1.83v9.94h-1.83zM41.89 438.9h1.83v9.94h-1.83zM45.46 438.9h8.98v9.94h-8.98zM57.98 438.9h3.61v9.94h-3.61zM68.7 438.9h3.61v9.94h-3.61zM81.21 438.9h5.4v9.94h-5.4zM90.15 438.9h3.61v9.94h-3.61zM97.3 438.9h5.4v9.94h-5.4zM104.45 438.9h3.61v9.94h-3.61zM113.39 438.9h3.61v9.94h-3.61zM118.75 438.9h1.83v9.94h-1.83zM122.32 438.9h1.83v9.94h-1.83zM129.47 438.9h1.83v9.94h-1.83zM133.05 438.9h1.83v9.94h-1.83zM141.99 438.9h1.83v9.94h-1.83zM152.71 438.9h3.61v9.94h-3.61zM158.07 438.9h1.83v9.94h-1.83zM167.01 438.9h1.83v9.94h-1.83zM179.52 438.9h1.83v9.94h-1.83zM183.1 438.9h1.83v9.94h-1.83zM197.4 438.9h1.83v9.94h-1.83zM200.97 438.9h5.4v9.94h-5.4zM208.12 438.9h3.61v9.94h-3.61zM40.1 448.8h1.83v9.94h-1.83zM47.25 448.8h3.61v9.94h-3.61zM54.4 448.8h3.61v9.94h-3.61zM61.55 448.8h3.61v9.94h-3.61zM72.28 448.8h3.61v9.94h-3.61zM79.42 448.8h3.61v9.94h-3.61zM84.79 448.8h1.83v9.94h-1.83zM91.94 448.8h1.83v9.94h-1.83zM95.51 448.8h3.61v9.94h-3.61zM109.81 448.8h1.83v9.94h-1.83zM125.9 448.8h5.4v9.94h-5.4zM134.84 448.8h1.83v9.94h-1.83zM143.78 448.8h1.83v9.94h-1.83zM156.29 448.8h1.83v9.94h-1.83zM163.44 448.8h3.61v9.94h-3.61zM168.8 448.8h1.83v9.94h-1.83zM177.74 448.8h3.61v9.94h-3.61zM183.1 448.8h1.83v9.94h-1.83zM186.67 448.8h5.4v9.94h-5.4zM193.82 448.8h3.61v9.94h-3.61zM200.97 448.8h1.83v9.94h-1.83zM204.55 448.8h1.83v9.94h-1.83zM209.91 448.8h1.83v9.94h-1.83z"/>
<path fill="#ffff13" d="M43.68 330h1.83v9.94h-1.83zM47.25 330h1.83v9.94h-1.83zM52.61 330h7.19v9.94h-7.19zM63.34 330h1.83v9.94h-1.83zM72.28 330h1.83v9.94h-1.83zM75.85 330h3.61v9.94h-3.61zM91.94 330h5.4v9.94h-5.4zM99.09 330h1.83v9.94h-1.83zM106.24 330h1.83v9.94h-1.83zM113.39 330h1.83v9.94h-1.83zM116.96 330h1.83v9.94h-1.83zM120.54 330h1.83v9.94h-1.83zM124.11 330h1.83v9.94h-1.83zM127.69 330h1.83v9.94h-1.83zM131.26 330h1.83v9.94h-1.83zM141.99 330h1.83v9.94h-1.83zM154.5 330h3.61v9.94h-3.61zM159.86 330h7.19v9.94h-7.19zM170.59 330h1.83v9.94h-1.83zM174.16 330h1.83v9.94h-1.83zM181.31 330h1.83v9.94h-1.83zM188.46 330h3.61v9.94h-3.61zM193.82 330h1.83v9.94h-1.83zM197.4 330h1.83v9.94h-1.83zM40.1 438.9h1.83v9.94h-1.83zM56.19 438.9h1.83v9.94h-1.83zM61.55 438.9h1.83v9.94h-1.83zM65.12 438.9h3.61v9.94h-3.61zM74.06 438.9h1.83v9.94h-1.83zM77.64 438.9h1.83v9.94h-1.83zM95.51 438.9h1.83v9.94h-1.83zM108.03 438.9h5.4v9.94h-5.4zM116.96 438.9h1.83v9.94h-1.83zM120.54 438.9h1.83v9.94h-1.83zM125.9 438.9h1.83v9.94h-1.83zM131.26 438.9h1.83v9.94h-1.83zM143.78 438.9h3.61v9.94h-3.61zM161.65 438.9h1.83v9.94h-1.83zM165.22 438.9h1.83v9.94h-1.83zM168.8 438.9h5.4v9.94h-5.4zM177.74 438.9h1.83v9.94h-1.83zM181.31 438.9h1.83v9.94h-1.83zM184.89 438.9h7.19v9.94h-7.19zM195.61 438.9h1.83v9.94h-1.83zM199.19 438.9h1.83v9.94h-1.83zM206.34 438.9h1.83v9.94h-1.83zM41.89 448.8h3.61v9.94h-3.61zM52.61 448.8h1.83v9.94h-1.83zM59.76 448.8h1.83v9.94h-1.83zM65.12 448.8h3.61v9.94h-3.61zM70.49 448.8h1.83v9.94h-1.83zM83 448.8h1.83v9.94h-1.83zM86.57 448.8h5.4v9.94h-5.4zM93.72 448.8h1.83v9.94h-1.83zM99.09 448.8h3.61v9.94h-3.61zM108.03 448.8h1.83v9.94h-1.83zM111.6 448.8h1.83v9.94h-1.83zM115.17 448.8h8.98v9.94h-8.98zM131.26 448.8h3.61v9.94h-3.61zM136.62 448.8h5.4v9.94h-5.4zM145.56 448.8h10.76v9.94h-10.76zM158.07 448.8h5.4v9.94h-5.4zM167.01 448.8h1.83v9.94h-1.83zM170.59 448.8h1.83v9.94h-1.83zM174.16 448.8h1.83v9.94h-1.83zM181.31 448.8h1.83v9.94h-1.83zM184.89 448.8h1.83v9.94h-1.83zM192.04 448.8h1.83v9.94h-1.83zM199.19 448.8h1.83v9.94h-1.83zM206.34 448.8h1.83v9.94h-1.83z"/>
<path fill="#ffff06" d="M59.76 330h1.83v9.94h-1.83zM102.66 330h1.83v9.94h-1.83zM109.81 330h3.61v9.94h-3.61zM133.05 330h1.83v9.94h-1.83zM143.78 330h1.83v9.94h-1.83zM152.71 330h1.83v9.94h-1.83zM167.01 330h1.83v9.94h-1.83zM177.74 330h1.83v9.94h-1.83zM63.34 438.9h1.83v9.94h-1.83zM72.28 438.9h1.83v9.94h-1.83zM79.42 438.9h1.83v9.94h-1.83zM86.57 438.9h3.61v9.94h-3.61zM124.11 438.9h1.83v9.94h-1.83zM127.69 438.9h1.83v9.94h-1.83zM138.41 438.9h1.83v9.94h-1.83zM147.35 438.9h3.61v9.94h-3.61zM163.44 438.9h1.83v9.94h-1.83zM193.82 438.9h1.83v9.94h-1.83zM45.46 448.8h1.83v9.94h-1.83zM50.83 448.8h1.83v9.94h-1.83zM57.98 448.8h1.83v9.94h-1.83zM68.7 448.8h1.83v9.94h-1.83zM75.85 448.8h3.61v9.94h-3.61zM102.66 448.8h5.4v9.94h-5.4zM124.11 448.8h1.83v9.94h-1.83zM141.99 448.8h1.83v9.94h-1.83zM172.37 448.8h1.83v9.94h-1.83zM175.95 448.8h1.83v9.94h-1.83zM197.4 448.8h1.83v9.94h-1.83zM202.76 448.8h1.83v9.94h-1.83zM208.12 448.8h1.83v9.94h-1.83z"/>
<path fill="#ffff53" d="M65.12 330h1.83v9.94h-1.83zM74.06 330h1.83v9.94h-1.83zM61.55 419.1h1.83v9.94h-1.83zM66.91 419.1h1.83v9.94h-1.83zM84.79 419.1h1.83v9.94h-1.83zM95.51 419.1h1.83v9.94h-1.83zM122.32 419.1h1.83v9.94h-1.83zM131.26 419.1h1.83v9.94h-1.83zM161.65 419.1h1.83v9.94h-1.83zM165.22 419.1h1.83v9.94h-1.83zM177.74 419.1h1.83v9.94h-1.83zM181.31 419.1h1.83v9.94h-1.83zM200.97 419.1h3.61v9.94h-3.61zM50.83 429h1.83v9.94h-1.83zM59.76 429h1.83v9.94h-1.83zM152.71 429h1.83v9.94h-1.83zM192.04 438.9h1.83v9.94h-1.83z"/>
<path fill="#ffff2d" d="M68.7 330h1.83v9.94h-1.83zM115.17 330h1.83v9.94h-1.83zM150.92 330h1.83v9.94h-1.83zM41.89 419.1h1.83v9.94h-1.83zM113.39 419.1h1.83v9.94h-1.83zM140.2 419.1h1.83v9.94h-1.83zM175.95 419.1h1.83v9.94h-1.83zM199.19 419.1h1.83v9.94h-1.83zM206.34 419.1h1.83v9.94h-1.83zM43.68 438.9h1.83v9.94h-1.83zM54.4 438.9h1.83v9.94h-1.83zM93.72 438.9h1.83v9.94h-1.83zM102.66 438.9h1.83v9.94h-1.83zM140.2 438.9h1.83v9.94h-1.83zM150.92 438.9h1.83v9.94h-1.83zM156.29 438.9h1.83v9.94h-1.83zM159.86 438.9h1.83v9.94h-1.83zM174.16 438.9h1.83v9.94h-1.83z"/>
<path fill="#ffff39" d="M118.75 330h1.83v9.94h-1.83zM136.62 330h1.83v9.94h-1.83zM47.25 419.1h3.61v9.94h-3.61zM54.4 419.1h1.83v9.94h-1.83zM59.76 419.1h1.83v9.94h-1.83zM65.12 419.1h1.83v9.94h-1.83zM83 419.1h1.83v9.94h-1.83zM97.3 419.1h1.83v9.94h-1.83zM118.75 419.1h3.61v9.94h-3.61zM147.35 419.1h1.83v9.94h-1.83zM150.92 419.1h3.61v9.94h-3.61zM156.29 419.1h1.83v9.94h-1.83zM168.8 419.1h1.83v9.94h-1.83zM134.84 438.9h3.61v9.94h-3.61z"/>
<path fill="#4646ff" d="M40.1 339.9h1.83v9.94h-1.83zM66.91 339.9h1.83v9.94h-1.83zM93.72 339.9h1.83v9.94h-1.83zM111.6 339.9h1.83v9.94h-1.83zM163.44 339.9h1.83v9.94h-1.83zM177.74 339.9h1.83v9.94h-1.83zM184.89 339.9h1.83v9.94h-1.83zM54.4 369.6h1.83v9.94h-1.83zM63.34 379.5h1.83v9.94h-1.83zM74.06 379.5h1.83v9.94h-1.83zM106.24 379.5h1.83v9.94h-1.83zM122.32 379.5h1.83v9.94h-1.83zM129.47 379.5h1.83v9.94h-1.83zM179.52 379.5h1.83v9.94h-1.83zM192.04 379.5h1.83v9.94h-1.83zM49.04 389.4h1.83v9.94h-1.83zM147.35 389.4h1.83v9.94h-1.83zM152.71 389.4h1.83v9.94h-1.83zM156.29 389.4h1.83v9.94h-1.83zM181.31 389.4h1.83v9.94h-1.83zM184.89 389.4h3.61v9.94h-3.61zM193.82 389.4h1.83v9.94h-1.83zM209.91 389.4h1.83v9.94h-1.83zM150.92 399.3h1.83v9.94h-1.83z"/>
<path fill="#9393ff" d="M41.89 339.9h3.61v9.94h-3.61zM68.7 339.9h1.83v9.94h-1.83zM86.57 339.9h1.83v9.94h-1.83zM95.51 339.9h1.83v9.94h-1.83zM115.17 339.9h1.83v9.94h-1.83zM118.75 339.9h3.61v9.94h-3.61zM149.14 339.9h1.83v9.94h-1.83zM156.29 339.9h1.83v9.94h-1.83zM168.8 339.9h1.83v9.94h-1.83zM175.95 339.9h1.83v9.94h-1.83zM183.1 339.9h1.83v9.94h-1.83zM186.67 339.9h5.4v9.94h-5.4zM56.19 399.3h3.61v9.94h-3.61zM120.54 399.3h3.61v9.94h-3.61zM127.69 399.3h1.83v9.94h-1.83zM156.29 399.3h1.83v9.94h-1.83zM200.97 399.3h1.83v9.94h-1.83zM204.55 399.3h1.83v9.94h-1.83z"/>
<path fill="#6c6cff" d="M45.46 339.9h1.83v9.94h-1.83zM70.49 339.9h1.83v9.94h-1.83zM79.42 339.9h1.83v9.94h-1.83zM113.39 339.9h1.83v9.94h-1.83zM125.9 339.9h1.83v9.94h-1.83zM140.2 339.9h1.83v9.94h-1.83zM152.71 339.9h1.83v9.94h-1.83zM172.37 339.9h1.83v9.94h-1.83zM202.76 339.9h1.83v9.94h-1.83zM104.45 349.8h1.83v9.94h-1.83zM113.39 349.8h1.83v9.94h-1.83zM49.04 379.5h1.83v9.94h-1.83zM109.81 379.5h1.83v9.94h-1.83zM150.92 379.5h1.83v9.94h-1.83zM72.28 389.4h1.83v9.94h-1.83zM136.62 389.4h1.83v9.94h-1.83zM200.97 389.4h1.83v9.94h-1.83zM40.1 399.3h1.83v9.94h-1.83zM52.61 399.3h3.61v9.94h-3.61zM61.55 399.3h3.61v9.94h-3.61zM75.85 399.3h1.83v9.94h-1.83zM88.36 399.3h1.83v9.94h-1.83zM91.94 399.3h1.83v9.94h-1.83zM97.3 399.3h1.83v9.94h-1.83zM104.45 399.3h1.83v9.94h-1.83zM118.75 399.3h1.83v9.94h-1.83zM129.47 399.3h1.83v9.94h-1.83zM147.35 399.3h1.83v9.94h-1.83zM163.44 399.3h1.83v9.94h-1.83zM167.01 399.3h1.83v9.94h-1.83zM170.59 399.3h1.83v9.94h-1.83zM175.95 399.3h1.83v9.94h-1.83zM186.67 399.3h1.83v9.94h-1.83zM193.82 399.3h1.83v9.94h-1.83z"/>
<path fill="#acacff" d="M47.25 339.9h1.83v9.94h-1.83zM77.64 339.9h1.83v9.94h-1.83zM99.09 339.9h1.83v9.94h-1.83zM141.99 339.9h1.83v9.94h-1.83zM197.4 339.9h1.83v9.94h-1.83zM204.55 339.9h1.83v9.94h-1.83zM66.91 399.3h1.83v9.94h-1.83zM95.51 399.3h1.83v9.94h-1.83zM113.39 399.3h1.83v9.94h-1.83zM154.5 399.3h1.83v9.94h-1.83zM158.07 399.3h1.83v9.94h-1.83zM177.74 399.3h1.83v9.94h-1.83z"/>
<path fill="#6060ff" d="M49.04 339.9h1.83v9.94h-1.83zM57.98 339.9h3.61v9.94h-3.61zM63.34 339.9h3.61v9.94h-3.61zM81.21 339.9h3.61v9.94h-3.61zM100.88 339.9h1.83v9.94h-1.83zM124.11 339.9h1.83v9.94h-1.83zM127.69 339.9h1.83v9.94h-1.83zM150.92 339.9h1.83v9.94h-1.83zM158.07 339.9h1.83v9.94h-1.83zM161.65 339.9h1.83v9.94h-1.83zM199.19 339.9h3.61v9.94h-3.61zM208.12 339.9h1.83v9.94h-1.83zM52.61 349.8h1.83v9.94h-1.83zM102.66 349.8h1.83v9.94h-1.83zM143.78 379.5h1.83v9.94h-1.83zM141.99 389.4h1.83v9.94h-1.83zM41.89 399.3h1.83v9.94h-1.83zM68.7 399.3h1.83v9.94h-1.83zM72.28 399.3h1.83v9.94h-1.83zM77.64 399.3h1.83v9.94h-1.83zM99.09 399.3h5.4v9.94h-5.4zM109.81 399.3h1.83v9.94h-1.83zM116.96 399.3h1.83v9.94h-1.83zM125.9 399.3h1.83v9.94h-1.83zM140.2 399.3h3.61v9.94h-3.61zM181.31 399.3h1.83v9.94h-1.83zM192.04 399.3h1.83v9.94h-1.83zM197.4 399.3h1.83v9.94h-1.83zM202.76 399.3h1.83v9.94h-1.83zM208.12 399.3h1.83v9.94h-1.83z"/>
<path fill="#9f9fff" d="M50.83 339.9h1.83v9.94h-1.83zM91.94 339.9h1.83v9.94h-1.83zM143.78 339.9h1.83v9.94h-1.83zM147.35 339.9h1.83v9.94h-1.83zM159.86 339.9h1.83v9.94h-1.83zM181.31 339.9h1.83v9.94h-1.83zM65.12 399.3h1.83v9.94h-1.83zM70.49 399.3h1.83v9.94h-1.83zM81.21 399.3h1.83v9.94h-1.83zM134.84 399.3h3.61v9.94h-3.61z"/>
<path fill="#7979ff" d="M52.61 339.9h1.83v9.94h-1.83zM56.19 339.9h1.83v9.94h-1.83zM84.79 339.9h1.83v9.94h-1.83zM90.15 339.9h1.83v9.94h-1.83zM108.03 339.9h1.83v9.94h-1.83zM134.84 339.9h1.83v9.94h-1.83zM165.22 339.9h1.83v9.94h-1.83zM170.59 339.9h1.83v9.94h-1.83zM193.82 339.9h1.83v9.94h-1.83zM206.34 339.9h1.83v9.94h-1.83zM184.89 379.5h1.83v9.94h-1.83zM116.96 389.4h1.83v9.94h-1.83zM45.46 399.3h3.61v9.94h-3.61zM50.83 399.3h1.83v9.94h-1.83zM59.76 399.3h1.83v9.94h-1.83zM74.06 399.3h1.83v9.94h-1.83zM84.79 399.3h1.83v9.94h-1.83zM90.15 399.3h1.83v9.94h-1.83zM108.03 399.3h1.83v9.94h-1.83zM124.11 399.3h1.83v9.94h-1.83zM143.78 399.3h1.83v9.94h-1.83zM149.14 399.3h1.83v9.94h-1.83zM152.71 399.3h1.83v9.94h-1.83zM161.65 399.3h1.83v9.94h-1.83zM168.8 399.3h1.83v9.94h-1.83zM174.16 399.3h1.83v9.94h-1.83zM179.52 399.3h1.83v9.94h-1.83zM183.1 399.3h1.83v9.94h-1.83zM190.25 399.3h1.83v9.94h-1.83zM195.61 399.3h1.83v9.94h-1.83zM209.91 399.3h1.83v9.94h-1.83z"/>
<path fill="#5353ff" d="M54.4 339.9h1.83v9.94h-1.83zM72.28 339.9h3.61v9.94h-3.61zM88.36 339.9h1.83v9.94h-1.83zM106.24 339.9h1.83v9.94h-1.83zM131.26 339.9h1.83v9.94h-1.83zM138.41 339.9h1.83v9.94h-1.83zM145.56 339.9h1.83v9.94h-1.83zM102.66 379.5h1.83v9.94h-1.83zM206.34 379.5h1.83v9.94h-1.83zM77.64 389.4h1.83v9.94h-1.83zM86.57 399.3h1.83v9.94h-1.83zM111.6 399.3h1.83v9.94h-1.83zM133.05 399.3h1.83v9.94h-1.83zM138.41 399.3h1.83v9.94h-1.83zM159.86 399.3h1.83v9.94h-1.83zM165.22 399.3h1.83v9.94h-1.83z"/>
<path fill="#8686ff" d="M61.55 339.9h1.83v9.94h-1.83zM75.85 339.9h1.83v9.94h-1.83zM97.3 339.9h1.83v9.94h-1.83zM104.45 339.9h1.83v9.94h-1.83zM109.81 339.9h1.83v9.94h-1.83zM122.32 339.9h1.83v9.94h-1.83zM129.47 339.9h1.83v9.94h-1.83zM133.05 339.9h1.83v9.94h-1.83zM136.62 339.9h1.83v9.94h-1.83zM154.5 339.9h1.83v9.94h-1.83zM167.01 339.9h1.83v9.94h-1.83zM174.16 339.9h1.83v9.94h-1.83zM179.52 339.9h1.83v9.94h-1.83zM195.61 339.9h1.83v9.94h-1.83zM209.91 339.9h1.83v9.94h-1.83zM170.59 379.5h1.83v9.94h-1.83zM43.68 399.3h1.83v9.94h-1.83zM79.42 399.3h1.83v9.94h-1.83zM83 399.3h1.83v9.94h-1.83zM93.72 399.3h1.83v9.94h-1.83zM106.24 399.3h1.83v9.94h-1.83zM115.17 399.3h1.83v9.94h-1.83zM131.26 399.3h1.83v9.94h-1.83zM145.56 399.3h1.83v9.94h-1.83zM172.37 399.3h1.83v9.94h-1.83zM184.89 399.3h1.83v9.94h-1.83zM199.19 399.3h1.83v9.94h-1.83zM206.34 399.3h1.83v9.94h-1.83z"/>
<path fill="#3939ff" d="M116.96 339.9h1.83v9.94h-1.83zM47.25 349.8h1.83v9.94h-1.83zM54.4 379.5h1.83v9.94h-1.83zM57.98 379.5h1.83v9.94h-1.83zM66.91 379.5h1.83v9.94h-1.83zM99.09 379.5h1.83v9.94h-1.83zM111.6 379.5h3.61v9.94h-3.61zM118.75 379.5h1.83v9.94h-1.83zM125.9 379.5h1.83v9.94h-1.83zM131.26 379.5h3.61v9.94h-3.61zM159.86 379.5h1.83v9.94h-1.83zM163.44 379.5h3.61v9.94h-3.61zM190.25 379.5h1.83v9.94h-1.83zM195.61 379.5h1.83v9.94h-1.83zM200.97 379.5h1.83v9.94h-1.83zM41.89 389.4h1.83v9.94h-1.83zM45.46 389.4h1.83v9.94h-1.83zM57.98 389.4h3.61v9.94h-3.61zM63.34 389.4h1.83v9.94h-1.83zM66.91 389.4h1.83v9.94h-1.83zM74.06 389.4h3.61v9.94h-3.61zM86.57 389.4h1.83v9.94h-1.83zM90.15 389.4h1.83v9.94h-1.83zM93.72 389.4h1.83v9.94h-1.83zM97.3 389.4h3.61v9.94h-3.61zM106.24 389.4h1.83v9.94h-1.83zM109.81 389.4h1.83v9.94h-1.83zM120.54 389.4h1.83v9.94h-1.83zM127.69 389.4h1.83v9.94h-1.83zM131.26 389.4h3.61v9.94h-3.61zM158.07 389.4h1.83v9.94h-1.83zM161.65 389.4h1.83v9.94h-1.83zM190.25 389.4h1.83v9.94h-1.83zM195.61 389.4h1.83v9.94h-1.83zM202.76 389.4h1.83v9.94h-1.83zM208.12 389.4h1.83v9.94h-1.83z"/>
<path fill="#1313ff" d="M40.1 349.8h1.83v9.94h-1.83zM49.04 349.8h3.61v9.94h-3.61zM61.55 349.8h1.83v9.94h-1.83zM65.12 349.8h1.83v9.94h-1.83zM70.49 349.8h1.83v9.94h-1.83zM75.85 349.8h1.83v9.94h-1.83zM79.42 349.8h1.83v9.94h-1.83zM97.3 349.8h1.83v9.94h-1.83zM109.81 349.8h1.83v9.94h-1.83zM118.75 349.8h1.83v9.94h-1.83zM131.26 349.8h1.83v9.94h-1.83zM134.84 349.8h1.83v9.94h-1.83zM138.41 349.8h3.61v9.94h-3.61zM170.59 349.8h5.4v9.94h-5.4zM177.74 349.8h5.4v9.94h-5.4zM192.04 349.8h1.83v9.94h-1.83zM197.4 349.8h1.83v9.94h-1.83zM200.97 349.8h3.61v9.94h-3.61zM209.91 349.8h1.83v9.94h-1.83zM45.46 359.7h1.83v9.94h-1.83zM50.83 359.7h5.4v9.94h-5.4zM63.34 359.7h1.83v9.94h-1.83zM74.06 359.7h1.83v9.94h-1.83zM77.64 359.7h1.83v9.94h-1.83zM84.79 359.7h1.83v9.94h-1.83zM88.36 359.7h3.61v9.94h-3.61zM93.72 359.7h5.4v9.94h-5.4zM109.81 359.7h5.4v9.94h-5.4zM120.54 359.7h3.61v9.94h-3.61zM129.47 359.7h8.98v9.94h-8.98zM141.99 359.7h1.83v9.94h-1.83zM147.35 359.7h5.4v9.94h-5.4zM158.07 359.7h1.83v9.94h-1.83zM161.65 359.7h3.61v9.94h-3.61zM167.01 359.7h3.61v9.94h-3.61zM174.16 359.7h5.4v9.94h-5.4zM186.67 359.7h1.83v9.94h-1.83zM192.04 359.7h3.61v9.94h-3.61zM199.19 359.7h1.83v9.94h-1.83zM47.25 369.6h1.83v9.94h-1.83zM56.19 369.6h1.83v9.94h-1.83zM63.34 369.6h5.4v9.94h-5.4zM83 369.6h1.83v9.94h-1.83zM86.57 369.6h5.4v9.94h-5.4zM93.72 369.6h5.4v9.94h-5.4zM106.24 369.6h5.4v9.94h-5.4zM113.39 369.6h1.83v9.94h-1.83zM152.71 369.6h1.83v9.94h-1.83zM158.07 369.6h3.61v9.94h-3.61zM165.22 369.6h1.83v9.94h-1.83zM170.59 369.6h1.83v9.94h-1.83zM177.74 369.6h1.83v9.94h-1.83zM181.31 369.6h1.83v9.94h-1.83zM193.82 369.6h1.83v9.94h-1.83zM197.4 369.6h1.83v9.94h-1.83zM206.34 369.6h3.61v9.94h-3.61zM59.76 379.5h3.61v9.94h-3.61zM95.51 379.5h1.83v9.94h-1.83zM100.88 379.5h1.83v9.94h-1.83zM115.17 379.5h1.83v9.94h-1.83zM161.65 379.5h1.83v9.94h-1.83zM197.4 379.5h1.83v9.94h-1.83zM40.1 389.4h1.83v9.94h-1.83zM47.25 389.4h1.83v9.94h-1.83zM79.42 389.4h1.83v9.94h-1.83zM84.79 389.4h1.83v9.94h-1.83zM91.94 389.4h1.83v9.94h-1.83zM125.9 389.4h1.83v9.94h-1.83zM138.41 389.4h1.83v9.94h-1.83zM149.14 389.4h1.83v9.94h-1.83zM170.59 389.4h1.83v9.94h-1.83z"/>
<path fill="#0606ff" d="M41.89 349.8h5.4v9.94h-5.4zM54.4 349.8h7.19v9.94h-7.19zM63.34 349.8h1.83v9.94h-1.83zM66.91 349.8h3.61v9.94h-3.61zM72.28 349.8h3.61v9.94h-3.61zM77.64 349.8h1.83v9.94h-1.83zM81.21 349.8h16.13v9.94h-16.13zM99.09 349.8h3.61v9.94h-3.61zM106.24 349.8h3.61v9.94h-3.61zM111.6 349.8h1.83v9.94h-1.83zM115.17 349.8h3.61v9.94h-3.61zM120.54 349.8h8.98v9.94h-8.98zM133.05 349.8h1.83v9.94h-1.83zM136.62 349.8h1.83v9.94h-1.83zM141.99 349.8h28.64v9.94h-28.64zM175.95 349.8h1.83v9.94h-1.83zM183.1 349.8h8.98v9.94h-8.98zM193.82 349.8h3.61v9.94h-3.61zM199.19 349.8h1.83v9.94h-1.83zM204.55 349.8h5.4v9.94h-5.4zM43.68 359.7h1.83v9.94h-1.83zM47.25 359.7h1.83v9.94h-1.83zM59.76 359.7h1.83v9.94h-1.83zM68.7 359.7h3.61v9.94h-3.61zM83 359.7h1.83v9.94h-1.83zM86.57 359.7h1.83v9.94h-1.83zM100.88 359.7h3.61v9.94h-3.61zM108.03 359.7h1.83v9.94h-1.83zM116.96 359.7h3.61v9.94h-3.61zM140.2 359.7h1.83v9.94h-1.83zM152.71 359.7h1.83v9.94h-1.83zM156.29 359.7h1.83v9.94h-1.83zM165.22 359.7h1.83v9.94h-1.83zM170.59 359.7h3.61v9.94h-3.61zM183.1 359.7h1.83v9.94h-1.83zM197.4 359.7h1.83v9.94h-1.83zM200.97 359.7h1.83v9.94h-1.83zM204.55 359.7h5.4v9.94h-5.4zM40.1 369.6h7.19v9.94h-7.19zM49.04 369.6h5.4v9.94h-5.4zM57.98 369.6h5.4v9.94h-5.4zM68.7 369.6h14.34v9.94h-14.34zM84.79 369.6h1.83v9.94h-1.83zM91.94 369.6h1.83v9.94h-1.83zM99.09 369.6h7.19v9.94h-7.19zM111.6 369.6h1.83v9.94h-1.83zM115.17 369.6h37.58v9.94h-37.58zM154.5 369.6h3.61v9.94h-3.61zM161.65 369.6h3.61v9.94h-3.61zM167.01 369.6h3.61v9.94h-3.61zM172.37 369.6h5.4v9.94h-5.4zM179.52 369.6h1.83v9.94h-1.83zM183.1 369.6h10.76v9.94h-10.76zM195.61 369.6h1.83v9.94h-1.83zM199.19 369.6h7.19v9.94h-7.19zM124.11 379.5h1.83v9.94h-1.83z"/>
<path fill="#2d2dff" d="M129.47 349.8h1.83v9.94h-1.83zM138.41 359.7h1.83v9.94h-1.83zM159.86 359.7h1.83v9.94h-1.83zM209.91 359.7h1.83v9.94h-1.83zM41.89 379.5h3.61v9.94h-3.61zM47.25 379.5h1.83v9.94h-1.83zM50.83 379.5h1.83v9.94h-1.83zM56.19 379.5h1.83v9.94h-1.83zM70.49 379.5h3.61v9.94h-3.61zM75.85 379.5h3.61v9.94h-3.61zM84.79 379.5h8.98v9.94h-8.98zM104.45 379.5h1.83v9.94h-1.83zM120.54 379.5h1.83v9.94h-1.83zM138.41 379.5h5.4v9.94h-5.4zM145.56 379.5h3.61v9.94h-3.61zM154.5 379.5h1.83v9.94h-1.83zM167.01 379.5h1.83v9.94h-1.83zM172.37 379.5h7.19v9.94h-7.19zM181.31 379.5h3.61v9.94h-3.61zM186.67 379.5h3.61v9.94h-3.61zM193.82 379.5h1.83v9.94h-1.83zM202.76 379.5h3.61v9.94h-3.61zM209.91 379.5h1.83v9.94h-1.83zM43.68 389.4h1.83v9.94h-1.83zM52.61 389.4h1.83v9.94h-1.83zM56.19 389.4h1.83v9.94h-1.83zM61.55 389.4h1.83v9.94h-1.83zM65.12 389.4h1.83v9.94h-1.83zM70.49 389.4h1.83v9.94h-1.83zM100.88 389.4h1.83v9.94h-1.83zM108.03 389.4h1.83v9.94h-1.83zM111.6 389.4h1.83v9.94h-1.83zM115.17 389.4h1.83v9.94h-1.83zM124.11 389.4h1.83v9.94h-1.83zM129.47 389.4h1.83v9.94h-1.83zM134.84 389.4h1.83v9.94h-1.83zM140.2 389.4h1.83v9.94h-1.83zM145.56 389.4h1.83v9.94h-1.83zM159.86 389.4h1.83v9.94h-1.83zM163.44 389.4h1.83v9.94h-1.83zM167.01 389.4h3.61v9.94h-3.61zM172.37 389.4h3.61v9.94h-3.61zM177.74 389.4h1.83v9.94h-1.83zM188.46 389.4h1.83v9.94h-1.83zM199.19 389.4h1.83v9.94h-1.83z"/>
<path fill="#2020ff" d="M40.1 359.7h3.61v9.94h-3.61zM49.04 359.7h1.83v9.94h-1.83zM56.19 359.7h1.83v9.94h-1.83zM61.55 359.7h1.83v9.94h-1.83zM65.12 359.7h1.83v9.94h-1.83zM72.28 359.7h1.83v9.94h-1.83zM75.85 359.7h1.83v9.94h-1.83zM79.42 359.7h3.61v9.94h-3.61zM91.94 359.7h1.83v9.94h-1.83zM99.09 359.7h1.83v9.94h-1.83zM104.45 359.7h3.61v9.94h-3.61zM115.17 359.7h1.83v9.94h-1.83zM124.11 359.7h5.4v9.94h-5.4zM143.78 359.7h3.61v9.94h-3.61zM154.5 359.7h1.83v9.94h-1.83zM179.52 359.7h3.61v9.94h-3.61zM184.89 359.7h1.83v9.94h-1.83zM188.46 359.7h1.83v9.94h-1.83zM195.61 359.7h1.83v9.94h-1.83zM202.76 359.7h1.83v9.94h-1.83zM209.91 369.6h1.83v9.94h-1.83zM40.1 379.5h1.83v9.94h-1.83zM45.46 379.5h1.83v9.94h-1.83zM52.61 379.5h1.83v9.94h-1.83zM65.12 379.5h1.83v9.94h-1.83zM68.7 379.5h1.83v9.94h-1.83zM79.42 379.5h5.4v9.94h-5.4zM93.72 379.5h1.83v9.94h-1.83zM97.3 379.5h1.83v9.94h-1.83zM108.03 379.5h1.83v9.94h-1.83zM116.96 379.5h1.83v9.94h-1.83zM127.69 379.5h1.83v9.94h-1.83zM134.84 379.5h3.61v9.94h-3.61zM149.14 379.5h1.83v9.94h-1.83zM152.71 379.5h1.83v9.94h-1.83zM156.29 379.5h3.61v9.94h-3.61zM168.8 379.5h1.83v9.94h-1.83zM199.19 379.5h1.83v9.94h-1.83zM208.12 379.5h1.83v9.94h-1.83zM50.83 389.4h1.83v9.94h-1.83zM54.4 389.4h1.83v9.94h-1.83zM68.7 389.4h1.83v9.94h-1.83zM81.21 389.4h3.61v9.94h-3.61zM88.36 389.4h1.83v9.94h-1.83zM95.51 389.4h1.83v9.94h-1.83zM102.66 389.4h3.61v9.94h-3.61zM113.39 389.4h1.83v9.94h-1.83zM118.75 389.4h1.83v9.94h-1.83zM122.32 389.4h1.83v9.94h-1.83zM143.78 389.4h1.83v9.94h-1.83zM150.92 389.4h1.83v9.94h-1.83zM154.5 389.4h1.83v9.94h-1.83zM165.22 389.4h1.83v9.94h-1.83zM175.95 389.4h1.83v9.94h-1.83zM179.52 389.4h1.83v9.94h-1.83zM183.1 389.4h1.83v9.94h-1.83zM192.04 389.4h1.83v9.94h-1.83zM197.4 389.4h1.83v9.94h-1.83zM204.55 389.4h3.61v9.94h-3.61z"/>
<path fill="#ffff46" d="M45.46 419.1h1.83v9.94h-1.83zM68.7 419.1h5.4v9.94h-5.4zM75.85 419.1h1.83v9.94h-1.83zM86.57 419.1h1.83v9.94h-1.83zM91.94 419.1h1.83v9.94h-1.83zM99.09 419.1h3.61v9.94h-3.61zM106.24 419.1h1.83v9.94h-1.83zM115.17 419.1h1.83v9.94h-1.83zM127.69 419.1h1.83v9.94h-1.83zM138.41 419.1h1.83v9.94h-1.83zM143.78 419.1h3.61v9.94h-3.61zM149.14 419.1h1.83v9.94h-1.83zM154.5 419.1h1.83v9.94h-1.83zM158.07 419.1h1.83v9.94h-1.83zM163.44 419.1h1.83v9.94h-1.83zM170.59 419.1h1.83v9.94h-1.83zM184.89 419.1h1.83v9.94h-1.83zM190.25 419.1h1.83v9.94h-1.83zM208.12 419.1h1.83v9.94h-1.83zM68.7 429h1.83v9.94h-1.83zM113.39 448.8h1.83v9.94h-1.83z"/>
<path fill="#ececff" d="M199.19 429h1.83v9.94h-1.83z"/>
</g></g>
<rect x="30.2" y="330" width="7.9" height="9.9" fill="#d3d3d3"/>
<rect x="30.2" y="339.9" width="7.9" height="69.3" fill="#000"/>
<rect x="30.65" y="409.65" width="7" height="9" fill="#d3d3d3" stroke="#111" stroke-width="0.9"/>
<rect x="30.2" y="419.1" width="7.9" height="19.8" fill="#d3d3d3"/>
<rect x="30.2" y="448.8" width="7.9" height="9.9" fill="#d3d3d3"/>
<line x1="7.7" y1="356.2" x2="7.7" y2="380.9" stroke="#000" stroke-width="1.6"/>
<path d="M3.4 379.9L12 379.9L7.7 395.3z" fill="#000"/>
<text x="24.8" y="376" font-size="8.6" text-anchor="middle" transform="rotate(-90 24.8 376)">Promoter</text>
<text x="24.8" y="426" font-size="8.6" text-anchor="middle" transform="rotate(-90 24.8 426)">Shore</text>
<line x1="211.2" y1="415.5" x2="225.2" y2="400.9" stroke="#000" stroke-width="0.8"/>
<text x="226" y="378.5" font-size="7.2" text-anchor="middle" transform="rotate(-90 226 378.5)">cg00618323</text>
<text x="280.5" y="12.6" font-size="17" font-weight="bold">C)</text>
<line x1="316.1" y1="201" x2="320.5" y2="201" stroke="#000" stroke-width="0.8"/>
<text x="314.1" y="203.5" font-size="8.7" text-anchor="end">0</text>
<line x1="316.1" y1="174.44" x2="320.5" y2="174.44" stroke="#000" stroke-width="0.8"/>
<text x="314.1" y="176.94" font-size="8.7" text-anchor="end">10</text>
<line x1="316.1" y1="147.88" x2="320.5" y2="147.88" stroke="#000" stroke-width="0.8"/>
<text x="314.1" y="150.38" font-size="8.7" text-anchor="end">20</text>
<line x1="316.1" y1="121.32" x2="320.5" y2="121.32" stroke="#000" stroke-width="0.8"/>
<text x="314.1" y="123.82" font-size="8.7" text-anchor="end">30</text>
<line x1="316.1" y1="94.76" x2="320.5" y2="94.76" stroke="#000" stroke-width="0.8"/>
<text x="314.1" y="97.26" font-size="8.7" text-anchor="end">40</text>
<line x1="316.1" y1="68.2" x2="320.5" y2="68.2" stroke="#000" stroke-width="0.8"/>
<text x="314.1" y="70.7" font-size="8.7" text-anchor="end">50</text>
<line x1="342.9" y1="141.51" x2="342.9" y2="81.48" stroke="#000" stroke-width="0.8" stroke-dasharray="1.2 0.8"/>
<line x1="342.9" y1="201" x2="342.9" y2="201" stroke="#000" stroke-width="0.8" stroke-dasharray="1.2 0.8"/>
<line x1="334.8" y1="81.48" x2="351" y2="81.48" stroke="#000" stroke-width="0.9"/>
<line x1="334.8" y1="201" x2="351" y2="201" stroke="#000" stroke-width="0.9"/>
<rect x="327.3" y="141.51" width="31.2" height="59.49" fill="#ffa500" stroke="#000" stroke-width="0.8"/>
<line x1="327.3" y1="186.13" x2="358.5" y2="186.13" stroke="#000" stroke-width="1.0"/>
<circle cx="342.9" cy="53.06" r="0.9" fill="#000"/>
<line x1="381.5" y1="196.88" x2="381.5" y2="191.7" stroke="#000" stroke-width="0.8" stroke-dasharray="1.2 0.8"/>
<line x1="381.5" y1="200.79" x2="381.5" y2="201" stroke="#000" stroke-width="0.8" stroke-dasharray="1.2 0.8"/>
<line x1="374" y1="191.7" x2="389" y2="191.7" stroke="#000" stroke-width="0.9"/>
<line x1="374" y1="201" x2="389" y2="201" stroke="#000" stroke-width="0.9"/>
<rect x="365.5" y="196.88" width="32" height="3.9" fill="#d3d3d3" stroke="#000" stroke-width="0.8"/>
<line x1="365.5" y1="199.8" x2="397.5" y2="199.8" stroke="#000" stroke-width="1.0"/>
<circle cx="381.5" cy="190.91" r="0.9" fill="#000"/>
<circle cx="381.5" cy="189.84" r="0.9" fill="#000"/>
<circle cx="381.5" cy="188.78" r="0.9" fill="#000"/>
<circle cx="381.5" cy="187.72" r="0.9" fill="#000"/>
<circle cx="381.5" cy="186.39" r="0.9" fill="#000"/>
<circle cx="381.5" cy="185.06" r="0.9" fill="#000"/>
<circle cx="381.5" cy="183.74" r="0.9" fill="#000"/>
<circle cx="381.5" cy="182.41" r="0.9" fill="#000"/>
<circle cx="381.5" cy="181.35" r="0.9" fill="#000"/>
<circle cx="381.5" cy="180.02" r="0.9" fill="#000"/>
<circle cx="381.5" cy="178.96" r="0.9" fill="#000"/>
<circle cx="381.5" cy="177.63" r="0.9" fill="#000"/>
<circle cx="381.5" cy="176.56" r="0.9" fill="#000"/>
<circle cx="381.5" cy="175.24" r="0.9" fill="#000"/>
<circle cx="381.5" cy="173.91" r="0.9" fill="#000"/>
<circle cx="381.5" cy="172.32" r="0.9" fill="#000"/>
<circle cx="381.5" cy="170.99" r="0.9" fill="#000"/>
<circle cx="381.5" cy="169.66" r="0.9" fill="#000"/>
<circle cx="381.5" cy="168.33" r="0.9" fill="#000"/>
<circle cx="381.5" cy="166.74" r="0.9" fill="#000"/>
<circle cx="381.5" cy="165.14" r="0.9" fill="#000"/>
<circle cx="381.5" cy="163.28" r="0.9" fill="#000"/>
<circle cx="381.5" cy="161.69" r="0.9" fill="#000"/>
<circle cx="381.5" cy="150" r="0.9" fill="#000"/>
<circle cx="381.5" cy="148.41" r="0.9" fill="#000"/>
<circle cx="381.5" cy="147.08" r="0.9" fill="#000"/>
<circle cx="381.5" cy="141.24" r="0.9" fill="#000"/>
<rect x="320.5" y="46.4" width="83.4" height="160.8" fill="none" stroke="#000" stroke-width="0.9"/>
<line x1="342.9" y1="46.4" x2="342.9" y2="42.8" stroke="#000" stroke-width="0.8"/>
<line x1="342.9" y1="207.2" x2="342.9" y2="210.8" stroke="#000" stroke-width="0.8"/>
<text x="342.9" y="39.4" font-size="8.6" text-anchor="middle">28</text>
<line x1="381.5" y1="46.4" x2="381.5" y2="42.8" stroke="#000" stroke-width="0.8"/>
<line x1="381.5" y1="207.2" x2="381.5" y2="210.8" stroke="#000" stroke-width="0.8"/>
<text x="381.5" y="39.4" font-size="8.6" text-anchor="middle">471</text>
<text x="342.9" y="219.9" font-size="8.6" text-anchor="middle">Hypo</text>
<text x="381.5" y="219.9" font-size="8.6" text-anchor="middle">Hyper</text>
<text x="364.1" y="26.3" font-size="8.6" text-anchor="middle">All ERpHER2n tumors</text>
<text x="360.7" y="232.7" font-size="8.6" text-anchor="middle">shore CpG clusters</text>
<text x="296.6" y="136" font-size="8.6" text-anchor="middle" transform="rotate(-90 296.6 136)">FGFR4 FPKM</text>
<text x="355.9" y="64.2" font-size="8.6">Wilcoxon’s</text>
<text x="355.9" y="74.5" font-size="8.6">p=0.0008</text>
<line x1="315.3" y1="438.6" x2="317.3" y2="438.6" stroke="#000" stroke-width="0.8"/>
<text x="310.8" y="441.1" font-size="8.3" text-anchor="end">0</text>
<line x1="315.3" y1="411.78" x2="317.3" y2="411.78" stroke="#000" stroke-width="0.8"/>
<text x="310.8" y="414.28" font-size="8.3" text-anchor="end">10</text>
<line x1="315.3" y1="384.96" x2="317.3" y2="384.96" stroke="#000" stroke-width="0.8"/>
<text x="310.8" y="387.46" font-size="8.3" text-anchor="end">20</text>
<line x1="315.3" y1="358.14" x2="317.3" y2="358.14" stroke="#000" stroke-width="0.8"/>
<text x="310.8" y="360.64" font-size="8.3" text-anchor="end">30</text>
<line x1="315.3" y1="331.32" x2="317.3" y2="331.32" stroke="#000" stroke-width="0.8"/>
<text x="310.8" y="333.82" font-size="8.3" text-anchor="end">40</text>
<line x1="315.3" y1="304.5" x2="317.3" y2="304.5" stroke="#000" stroke-width="0.8"/>
<text x="310.8" y="307" font-size="8.3" text-anchor="end">50</text>
<line x1="340.9" y1="364.85" x2="340.9" y2="288.94" stroke="#000" stroke-width="0.8" stroke-dasharray="1.2 0.8"/>
<line x1="340.9" y1="421.97" x2="340.9" y2="428.14" stroke="#000" stroke-width="0.8" stroke-dasharray="1.2 0.8"/>
<line x1="334.3" y1="288.94" x2="347.5" y2="288.94" stroke="#000" stroke-width="0.9"/>
<line x1="334.3" y1="428.14" x2="347.5" y2="428.14" stroke="#000" stroke-width="0.9"/>
<rect x="324.6" y="364.85" width="32.6" height="57.13" fill="#ffa500" stroke="#000" stroke-width="0.8"/>
<line x1="324.6" y1="389.79" x2="357.2" y2="389.79" stroke="#000" stroke-width="1.0"/>
<circle cx="340.9" cy="288.41" r="0.9" fill="#000"/>
<circle cx="340.9" cy="363.5" r="0.9" fill="#000"/>
<circle cx="340.9" cy="367.53" r="0.9" fill="#000"/>
<circle cx="340.9" cy="389.79" r="0.9" fill="#000"/>
<circle cx="340.9" cy="417.14" r="0.9" fill="#000"/>
<circle cx="340.9" cy="427.34" r="0.9" fill="#000"/>
<circle cx="342.4" cy="425.73" r="0.9" fill="#000"/>
<line x1="381.6" y1="419.83" x2="381.6" y2="400.25" stroke="#000" stroke-width="0.8" stroke-dasharray="1.2 0.8"/>
<line x1="381.6" y1="433.77" x2="381.6" y2="436.99" stroke="#000" stroke-width="0.8" stroke-dasharray="1.2 0.8"/>
<line x1="373.6" y1="400.25" x2="389.6" y2="400.25" stroke="#000" stroke-width="0.9"/>
<line x1="373.6" y1="436.99" x2="389.6" y2="436.99" stroke="#000" stroke-width="0.9"/>
<rect x="365.4" y="419.83" width="32.4" height="13.95" fill="#d3d3d3" stroke="#000" stroke-width="0.8"/>
<line x1="365.4" y1="428.14" x2="397.8" y2="428.14" stroke="#000" stroke-width="1.0"/>
<circle cx="380.6" cy="405.08" r="0.9" fill="#000"/>
<circle cx="384.6" cy="409.1" r="0.9" fill="#000"/>
<circle cx="379.6" cy="415.8" r="0.9" fill="#000"/>
<circle cx="382.6" cy="418.49" r="0.9" fill="#000"/>
<circle cx="378.6" cy="422.51" r="0.9" fill="#000"/>
<circle cx="383.6" cy="425.19" r="0.9" fill="#000"/>
<circle cx="381.6" cy="427.07" r="0.9" fill="#000"/>
<circle cx="379.6" cy="429.21" r="0.9" fill="#000"/>
<circle cx="383.6" cy="430.55" r="0.9" fill="#000"/>
<circle cx="378.6" cy="432.7" r="0.9" fill="#000"/>
<circle cx="382.6" cy="433.77" r="0.9" fill="#000"/>
<circle cx="384.6" cy="435.38" r="0.9" fill="#000"/>
<circle cx="380.6" cy="435.92" r="0.9" fill="#000"/>
<rect x="317.3" y="282.3" width="88" height="160.8" fill="none" stroke="#000" stroke-width="0.9"/>
<line x1="340.9" y1="282.3" x2="340.9" y2="278.7" stroke="#000" stroke-width="0.8"/>
<line x1="340.9" y1="443.1" x2="340.9" y2="446.7" stroke="#000" stroke-width="0.8"/>
<text x="340.9" y="275.2" font-size="8.6" text-anchor="middle">7</text>
<line x1="381.6" y1="282.3" x2="381.6" y2="278.7" stroke="#000" stroke-width="0.8"/>
<line x1="381.6" y1="443.1" x2="381.6" y2="446.7" stroke="#000" stroke-width="0.8"/>
<text x="381.6" y="275.2" font-size="8.6" text-anchor="middle">24</text>
<text x="340.9" y="455" font-size="8.6" text-anchor="middle">Hypo</text>
<text x="381.6" y="455" font-size="8.6" text-anchor="middle">Hyper</text>
<text x="361.5" y="263.4" font-size="8.6" text-anchor="middle">All HER2E ERpHER2n tumors</text>
<text x="360.3" y="470.2" font-size="8.6" text-anchor="middle">shore CpG clusters</text>
<text x="293.8" y="373.5" font-size="8.6" text-anchor="middle" transform="rotate(-90 293.8 373.5)">FGFR4 FPKM</text>
<text x="354" y="306.5" font-size="8.6">Wilcoxon’s</text>
<text x="354" y="317" font-size="8.6">p=0.004</text>
<text x="467.8" y="12.7" font-size="17" font-weight="bold">D)</text>
<text x="532.3" y="50.8" font-size="11.5">All ERpHER2n tumors</text>
<text x="532.3" y="65.1" font-size="11.5">Chi-square p=7.5e-07</text>
<line x1="513.5" y1="283.5" x2="513.5" y2="71.5" stroke="#000" stroke-width="0.8"/>
<line x1="509.1" y1="283.5" x2="513.5" y2="283.5" stroke="#000" stroke-width="0.8"/>
<text x="506.2" y="286.8" font-size="9.6" text-anchor="end">0.0</text>
<line x1="509.1" y1="241.1" x2="513.5" y2="241.1" stroke="#000" stroke-width="0.8"/>
<text x="506.2" y="244.4" font-size="9.6" text-anchor="end">0.2</text>
<line x1="509.1" y1="198.7" x2="513.5" y2="198.7" stroke="#000" stroke-width="0.8"/>
<text x="506.2" y="202" font-size="9.6" text-anchor="end">0.4</text>
<line x1="509.1" y1="156.3" x2="513.5" y2="156.3" stroke="#000" stroke-width="0.8"/>
<text x="506.2" y="159.6" font-size="9.6" text-anchor="end">0.6</text>
<line x1="509.1" y1="113.9" x2="513.5" y2="113.9" stroke="#000" stroke-width="0.8"/>
<text x="506.2" y="117.2" font-size="9.6" text-anchor="end">0.8</text>
<line x1="509.1" y1="71.5" x2="513.5" y2="71.5" stroke="#000" stroke-width="0.8"/>
<text x="506.2" y="74.8" font-size="9.6" text-anchor="end">1.0</text>
<rect x="522.3" y="230.5" width="70.3" height="53" fill="#a020f0" stroke="#000" stroke-width="0.8"/>
<rect x="522.3" y="208.03" width="70.3" height="22.47" fill="#0000ff" stroke="#000" stroke-width="0.8"/>
<rect x="522.3" y="94.82" width="70.3" height="113.21" fill="#add8e6" stroke="#000" stroke-width="0.8"/>
<rect x="522.3" y="71.5" width="70.3" height="23.32" fill="#00ff00" stroke="#000" stroke-width="0.8"/>
<rect x="606.4" y="276.72" width="70.4" height="6.78" fill="#ff0000" stroke="#000" stroke-width="0.8"/>
<rect x="606.4" y="266.12" width="70.4" height="10.6" fill="#a020f0" stroke="#000" stroke-width="0.8"/>
<rect x="606.4" y="197" width="70.4" height="69.11" fill="#0000ff" stroke="#000" stroke-width="0.8"/>
<rect x="606.4" y="74.68" width="70.4" height="122.32" fill="#add8e6" stroke="#000" stroke-width="0.8"/>
<rect x="606.4" y="71.5" width="70.4" height="3.18" fill="#00ff00" stroke="#000" stroke-width="0.8"/>
<text x="487" y="176.3" font-size="10" text-anchor="middle" transform="rotate(-90 487 176.3)">proportion</text>
<text x="557.4" y="295.4" font-size="8.7" text-anchor="middle">Hypo</text>
<text x="643.1" y="295.4" font-size="8.7" text-anchor="middle">Hyper</text>
<text x="597.7" y="310.9" font-size="8.7" text-anchor="middle">shore CpG clusters</text>
<text x="522.5" y="344.1" font-size="11.3">PAM50</text>
<rect x="522.4" y="353.1" width="12.2" height="10.4" fill="#00ff00" stroke="#333" stroke-width="0.9"/>
<text x="540.5" y="362.9" font-size="11.3">Normal</text>
<rect x="522.4" y="373.8" width="12.2" height="10.4" fill="#d3d3d3" stroke="#333" stroke-width="0.9"/>
<text x="540.5" y="383.6" font-size="11.3">LumB</text>
<rect x="522.4" y="394.5" width="12.2" height="10.4" fill="#0000ff" stroke="#333" stroke-width="0.9"/>
<text x="540.5" y="404.3" font-size="11.3">LumA</text>
<rect x="522.4" y="415.2" width="12.2" height="10.4" fill="#a020f0" stroke="#333" stroke-width="0.9"/>
<text x="540.5" y="425" font-size="11.3">HER2E</text>
<rect x="522.4" y="435.9" width="12.2" height="10.4" fill="#ff0000" stroke="#333" stroke-width="0.9"/>
<text x="540.5" y="445.7" font-size="11.3">Basal</text>
<text x="4" y="515.9" font-size="17" font-weight="bold">E)</text>
<rect x="86.53" y="664.34" width="2.21" height="2.06" fill="#c0c0c0" stroke="#000" stroke-width="0.7"/>
<rect x="90.95" y="660.22" width="2.21" height="6.18" fill="#c0c0c0" stroke="#000" stroke-width="0.7"/>
<rect x="93.16" y="660.22" width="2.21" height="6.18" fill="#c0c0c0" stroke="#000" stroke-width="0.7"/>
<rect x="95.36" y="658.16" width="2.21" height="8.24" fill="#c0c0c0" stroke="#000" stroke-width="0.7"/>
<rect x="97.57" y="662.28" width="2.21" height="4.12" fill="#c0c0c0" stroke="#000" stroke-width="0.7"/>
<rect x="99.78" y="664.34" width="2.21" height="2.06" fill="#c0c0c0" stroke="#000" stroke-width="0.7"/>
<rect x="101.99" y="660.22" width="2.21" height="6.18" fill="#c0c0c0" stroke="#000" stroke-width="0.7"/>
<rect x="104.2" y="664.34" width="2.21" height="2.06" fill="#c0c0c0" stroke="#000" stroke-width="0.7"/>
<rect x="106.4" y="656.1" width="2.21" height="10.3" fill="#c0c0c0" stroke="#000" stroke-width="0.7"/>
<rect x="108.61" y="664.34" width="2.21" height="2.06" fill="#c0c0c0" stroke="#000" stroke-width="0.7"/>
<rect x="110.82" y="654.04" width="2.21" height="12.36" fill="#c0c0c0" stroke="#000" stroke-width="0.7"/>
<rect x="113.03" y="662.28" width="2.21" height="4.12" fill="#c0c0c0" stroke="#000" stroke-width="0.7"/>
<rect x="115.24" y="662.28" width="2.21" height="4.12" fill="#c0c0c0" stroke="#000" stroke-width="0.7"/>
<rect x="119.65" y="662.28" width="2.21" height="4.12" fill="#c0c0c0" stroke="#000" stroke-width="0.7"/>
<rect x="124.07" y="662.28" width="2.21" height="4.12" fill="#c0c0c0" stroke="#000" stroke-width="0.7"/>
<rect x="126.28" y="651.98" width="2.21" height="14.42" fill="#c0c0c0" stroke="#000" stroke-width="0.7"/>
<rect x="128.48" y="651.98" width="2.21" height="14.42" fill="#c0c0c0" stroke="#000" stroke-width="0.7"/>
<rect x="130.69" y="643.74" width="2.21" height="22.66" fill="#c0c0c0" stroke="#000" stroke-width="0.7"/>
<rect x="132.9" y="633.44" width="2.21" height="32.96" fill="#c0c0c0" stroke="#000" stroke-width="0.7"/>
<rect x="135.11" y="633.44" width="2.21" height="32.96" fill="#c0c0c0" stroke="#000" stroke-width="0.7"/>
<rect x="137.32" y="639.62" width="2.21" height="26.78" fill="#c0c0c0" stroke="#000" stroke-width="0.7"/>
<rect x="139.52" y="616.96" width="2.21" height="49.44" fill="#c0c0c0" stroke="#000" stroke-width="0.7"/>
<rect x="141.73" y="614.9" width="2.21" height="51.5" fill="#c0c0c0" stroke="#000" stroke-width="0.7"/>
<rect x="143.94" y="608.72" width="2.21" height="57.68" fill="#c0c0c0" stroke="#000" stroke-width="0.7"/>
<rect x="146.15" y="590.18" width="2.21" height="76.22" fill="#c0c0c0" stroke="#000" stroke-width="0.7"/>
<rect x="148.36" y="586.06" width="2.21" height="80.34" fill="#c0c0c0" stroke="#000" stroke-width="0.7"/>
<rect x="150.56" y="594.3" width="2.21" height="72.1" fill="#c0c0c0" stroke="#000" stroke-width="0.7"/>
<rect x="152.77" y="604.6" width="2.21" height="61.8" fill="#c0c0c0" stroke="#000" stroke-width="0.7"/>
<rect x="154.98" y="619.02" width="2.21" height="47.38" fill="#c0c0c0" stroke="#000" stroke-width="0.7"/>
<rect x="157.19" y="641.68" width="2.21" height="24.72" fill="#c0c0c0" stroke="#000" stroke-width="0.7"/>
<rect x="159.4" y="656.1" width="2.21" height="10.3" fill="#c0c0c0" stroke="#000" stroke-width="0.7"/>
<rect x="161.6" y="651.98" width="2.21" height="14.42" fill="#c0c0c0" stroke="#000" stroke-width="0.7"/>
<rect x="163.81" y="662.28" width="2.21" height="4.12" fill="#c0c0c0" stroke="#000" stroke-width="0.7"/>
<rect x="166.02" y="656.1" width="2.21" height="10.3" fill="#c0c0c0" stroke="#000" stroke-width="0.7"/>
<rect x="168.23" y="602.54" width="2.21" height="63.86" fill="#c0c0c0" stroke="#000" stroke-width="0.7"/>
<rect x="170.44" y="567.52" width="2.21" height="98.88" fill="#c0c0c0" stroke="#000" stroke-width="0.7"/>
<rect x="172.64" y="588.12" width="2.21" height="78.28" fill="#c0c0c0" stroke="#000" stroke-width="0.7"/>
<rect x="174.85" y="569.58" width="2.21" height="96.82" fill="#c0c0c0" stroke="#000" stroke-width="0.7"/>
<rect x="177.06" y="577.82" width="2.21" height="88.58" fill="#c0c0c0" stroke="#000" stroke-width="0.7"/>
<rect x="179.27" y="612.84" width="2.21" height="53.56" fill="#c0c0c0" stroke="#000" stroke-width="0.7"/>
<rect x="181.48" y="643.74" width="2.21" height="22.66" fill="#c0c0c0" stroke="#000" stroke-width="0.7"/>
<rect x="183.68" y="631.38" width="2.21" height="35.02" fill="#c0c0c0" stroke="#000" stroke-width="0.7"/>
<rect x="185.89" y="658.16" width="2.21" height="8.24" fill="#c0c0c0" stroke="#000" stroke-width="0.7"/>
<line x1="73.9" y1="666.4" x2="73.9" y2="584" stroke="#000" stroke-width="0.8"/>
<line x1="70" y1="666.4" x2="73.9" y2="666.4" stroke="#000" stroke-width="0.8"/>
<text x="68.8" y="669.5" font-size="8.6" text-anchor="end">0</text>
<line x1="70" y1="645.8" x2="73.9" y2="645.8" stroke="#000" stroke-width="0.8"/>
<text x="68.8" y="648.9" font-size="8.6" text-anchor="end">10</text>
<line x1="70" y1="625.2" x2="73.9" y2="625.2" stroke="#000" stroke-width="0.8"/>
<text x="68.8" y="628.3" font-size="8.6" text-anchor="end">20</text>
<line x1="70" y1="604.6" x2="73.9" y2="604.6" stroke="#000" stroke-width="0.8"/>
<text x="68.8" y="607.7" font-size="8.6" text-anchor="end">30</text>
<line x1="70" y1="584" x2="73.9" y2="584" stroke="#000" stroke-width="0.8"/>
<text x="68.8" y="587.1" font-size="8.6" text-anchor="end">40</text>
<line x1="77.7" y1="669.8" x2="188.1" y2="669.8" stroke="#000" stroke-width="0.8"/>
<line x1="77.7" y1="669.8" x2="77.7" y2="673.8" stroke="#000" stroke-width="0.8"/>
<text x="77.7" y="682.2" font-size="8.6" text-anchor="middle">0.0</text>
<line x1="99.78" y1="669.8" x2="99.78" y2="673.8" stroke="#000" stroke-width="0.8"/>
<text x="99.78" y="682.2" font-size="8.6" text-anchor="middle">0.2</text>
<line x1="121.86" y1="669.8" x2="121.86" y2="673.8" stroke="#000" stroke-width="0.8"/>
<text x="121.86" y="682.2" font-size="8.6" text-anchor="middle">0.4</text>
<line x1="143.94" y1="669.8" x2="143.94" y2="673.8" stroke="#000" stroke-width="0.8"/>
<text x="143.94" y="682.2" font-size="8.6" text-anchor="middle">0.6</text>
<line x1="166.02" y1="669.8" x2="166.02" y2="673.8" stroke="#000" stroke-width="0.8"/>
<text x="166.02" y="682.2" font-size="8.6" text-anchor="middle">0.8</text>
<line x1="188.1" y1="669.8" x2="188.1" y2="673.8" stroke="#000" stroke-width="0.8"/>
<text x="188.1" y="682.2" font-size="8.6" text-anchor="middle">1.0</text>
<text x="132.9" y="692.6" font-size="8.6" text-anchor="middle">adjusted beta</text>
<text x="52.4" y="624" font-size="8.6" text-anchor="middle" transform="rotate(-90 52.4 624)">Frequency</text>
<line x1="122.2" y1="563.4" x2="122.2" y2="669.8" stroke="#333" stroke-width="0.9" stroke-dasharray="1 1"/>
<text x="145.4" y="556.4" font-size="8.6" text-anchor="middle">cg00618323</text>
<text x="98" y="578.5" font-size="8.6" text-anchor="middle">Hypo</text>
<text x="142.8" y="578.5" font-size="8.6" text-anchor="middle">Hyper</text>
<text x="117.7" y="753.8" font-size="10" text-anchor="middle">TCGA BRCA, n=645</text>
<text x="28.9" y="766.3" font-size="8.6">Hypo</text>
<text x="124.4" y="765.7" font-size="8.6" text-anchor="middle">Hyper</text>
<rect x="41.2" y="768" width="171.1" height="7.2" fill="#d3d3d3"/>
<rect x="41.2" y="768" width="9.6" height="7.2" fill="#ffa500"/>
<defs><clipPath id="chb3"><rect x="41.2" y="778" width="171.1" height="171"/></clipPath><filter id="hb3" color-interpolation-filters="sRGB" x="-2%" y="0" width="104%" height="100%"><feGaussianBlur stdDeviation="0.6 0" color-interpolation-filters="sRGB"/></filter></defs>
<g clip-path="url(#chb3)"><g filter="url(#hb3)" shape-rendering="crispEdges">
<path fill="#5353ff" d="M41.2 778h1.04v11.44h-1.04zM43.2 778h1.04v11.44h-1.04zM45.2 778h1.04v11.44h-1.04zM73.22 778h1.04v11.44h-1.04zM79.22 778h1.04v11.44h-1.04zM89.23 778h1.04v11.44h-1.04zM91.23 778h1.04v11.44h-1.04zM93.23 778h1.04v11.44h-1.04zM116.24 778h1.04v11.44h-1.04zM136.26 778h1.04v11.44h-1.04zM147.26 778h1.04v11.44h-1.04zM149.26 778h1.04v11.44h-1.04zM165.27 778h1.04v11.44h-1.04zM183.28 778h1.04v11.44h-1.04zM197.29 778h1.04v11.44h-1.04zM199.29 778h2.04v11.44h-2.04zM204.3 778h1.04v11.44h-1.04zM206.3 778h1.04v11.44h-1.04zM45.2 812.2h1.04v11.44h-1.04zM101.24 812.2h1.04v11.44h-1.04zM128.25 812.2h1.04v11.44h-1.04zM136.26 812.2h1.04v11.44h-1.04zM162.27 812.2h1.04v11.44h-1.04zM184.28 812.2h1.04v11.44h-1.04zM191.29 812.2h1.04v11.44h-1.04zM103.24 857.8h1.04v11.44h-1.04zM196.29 857.8h1.04v11.44h-1.04zM46.2 880.6h1.04v11.44h-1.04zM50.21 880.6h1.04v11.44h-1.04zM53.21 880.6h1.04v11.44h-1.04zM55.21 880.6h3.04v11.44h-3.04zM64.21 880.6h1.04v11.44h-1.04zM68.22 880.6h2.04v11.44h-2.04zM81.22 880.6h1.04v11.44h-1.04zM83.22 880.6h1.04v11.44h-1.04zM85.23 880.6h1.04v11.44h-1.04zM87.23 880.6h1.04v11.44h-1.04zM93.23 880.6h2.04v11.44h-2.04zM96.23 880.6h2.04v11.44h-2.04zM107.24 880.6h2.04v11.44h-2.04zM111.24 880.6h2.04v11.44h-2.04zM117.24 880.6h1.04v11.44h-1.04zM119.25 880.6h1.04v11.44h-1.04zM124.25 880.6h1.04v11.44h-1.04zM129.25 880.6h1.04v11.44h-1.04zM136.26 880.6h1.04v11.44h-1.04zM139.26 880.6h1.04v11.44h-1.04zM156.27 880.6h1.04v11.44h-1.04zM158.27 880.6h1.04v11.44h-1.04zM165.27 880.6h1.04v11.44h-1.04zM167.27 880.6h1.04v11.44h-1.04zM169.27 880.6h1.04v11.44h-1.04zM175.28 880.6h1.04v11.44h-1.04zM178.28 880.6h1.04v11.44h-1.04zM181.28 880.6h1.04v11.44h-1.04zM189.29 880.6h1.04v11.44h-1.04zM197.29 880.6h2.04v11.44h-2.04zM206.3 880.6h2.04v11.44h-2.04zM209.3 880.6h1.04v11.44h-1.04z"/>
<path fill="#6060ff" d="M42.2 778h1.04v11.44h-1.04zM48.2 778h2.04v11.44h-2.04zM68.22 778h1.04v11.44h-1.04zM76.22 778h1.04v11.44h-1.04zM98.23 778h1.04v11.44h-1.04zM118.25 778h1.04v11.44h-1.04zM133.25 778h1.04v11.44h-1.04zM151.26 778h1.04v11.44h-1.04zM155.27 778h1.04v11.44h-1.04zM158.27 778h1.04v11.44h-1.04zM162.27 778h1.04v11.44h-1.04zM164.27 778h1.04v11.44h-1.04zM166.27 778h1.04v11.44h-1.04zM170.28 778h1.04v11.44h-1.04zM172.28 778h1.04v11.44h-1.04zM192.29 778h1.04v11.44h-1.04zM196.29 778h1.04v11.44h-1.04zM190.29 835h1.04v11.44h-1.04zM77.22 857.8h1.04v11.44h-1.04zM49.2 880.6h1.04v11.44h-1.04zM54.21 880.6h1.04v11.44h-1.04zM92.23 880.6h1.04v11.44h-1.04zM95.23 880.6h1.04v11.44h-1.04zM99.23 880.6h1.04v11.44h-1.04zM103.24 880.6h3.04v11.44h-3.04zM110.24 880.6h1.04v11.44h-1.04zM116.24 880.6h1.04v11.44h-1.04zM138.26 880.6h1.04v11.44h-1.04zM150.26 880.6h1.04v11.44h-1.04zM161.27 880.6h1.04v11.44h-1.04zM168.27 880.6h1.04v11.44h-1.04zM183.28 880.6h1.04v11.44h-1.04zM190.29 880.6h1.04v11.44h-1.04zM193.29 880.6h1.04v11.44h-1.04zM210.3 880.6h1.04v11.44h-1.04z"/>
<path fill="#b9b9ff" d="M44.2 778h1.04v11.44h-1.04zM104.24 778h1.04v11.44h-1.04zM140.26 778h1.04v11.44h-1.04zM144.26 778h1.04v11.44h-1.04zM176.28 778h1.04v11.44h-1.04zM187.29 778h1.04v11.44h-1.04zM190.29 778h1.04v11.44h-1.04zM182.28 880.6h1.04v11.44h-1.04zM47.2 892h1.04v11.44h-1.04z"/>
<path fill="#9393ff" d="M46.2 778h1.04v11.44h-1.04zM50.21 778h1.04v11.44h-1.04zM52.21 778h1.04v11.44h-1.04zM59.21 778h1.04v11.44h-1.04zM62.21 778h1.04v11.44h-1.04zM67.22 778h1.04v11.44h-1.04zM87.23 778h1.04v11.44h-1.04zM90.23 778h1.04v11.44h-1.04zM105.24 778h1.04v11.44h-1.04zM160.27 778h1.04v11.44h-1.04zM163.27 778h1.04v11.44h-1.04zM185.28 778h1.04v11.44h-1.04zM191.29 778h1.04v11.44h-1.04zM193.29 778h1.04v11.44h-1.04zM208.3 778h1.04v11.44h-1.04zM77.22 812.2h1.04v11.44h-1.04zM134.25 812.2h1.04v11.44h-1.04zM61.21 835h1.04v11.44h-1.04zM164.27 835h1.04v11.44h-1.04zM171.28 846.4h1.04v11.44h-1.04zM118.25 880.6h1.04v11.44h-1.04zM194.29 880.6h1.04v11.44h-1.04zM203.29 880.6h1.04v11.44h-1.04z"/>
<path fill="#6c6cff" d="M47.2 778h1.04v11.44h-1.04zM60.21 778h1.04v11.44h-1.04zM74.22 778h2.04v11.44h-2.04zM78.22 778h1.04v11.44h-1.04zM86.23 778h1.04v11.44h-1.04zM101.24 778h1.04v11.44h-1.04zM109.24 778h2.04v11.44h-2.04zM120.25 778h3.04v11.44h-3.04zM134.25 778h1.04v11.44h-1.04zM138.26 778h1.04v11.44h-1.04zM150.26 778h1.04v11.44h-1.04zM152.26 778h2.04v11.44h-2.04zM159.27 778h1.04v11.44h-1.04zM169.27 778h1.04v11.44h-1.04zM175.28 778h1.04v11.44h-1.04zM180.28 778h1.04v11.44h-1.04zM184.28 778h1.04v11.44h-1.04zM188.29 778h2.04v11.44h-2.04zM198.29 778h1.04v11.44h-1.04zM207.3 778h1.04v11.44h-1.04zM41.2 812.2h1.04v11.44h-1.04zM57.21 812.2h1.04v11.44h-1.04zM41.2 835h1.04v11.44h-1.04zM189.29 857.8h1.04v11.44h-1.04zM43.2 880.6h1.04v11.44h-1.04zM60.21 880.6h1.04v11.44h-1.04zM77.22 880.6h1.04v11.44h-1.04zM82.22 880.6h1.04v11.44h-1.04zM100.23 880.6h1.04v11.44h-1.04zM145.26 880.6h1.04v11.44h-1.04zM204.3 880.6h1.04v11.44h-1.04zM41.2 892h1.04v11.44h-1.04z"/>
<path fill="#7979ff" d="M51.21 778h1.04v11.44h-1.04zM54.21 778h3.04v11.44h-3.04zM64.21 778h1.04v11.44h-1.04zM66.21 778h1.04v11.44h-1.04zM71.22 778h1.04v11.44h-1.04zM77.22 778h1.04v11.44h-1.04zM80.22 778h1.04v11.44h-1.04zM84.23 778h2.04v11.44h-2.04zM88.23 778h1.04v11.44h-1.04zM95.23 778h2.04v11.44h-2.04zM103.24 778h1.04v11.44h-1.04zM108.24 778h1.04v11.44h-1.04zM111.24 778h1.04v11.44h-1.04zM115.24 778h1.04v11.44h-1.04zM128.25 778h1.04v11.44h-1.04zM157.27 778h1.04v11.44h-1.04zM174.28 778h1.04v11.44h-1.04zM203.29 778h1.04v11.44h-1.04zM209.3 778h1.04v11.44h-1.04zM211.3 778h1.04v11.44h-1.04zM107.24 823.6h1.04v11.44h-1.04zM164.27 823.6h1.04v11.44h-1.04zM211.3 846.4h1.04v11.44h-1.04zM42.2 869.2h1.04v11.44h-1.04zM72.22 869.2h1.04v11.44h-1.04zM45.2 880.6h1.04v11.44h-1.04zM42.2 892h1.04v11.44h-1.04z"/>
<path fill="#4646ff" d="M53.21 778h1.04v11.44h-1.04zM195.29 778h1.04v11.44h-1.04zM201.29 778h2.04v11.44h-2.04zM46.2 812.2h1.04v11.44h-1.04zM49.2 812.2h1.04v11.44h-1.04zM52.21 812.2h1.04v11.44h-1.04zM54.21 812.2h2.04v11.44h-2.04zM58.21 812.2h1.04v11.44h-1.04zM60.21 812.2h3.04v11.44h-3.04zM69.22 812.2h1.04v11.44h-1.04zM75.22 812.2h1.04v11.44h-1.04zM80.22 812.2h1.04v11.44h-1.04zM92.23 812.2h1.04v11.44h-1.04zM112.24 812.2h1.04v11.44h-1.04zM116.24 812.2h1.04v11.44h-1.04zM132.25 812.2h1.04v11.44h-1.04zM138.26 812.2h1.04v11.44h-1.04zM142.26 812.2h1.04v11.44h-1.04zM152.26 812.2h1.04v11.44h-1.04zM171.28 812.2h1.04v11.44h-1.04zM188.29 812.2h1.04v11.44h-1.04zM192.29 812.2h2.04v11.44h-2.04zM202.29 812.2h1.04v11.44h-1.04zM204.3 812.2h1.04v11.44h-1.04zM206.3 812.2h1.04v11.44h-1.04zM55.21 857.8h1.04v11.44h-1.04zM101.24 857.8h1.04v11.44h-1.04zM105.24 857.8h1.04v11.44h-1.04zM133.25 857.8h1.04v11.44h-1.04zM140.26 857.8h1.04v11.44h-1.04zM144.26 857.8h1.04v11.44h-1.04zM147.26 857.8h1.04v11.44h-1.04zM156.27 857.8h1.04v11.44h-1.04zM158.27 857.8h1.04v11.44h-1.04zM161.27 857.8h1.04v11.44h-1.04zM169.27 857.8h1.04v11.44h-1.04zM173.28 857.8h1.04v11.44h-1.04zM175.28 857.8h1.04v11.44h-1.04zM182.28 857.8h1.04v11.44h-1.04zM191.29 857.8h1.04v11.44h-1.04zM206.3 857.8h1.04v11.44h-1.04zM41.2 880.6h1.04v11.44h-1.04zM44.2 880.6h1.04v11.44h-1.04zM52.21 880.6h1.04v11.44h-1.04zM63.21 880.6h1.04v11.44h-1.04zM71.22 880.6h2.04v11.44h-2.04zM76.22 880.6h1.04v11.44h-1.04zM78.22 880.6h2.04v11.44h-2.04zM84.23 880.6h1.04v11.44h-1.04zM89.23 880.6h1.04v11.44h-1.04zM98.23 880.6h1.04v11.44h-1.04zM106.24 880.6h1.04v11.44h-1.04zM113.24 880.6h1.04v11.44h-1.04zM115.24 880.6h1.04v11.44h-1.04zM121.25 880.6h1.04v11.44h-1.04zM123.25 880.6h1.04v11.44h-1.04zM125.25 880.6h1.04v11.44h-1.04zM144.26 880.6h1.04v11.44h-1.04zM146.26 880.6h3.04v11.44h-3.04zM152.26 880.6h2.04v11.44h-2.04zM159.27 880.6h1.04v11.44h-1.04zM163.27 880.6h1.04v11.44h-1.04zM166.27 880.6h1.04v11.44h-1.04zM173.28 880.6h2.04v11.44h-2.04zM191.29 880.6h1.04v11.44h-1.04zM195.29 880.6h1.04v11.44h-1.04zM200.29 880.6h3.04v11.44h-3.04zM208.3 880.6h1.04v11.44h-1.04z"/>
<path fill="#c6c6ff" d="M57.21 778h1.04v11.44h-1.04zM99.23 778h1.04v11.44h-1.04zM131.25 778h1.04v11.44h-1.04zM168.27 778h1.04v11.44h-1.04zM186.28 778h1.04v11.44h-1.04zM188.29 880.6h1.04v11.44h-1.04zM46.2 892h1.04v11.44h-1.04z"/>
<path fill="#8686ff" d="M58.21 778h1.04v11.44h-1.04zM69.22 778h2.04v11.44h-2.04zM83.22 778h1.04v11.44h-1.04zM92.23 778h1.04v11.44h-1.04zM94.23 778h1.04v11.44h-1.04zM100.23 778h1.04v11.44h-1.04zM119.25 778h1.04v11.44h-1.04zM132.25 778h1.04v11.44h-1.04zM143.26 778h1.04v11.44h-1.04zM148.26 778h1.04v11.44h-1.04zM154.27 778h1.04v11.44h-1.04zM181.28 778h1.04v11.44h-1.04zM59.21 812.2h1.04v11.44h-1.04zM173.28 846.4h1.04v11.44h-1.04zM170.28 857.8h1.04v11.44h-1.04zM180.28 857.8h1.04v11.44h-1.04zM141.26 869.2h1.04v11.44h-1.04zM59.21 880.6h1.04v11.44h-1.04zM170.28 880.6h1.04v11.44h-1.04zM177.28 880.6h1.04v11.44h-1.04zM43.2 892h1.04v11.44h-1.04z"/>
<path fill="#d2d2ff" d="M61.21 778h1.04v11.44h-1.04zM63.21 778h1.04v11.44h-1.04zM65.21 778h1.04v11.44h-1.04zM102.24 778h1.04v11.44h-1.04zM112.24 778h3.04v11.44h-3.04zM117.24 778h1.04v11.44h-1.04zM139.26 778h1.04v11.44h-1.04zM161.27 778h1.04v11.44h-1.04zM167.27 778h1.04v11.44h-1.04zM210.3 778h1.04v11.44h-1.04zM89.23 789.4h1.04v11.44h-1.04zM48.2 892h3.04v11.44h-3.04z"/>
<path fill="#ececff" d="M72.22 778h1.04v11.44h-1.04zM97.23 778h1.04v11.44h-1.04zM123.25 778h1.04v11.44h-1.04zM127.25 778h1.04v11.44h-1.04zM130.25 778h1.04v11.44h-1.04zM173.28 778h1.04v11.44h-1.04zM177.28 778h1.04v11.44h-1.04zM194.29 778h1.04v11.44h-1.04zM61.21 789.4h1.04v11.44h-1.04zM80.22 789.4h1.04v11.44h-1.04zM90.23 789.4h1.04v11.44h-1.04zM124.25 789.4h1.04v11.44h-1.04zM189.29 789.4h1.04v11.44h-1.04zM205.3 789.4h1.04v11.44h-1.04zM211.3 789.4h1.04v11.44h-1.04zM51.21 892h1.04v11.44h-1.04zM54.21 892h1.04v11.44h-1.04z"/>
<path fill="#9f9fff" d="M81.22 778h1.04v11.44h-1.04zM106.24 778h1.04v11.44h-1.04zM125.25 778h2.04v11.44h-2.04zM129.25 778h1.04v11.44h-1.04zM156.27 778h1.04v11.44h-1.04zM171.28 778h1.04v11.44h-1.04zM179.28 778h1.04v11.44h-1.04zM205.3 778h1.04v11.44h-1.04zM173.28 823.6h1.04v11.44h-1.04zM108.24 835h1.04v11.44h-1.04zM62.21 846.4h1.04v11.44h-1.04zM92.23 857.8h1.04v11.44h-1.04zM42.2 880.6h1.04v11.44h-1.04zM47.2 880.6h1.04v11.44h-1.04zM44.2 892h1.04v11.44h-1.04z"/>
<path fill="#acacff" d="M82.22 778h1.04v11.44h-1.04zM124.25 778h1.04v11.44h-1.04zM141.26 778h1.04v11.44h-1.04zM145.26 778h1.04v11.44h-1.04zM199.29 880.6h1.04v11.44h-1.04zM45.2 892h1.04v11.44h-1.04z"/>
<path fill="#3939ff" d="M107.24 778h1.04v11.44h-1.04zM135.25 778h1.04v11.44h-1.04zM137.26 778h1.04v11.44h-1.04zM146.26 778h1.04v11.44h-1.04zM44.2 812.2h1.04v11.44h-1.04zM47.2 812.2h2.04v11.44h-2.04zM67.22 812.2h1.04v11.44h-1.04zM71.22 812.2h4.04v11.44h-4.04zM83.22 812.2h1.04v11.44h-1.04zM93.23 812.2h1.04v11.44h-1.04zM96.23 812.2h2.04v11.44h-2.04zM104.24 812.2h1.04v11.44h-1.04zM107.24 812.2h1.04v11.44h-1.04zM109.24 812.2h2.04v11.44h-2.04zM117.24 812.2h2.04v11.44h-2.04zM124.25 812.2h1.04v11.44h-1.04zM126.25 812.2h2.04v11.44h-2.04zM130.25 812.2h1.04v11.44h-1.04zM135.25 812.2h1.04v11.44h-1.04zM137.26 812.2h1.04v11.44h-1.04zM143.26 812.2h3.04v11.44h-3.04zM148.26 812.2h1.04v11.44h-1.04zM151.26 812.2h1.04v11.44h-1.04zM153.27 812.2h2.04v11.44h-2.04zM166.27 812.2h2.04v11.44h-2.04zM169.27 812.2h2.04v11.44h-2.04zM173.28 812.2h3.04v11.44h-3.04zM179.28 812.2h2.04v11.44h-2.04zM182.28 812.2h1.04v11.44h-1.04zM185.28 812.2h1.04v11.44h-1.04zM200.29 812.2h1.04v11.44h-1.04zM208.3 812.2h2.04v11.44h-2.04zM43.2 857.8h1.04v11.44h-1.04zM48.2 857.8h1.04v11.44h-1.04zM56.21 857.8h1.04v11.44h-1.04zM59.21 857.8h2.04v11.44h-2.04zM64.21 857.8h2.04v11.44h-2.04zM69.22 857.8h4.04v11.44h-4.04zM74.22 857.8h2.04v11.44h-2.04zM88.23 857.8h1.04v11.44h-1.04zM91.23 857.8h1.04v11.44h-1.04zM97.23 857.8h1.04v11.44h-1.04zM99.23 857.8h2.04v11.44h-2.04zM104.24 857.8h1.04v11.44h-1.04zM106.24 857.8h1.04v11.44h-1.04zM109.24 857.8h1.04v11.44h-1.04zM117.24 857.8h2.04v11.44h-2.04zM121.25 857.8h3.04v11.44h-3.04zM125.25 857.8h1.04v11.44h-1.04zM127.25 857.8h2.04v11.44h-2.04zM132.25 857.8h1.04v11.44h-1.04zM139.26 857.8h1.04v11.44h-1.04zM142.26 857.8h1.04v11.44h-1.04zM150.26 857.8h1.04v11.44h-1.04zM157.27 857.8h1.04v11.44h-1.04zM159.27 857.8h1.04v11.44h-1.04zM164.27 857.8h2.04v11.44h-2.04zM167.27 857.8h1.04v11.44h-1.04zM171.28 857.8h1.04v11.44h-1.04zM176.28 857.8h1.04v11.44h-1.04zM178.28 857.8h1.04v11.44h-1.04zM181.28 857.8h1.04v11.44h-1.04zM183.28 857.8h3.04v11.44h-3.04zM192.29 857.8h4.04v11.44h-4.04zM201.29 857.8h1.04v11.44h-1.04zM204.3 857.8h1.04v11.44h-1.04zM208.3 857.8h1.04v11.44h-1.04zM48.2 880.6h1.04v11.44h-1.04zM66.21 880.6h1.04v11.44h-1.04zM70.22 880.6h1.04v11.44h-1.04zM80.22 880.6h1.04v11.44h-1.04zM90.23 880.6h2.04v11.44h-2.04zM102.24 880.6h1.04v11.44h-1.04zM109.24 880.6h1.04v11.44h-1.04zM114.24 880.6h1.04v11.44h-1.04zM120.25 880.6h1.04v11.44h-1.04zM122.25 880.6h1.04v11.44h-1.04zM126.25 880.6h2.04v11.44h-2.04zM130.25 880.6h3.04v11.44h-3.04zM134.25 880.6h1.04v11.44h-1.04zM137.26 880.6h1.04v11.44h-1.04zM141.26 880.6h1.04v11.44h-1.04zM149.26 880.6h1.04v11.44h-1.04zM154.27 880.6h1.04v11.44h-1.04zM157.27 880.6h1.04v11.44h-1.04zM164.27 880.6h1.04v11.44h-1.04zM171.28 880.6h2.04v11.44h-2.04zM176.28 880.6h1.04v11.44h-1.04zM179.28 880.6h1.04v11.44h-1.04zM184.28 880.6h3.04v11.44h-3.04zM196.29 880.6h1.04v11.44h-1.04zM211.3 880.6h1.04v11.44h-1.04z"/>
<path fill="#dfdfff" d="M142.26 778h1.04v11.44h-1.04zM178.28 778h1.04v11.44h-1.04zM182.28 778h1.04v11.44h-1.04zM84.23 789.4h1.04v11.44h-1.04zM92.23 789.4h1.04v11.44h-1.04zM134.25 789.4h1.04v11.44h-1.04zM52.21 892h1.04v11.44h-1.04z"/>
<path fill="#ffff46" d="M41.2 789.4h1.04v11.44h-1.04zM45.2 789.4h1.04v11.44h-1.04zM48.2 789.4h1.04v11.44h-1.04zM50.21 789.4h1.04v11.44h-1.04zM57.21 789.4h1.04v11.44h-1.04zM60.21 789.4h1.04v11.44h-1.04zM83.22 789.4h1.04v11.44h-1.04zM87.23 789.4h1.04v11.44h-1.04zM99.23 789.4h1.04v11.44h-1.04zM107.24 789.4h1.04v11.44h-1.04zM133.25 789.4h1.04v11.44h-1.04zM139.26 789.4h1.04v11.44h-1.04zM158.27 789.4h1.04v11.44h-1.04zM165.27 789.4h2.04v11.44h-2.04zM176.28 789.4h1.04v11.44h-1.04zM180.28 789.4h1.04v11.44h-1.04zM187.29 789.4h1.04v11.44h-1.04zM206.3 789.4h1.04v11.44h-1.04zM83.22 800.8h1.04v11.44h-1.04zM156.27 800.8h1.04v11.44h-1.04zM161.27 800.8h1.04v11.44h-1.04zM173.28 800.8h1.04v11.44h-1.04zM184.28 800.8h1.04v11.44h-1.04zM188.29 800.8h1.04v11.44h-1.04zM194.29 800.8h1.04v11.44h-1.04zM121.25 903.4h1.04v11.44h-1.04zM91.23 914.8h1.04v11.44h-1.04zM95.23 914.8h1.04v11.44h-1.04zM119.25 914.8h1.04v11.44h-1.04zM190.29 914.8h1.04v11.44h-1.04zM95.23 926.2h1.04v11.44h-1.04zM173.28 937.6h1.04v11.44h-1.04zM179.28 937.6h1.04v11.44h-1.04z"/>
<path fill="#fffff9" d="M42.2 789.4h1.04v11.44h-1.04zM58.21 789.4h1.04v11.44h-1.04zM95.23 789.4h1.04v11.44h-1.04zM119.25 789.4h1.04v11.44h-1.04zM157.27 789.4h1.04v11.44h-1.04zM162.27 789.4h1.04v11.44h-1.04zM170.28 789.4h1.04v11.44h-1.04zM185.28 789.4h1.04v11.44h-1.04zM72.22 800.8h1.04v11.44h-1.04zM107.24 800.8h1.04v11.44h-1.04zM130.25 800.8h1.04v11.44h-1.04zM56.21 892h2.04v11.44h-2.04zM59.21 892h7.04v11.44h-7.04zM67.22 892h7.04v11.44h-7.04zM75.22 892h4.04v11.44h-4.04zM80.22 892h1.04v11.44h-1.04zM83.22 892h3.04v11.44h-3.04zM87.23 892h1.04v11.44h-1.04zM90.23 892h3.04v11.44h-3.04zM94.23 892h2.04v11.44h-2.04zM100.23 892h2.04v11.44h-2.04z"/>
<path fill="#ffff2d" d="M43.2 789.4h1.04v11.44h-1.04zM63.21 789.4h2.04v11.44h-2.04zM74.22 789.4h1.04v11.44h-1.04zM78.22 789.4h1.04v11.44h-1.04zM97.23 789.4h1.04v11.44h-1.04zM110.24 789.4h2.04v11.44h-2.04zM116.24 789.4h1.04v11.44h-1.04zM122.25 789.4h1.04v11.44h-1.04zM137.26 789.4h1.04v11.44h-1.04zM144.26 789.4h1.04v11.44h-1.04zM147.26 789.4h1.04v11.44h-1.04zM164.27 789.4h1.04v11.44h-1.04zM193.29 789.4h1.04v11.44h-1.04zM197.29 789.4h1.04v11.44h-1.04zM204.3 789.4h1.04v11.44h-1.04zM166.27 800.8h1.04v11.44h-1.04zM58.21 903.4h1.04v11.44h-1.04zM134.25 903.4h1.04v11.44h-1.04zM197.29 903.4h1.04v11.44h-1.04zM96.23 914.8h1.04v11.44h-1.04zM122.25 914.8h1.04v11.44h-1.04zM136.26 914.8h1.04v11.44h-1.04zM184.28 914.8h1.04v11.44h-1.04zM137.26 937.6h1.04v11.44h-1.04z"/>
<path fill="#ffff79" d="M44.2 789.4h1.04v11.44h-1.04zM51.21 789.4h1.04v11.44h-1.04zM62.21 789.4h1.04v11.44h-1.04zM76.22 789.4h1.04v11.44h-1.04zM79.22 789.4h1.04v11.44h-1.04zM96.23 789.4h1.04v11.44h-1.04zM142.26 789.4h1.04v11.44h-1.04zM154.27 789.4h1.04v11.44h-1.04zM173.28 789.4h1.04v11.44h-1.04zM178.28 789.4h1.04v11.44h-1.04zM44.2 800.8h2.04v11.44h-2.04zM56.21 800.8h1.04v11.44h-1.04zM60.21 800.8h1.04v11.44h-1.04zM62.21 800.8h1.04v11.44h-1.04zM76.22 800.8h1.04v11.44h-1.04zM78.22 800.8h1.04v11.44h-1.04zM81.22 800.8h1.04v11.44h-1.04zM85.23 800.8h1.04v11.44h-1.04zM91.23 800.8h1.04v11.44h-1.04zM101.24 800.8h1.04v11.44h-1.04zM112.24 800.8h1.04v11.44h-1.04zM128.25 800.8h2.04v11.44h-2.04zM140.26 800.8h1.04v11.44h-1.04zM142.26 800.8h1.04v11.44h-1.04zM145.26 800.8h1.04v11.44h-1.04zM147.26 800.8h1.04v11.44h-1.04zM150.26 800.8h1.04v11.44h-1.04zM162.27 800.8h1.04v11.44h-1.04zM176.28 800.8h1.04v11.44h-1.04zM190.29 800.8h2.04v11.44h-2.04zM195.29 800.8h1.04v11.44h-1.04zM205.3 800.8h1.04v11.44h-1.04zM207.3 800.8h1.04v11.44h-1.04zM203.29 892h1.04v11.44h-1.04zM205.3 892h2.04v11.44h-2.04zM208.3 892h2.04v11.44h-2.04zM211.3 892h1.04v11.44h-1.04zM43.2 914.8h1.04v11.44h-1.04zM47.2 914.8h1.04v11.44h-1.04z"/>
<path fill="#f9f9ff" d="M46.2 789.4h1.04v11.44h-1.04zM72.22 789.4h1.04v11.44h-1.04zM77.22 789.4h1.04v11.44h-1.04zM93.23 789.4h1.04v11.44h-1.04zM101.24 789.4h1.04v11.44h-1.04zM123.25 789.4h1.04v11.44h-1.04zM130.25 789.4h1.04v11.44h-1.04zM143.26 789.4h1.04v11.44h-1.04zM146.26 789.4h1.04v11.44h-1.04zM184.28 789.4h1.04v11.44h-1.04zM192.29 789.4h1.04v11.44h-1.04zM194.29 789.4h1.04v11.44h-1.04zM210.3 789.4h1.04v11.44h-1.04zM53.21 892h1.04v11.44h-1.04zM55.21 892h1.04v11.44h-1.04zM58.21 892h1.04v11.44h-1.04zM66.21 892h1.04v11.44h-1.04zM79.22 892h1.04v11.44h-1.04z"/>
<path fill="#ffffec" d="M47.2 789.4h1.04v11.44h-1.04zM55.21 789.4h1.04v11.44h-1.04zM68.22 789.4h2.04v11.44h-2.04zM71.22 789.4h1.04v11.44h-1.04zM73.22 789.4h1.04v11.44h-1.04zM82.22 789.4h1.04v11.44h-1.04zM118.25 789.4h1.04v11.44h-1.04zM161.27 789.4h1.04v11.44h-1.04zM167.27 789.4h1.04v11.44h-1.04zM177.28 789.4h1.04v11.44h-1.04zM207.3 789.4h1.04v11.44h-1.04zM86.23 800.8h1.04v11.44h-1.04zM100.23 800.8h1.04v11.44h-1.04zM113.24 800.8h1.04v11.44h-1.04zM118.25 800.8h1.04v11.44h-1.04zM131.25 800.8h1.04v11.44h-1.04zM199.29 800.8h1.04v11.44h-1.04zM74.22 892h1.04v11.44h-1.04zM81.22 892h2.04v11.44h-2.04zM86.23 892h1.04v11.44h-1.04zM88.23 892h2.04v11.44h-2.04zM96.23 892h2.04v11.44h-2.04zM99.23 892h1.04v11.44h-1.04zM102.24 892h1.04v11.44h-1.04zM104.24 892h1.04v11.44h-1.04zM106.24 892h2.04v11.44h-2.04zM111.24 892h1.04v11.44h-1.04zM114.24 892h1.04v11.44h-1.04zM119.25 892h1.04v11.44h-1.04z"/>
<path fill="#ffff06" d="M49.2 789.4h1.04v11.44h-1.04zM117.24 789.4h1.04v11.44h-1.04zM135.25 789.4h1.04v11.44h-1.04zM181.28 789.4h1.04v11.44h-1.04zM54.21 903.4h1.04v11.44h-1.04zM60.21 903.4h2.04v11.44h-2.04zM68.22 903.4h2.04v11.44h-2.04zM72.22 903.4h2.04v11.44h-2.04zM76.22 903.4h1.04v11.44h-1.04zM78.22 903.4h1.04v11.44h-1.04zM94.23 903.4h1.04v11.44h-1.04zM96.23 903.4h1.04v11.44h-1.04zM102.24 903.4h1.04v11.44h-1.04zM104.24 903.4h1.04v11.44h-1.04zM107.24 903.4h1.04v11.44h-1.04zM110.24 903.4h4.04v11.44h-4.04zM118.25 903.4h2.04v11.44h-2.04zM122.25 903.4h1.04v11.44h-1.04zM125.25 903.4h1.04v11.44h-1.04zM132.25 903.4h2.04v11.44h-2.04zM135.25 903.4h1.04v11.44h-1.04zM137.26 903.4h1.04v11.44h-1.04zM140.26 903.4h3.04v11.44h-3.04zM144.26 903.4h1.04v11.44h-1.04zM146.26 903.4h3.04v11.44h-3.04zM150.26 903.4h2.04v11.44h-2.04zM153.27 903.4h1.04v11.44h-1.04zM159.27 903.4h1.04v11.44h-1.04zM164.27 903.4h1.04v11.44h-1.04zM166.27 903.4h3.04v11.44h-3.04zM174.28 903.4h2.04v11.44h-2.04zM180.28 903.4h1.04v11.44h-1.04zM183.28 903.4h1.04v11.44h-1.04zM185.28 903.4h1.04v11.44h-1.04zM188.29 903.4h1.04v11.44h-1.04zM190.29 903.4h1.04v11.44h-1.04zM193.29 903.4h2.04v11.44h-2.04zM202.29 903.4h1.04v11.44h-1.04zM205.3 903.4h1.04v11.44h-1.04zM208.3 903.4h1.04v11.44h-1.04zM52.21 914.8h1.04v11.44h-1.04zM56.21 914.8h1.04v11.44h-1.04zM58.21 914.8h1.04v11.44h-1.04zM68.22 914.8h1.04v11.44h-1.04zM72.22 914.8h3.04v11.44h-3.04zM78.22 914.8h1.04v11.44h-1.04zM84.23 914.8h2.04v11.44h-2.04zM92.23 914.8h2.04v11.44h-2.04zM99.23 914.8h1.04v11.44h-1.04zM103.24 914.8h1.04v11.44h-1.04zM107.24 914.8h1.04v11.44h-1.04zM111.24 914.8h1.04v11.44h-1.04zM115.24 914.8h1.04v11.44h-1.04zM123.25 914.8h1.04v11.44h-1.04zM139.26 914.8h2.04v11.44h-2.04zM149.26 914.8h1.04v11.44h-1.04zM161.27 914.8h1.04v11.44h-1.04zM167.27 914.8h1.04v11.44h-1.04zM170.28 914.8h1.04v11.44h-1.04zM172.28 914.8h1.04v11.44h-1.04zM175.28 914.8h1.04v11.44h-1.04zM178.28 914.8h2.04v11.44h-2.04zM200.29 914.8h1.04v11.44h-1.04zM207.3 914.8h1.04v11.44h-1.04zM41.2 926.2h2.04v11.44h-2.04zM47.2 926.2h5.04v11.44h-5.04zM53.21 926.2h1.04v11.44h-1.04zM55.21 926.2h3.04v11.44h-3.04zM60.21 926.2h1.04v11.44h-1.04zM62.21 926.2h4.04v11.44h-4.04zM71.22 926.2h2.04v11.44h-2.04zM76.22 926.2h1.04v11.44h-1.04zM81.22 926.2h1.04v11.44h-1.04zM83.22 926.2h3.04v11.44h-3.04zM94.23 926.2h1.04v11.44h-1.04zM98.23 926.2h1.04v11.44h-1.04zM104.24 926.2h5.04v11.44h-5.04zM112.24 926.2h3.04v11.44h-3.04zM116.24 926.2h1.04v11.44h-1.04zM121.25 926.2h1.04v11.44h-1.04zM123.25 926.2h5.04v11.44h-5.04zM130.25 926.2h1.04v11.44h-1.04zM132.25 926.2h1.04v11.44h-1.04zM134.25 926.2h2.04v11.44h-2.04zM138.26 926.2h2.04v11.44h-2.04zM145.26 926.2h3.04v11.44h-3.04zM151.26 926.2h1.04v11.44h-1.04zM153.27 926.2h1.04v11.44h-1.04zM156.27 926.2h3.04v11.44h-3.04zM162.27 926.2h1.04v11.44h-1.04zM164.27 926.2h2.04v11.44h-2.04zM168.27 926.2h1.04v11.44h-1.04zM170.28 926.2h1.04v11.44h-1.04zM173.28 926.2h2.04v11.44h-2.04zM176.28 926.2h1.04v11.44h-1.04zM184.28 926.2h1.04v11.44h-1.04zM186.28 926.2h1.04v11.44h-1.04zM188.29 926.2h1.04v11.44h-1.04zM191.29 926.2h1.04v11.44h-1.04zM194.29 926.2h6.04v11.44h-6.04zM202.29 926.2h3.04v11.44h-3.04zM207.3 926.2h1.04v11.44h-1.04zM209.3 926.2h3.04v11.44h-3.04zM44.2 937.6h1.04v11.44h-1.04zM49.2 937.6h1.04v11.44h-1.04zM52.21 937.6h5.04v11.44h-5.04zM59.21 937.6h1.04v11.44h-1.04zM63.21 937.6h1.04v11.44h-1.04zM65.21 937.6h1.04v11.44h-1.04zM72.22 937.6h4.04v11.44h-4.04zM79.22 937.6h3.04v11.44h-3.04zM83.22 937.6h1.04v11.44h-1.04zM85.23 937.6h2.04v11.44h-2.04zM88.23 937.6h2.04v11.44h-2.04zM93.23 937.6h2.04v11.44h-2.04zM96.23 937.6h1.04v11.44h-1.04zM99.23 937.6h1.04v11.44h-1.04zM105.24 937.6h1.04v11.44h-1.04zM107.24 937.6h1.04v11.44h-1.04zM111.24 937.6h1.04v11.44h-1.04zM113.24 937.6h1.04v11.44h-1.04zM116.24 937.6h1.04v11.44h-1.04zM119.25 937.6h1.04v11.44h-1.04zM122.25 937.6h1.04v11.44h-1.04zM126.25 937.6h1.04v11.44h-1.04zM128.25 937.6h1.04v11.44h-1.04zM133.25 937.6h2.04v11.44h-2.04zM136.26 937.6h1.04v11.44h-1.04zM138.26 937.6h1.04v11.44h-1.04zM142.26 937.6h1.04v11.44h-1.04zM147.26 937.6h1.04v11.44h-1.04zM157.27 937.6h1.04v11.44h-1.04zM164.27 937.6h2.04v11.44h-2.04zM168.27 937.6h1.04v11.44h-1.04zM170.28 937.6h3.04v11.44h-3.04zM174.28 937.6h1.04v11.44h-1.04zM176.28 937.6h1.04v11.44h-1.04zM183.28 937.6h3.04v11.44h-3.04zM188.29 937.6h1.04v11.44h-1.04zM190.29 937.6h1.04v11.44h-1.04zM195.29 937.6h2.04v11.44h-2.04zM201.29 937.6h1.04v11.44h-1.04zM210.3 937.6h1.04v11.44h-1.04z"/>
<path fill="#ffff53" d="M52.21 789.4h3.04v11.44h-3.04zM65.21 789.4h1.04v11.44h-1.04zM88.23 789.4h1.04v11.44h-1.04zM102.24 789.4h2.04v11.44h-2.04zM121.25 789.4h1.04v11.44h-1.04zM128.25 789.4h1.04v11.44h-1.04zM138.26 789.4h1.04v11.44h-1.04zM148.26 789.4h1.04v11.44h-1.04zM168.27 789.4h1.04v11.44h-1.04zM171.28 789.4h1.04v11.44h-1.04zM175.28 789.4h1.04v11.44h-1.04zM195.29 789.4h1.04v11.44h-1.04zM47.2 800.8h1.04v11.44h-1.04zM52.21 800.8h1.04v11.44h-1.04zM65.21 800.8h1.04v11.44h-1.04zM67.22 800.8h1.04v11.44h-1.04zM74.22 800.8h1.04v11.44h-1.04zM82.22 800.8h1.04v11.44h-1.04zM90.23 800.8h1.04v11.44h-1.04zM92.23 800.8h1.04v11.44h-1.04zM94.23 800.8h1.04v11.44h-1.04zM96.23 800.8h1.04v11.44h-1.04zM123.25 800.8h2.04v11.44h-2.04zM126.25 800.8h1.04v11.44h-1.04zM141.26 800.8h1.04v11.44h-1.04zM160.27 800.8h1.04v11.44h-1.04zM186.28 800.8h1.04v11.44h-1.04zM192.29 800.8h1.04v11.44h-1.04zM43.2 903.4h1.04v11.44h-1.04zM192.29 903.4h1.04v11.44h-1.04zM42.2 914.8h1.04v11.44h-1.04zM48.2 914.8h1.04v11.44h-1.04zM62.21 914.8h1.04v11.44h-1.04zM65.21 914.8h1.04v11.44h-1.04zM112.24 914.8h1.04v11.44h-1.04zM134.25 914.8h1.04v11.44h-1.04zM183.28 926.2h1.04v11.44h-1.04z"/>
<path fill="#ffffd2" d="M56.21 789.4h1.04v11.44h-1.04zM49.2 800.8h1.04v11.44h-1.04zM64.21 800.8h1.04v11.44h-1.04zM80.22 800.8h1.04v11.44h-1.04zM116.24 800.8h1.04v11.44h-1.04zM175.28 800.8h1.04v11.44h-1.04zM204.3 800.8h1.04v11.44h-1.04zM209.3 800.8h1.04v11.44h-1.04zM115.24 892h3.04v11.44h-3.04zM120.25 892h1.04v11.44h-1.04zM123.25 892h1.04v11.44h-1.04zM125.25 892h1.04v11.44h-1.04zM128.25 892h1.04v11.44h-1.04zM130.25 892h1.04v11.44h-1.04zM132.25 892h1.04v11.44h-1.04zM134.25 892h5.04v11.44h-5.04zM140.26 892h1.04v11.44h-1.04zM143.26 892h1.04v11.44h-1.04zM45.2 903.4h3.04v11.44h-3.04zM50.21 903.4h1.04v11.44h-1.04z"/>
<path fill="#ffff93" d="M59.21 789.4h1.04v11.44h-1.04zM46.2 800.8h1.04v11.44h-1.04zM50.21 800.8h1.04v11.44h-1.04zM55.21 800.8h1.04v11.44h-1.04zM59.21 800.8h1.04v11.44h-1.04zM68.22 800.8h1.04v11.44h-1.04zM73.22 800.8h1.04v11.44h-1.04zM79.22 800.8h1.04v11.44h-1.04zM84.23 800.8h1.04v11.44h-1.04zM111.24 800.8h1.04v11.44h-1.04zM154.27 800.8h1.04v11.44h-1.04zM163.27 800.8h1.04v11.44h-1.04zM165.27 800.8h1.04v11.44h-1.04zM167.27 800.8h1.04v11.44h-1.04zM179.28 800.8h1.04v11.44h-1.04zM182.28 800.8h1.04v11.44h-1.04zM202.29 800.8h1.04v11.44h-1.04zM174.28 892h1.04v11.44h-1.04zM181.28 892h2.04v11.44h-2.04zM184.28 892h1.04v11.44h-1.04zM186.28 892h5.04v11.44h-5.04zM194.29 892h1.04v11.44h-1.04zM197.29 892h1.04v11.44h-1.04z"/>
<path fill="#ffff13" d="M66.21 789.4h1.04v11.44h-1.04zM94.23 789.4h1.04v11.44h-1.04zM104.24 789.4h1.04v11.44h-1.04zM129.25 789.4h1.04v11.44h-1.04zM51.21 903.4h1.04v11.44h-1.04zM53.21 903.4h1.04v11.44h-1.04zM56.21 903.4h2.04v11.44h-2.04zM59.21 903.4h1.04v11.44h-1.04zM62.21 903.4h6.04v11.44h-6.04zM70.22 903.4h1.04v11.44h-1.04zM74.22 903.4h2.04v11.44h-2.04zM77.22 903.4h1.04v11.44h-1.04zM79.22 903.4h1.04v11.44h-1.04zM81.22 903.4h2.04v11.44h-2.04zM84.23 903.4h6.04v11.44h-6.04zM91.23 903.4h1.04v11.44h-1.04zM93.23 903.4h1.04v11.44h-1.04zM95.23 903.4h1.04v11.44h-1.04zM97.23 903.4h5.04v11.44h-5.04zM109.24 903.4h1.04v11.44h-1.04zM115.24 903.4h1.04v11.44h-1.04zM123.25 903.4h1.04v11.44h-1.04zM127.25 903.4h3.04v11.44h-3.04zM131.25 903.4h1.04v11.44h-1.04zM138.26 903.4h1.04v11.44h-1.04zM143.26 903.4h1.04v11.44h-1.04zM145.26 903.4h1.04v11.44h-1.04zM149.26 903.4h1.04v11.44h-1.04zM154.27 903.4h5.04v11.44h-5.04zM160.27 903.4h2.04v11.44h-2.04zM163.27 903.4h1.04v11.44h-1.04zM165.27 903.4h1.04v11.44h-1.04zM169.27 903.4h5.04v11.44h-5.04zM176.28 903.4h4.04v11.44h-4.04zM181.28 903.4h1.04v11.44h-1.04zM184.28 903.4h1.04v11.44h-1.04zM186.28 903.4h2.04v11.44h-2.04zM189.29 903.4h1.04v11.44h-1.04zM191.29 903.4h1.04v11.44h-1.04zM195.29 903.4h2.04v11.44h-2.04zM198.29 903.4h4.04v11.44h-4.04zM203.29 903.4h2.04v11.44h-2.04zM206.3 903.4h2.04v11.44h-2.04zM209.3 903.4h3.04v11.44h-3.04zM51.21 914.8h1.04v11.44h-1.04zM55.21 914.8h1.04v11.44h-1.04zM57.21 914.8h1.04v11.44h-1.04zM60.21 914.8h1.04v11.44h-1.04zM63.21 914.8h2.04v11.44h-2.04zM66.21 914.8h1.04v11.44h-1.04zM69.22 914.8h2.04v11.44h-2.04zM75.22 914.8h1.04v11.44h-1.04zM79.22 914.8h3.04v11.44h-3.04zM83.22 914.8h1.04v11.44h-1.04zM86.23 914.8h2.04v11.44h-2.04zM89.23 914.8h2.04v11.44h-2.04zM100.23 914.8h3.04v11.44h-3.04zM106.24 914.8h1.04v11.44h-1.04zM109.24 914.8h1.04v11.44h-1.04zM113.24 914.8h2.04v11.44h-2.04zM116.24 914.8h2.04v11.44h-2.04zM126.25 914.8h7.04v11.44h-7.04zM135.25 914.8h1.04v11.44h-1.04zM138.26 914.8h1.04v11.44h-1.04zM141.26 914.8h2.04v11.44h-2.04zM144.26 914.8h1.04v11.44h-1.04zM146.26 914.8h3.04v11.44h-3.04zM151.26 914.8h1.04v11.44h-1.04zM153.27 914.8h2.04v11.44h-2.04zM156.27 914.8h3.04v11.44h-3.04zM160.27 914.8h1.04v11.44h-1.04zM162.27 914.8h2.04v11.44h-2.04zM165.27 914.8h1.04v11.44h-1.04zM168.27 914.8h2.04v11.44h-2.04zM171.28 914.8h1.04v11.44h-1.04zM174.28 914.8h1.04v11.44h-1.04zM180.28 914.8h1.04v11.44h-1.04zM182.28 914.8h2.04v11.44h-2.04zM185.28 914.8h5.04v11.44h-5.04zM193.29 914.8h1.04v11.44h-1.04zM195.29 914.8h5.04v11.44h-5.04zM201.29 914.8h6.04v11.44h-6.04zM208.3 914.8h2.04v11.44h-2.04zM43.2 926.2h1.04v11.44h-1.04zM46.2 926.2h1.04v11.44h-1.04zM52.21 926.2h1.04v11.44h-1.04zM54.21 926.2h1.04v11.44h-1.04zM58.21 926.2h2.04v11.44h-2.04zM69.22 926.2h2.04v11.44h-2.04zM73.22 926.2h3.04v11.44h-3.04zM77.22 926.2h4.04v11.44h-4.04zM86.23 926.2h3.04v11.44h-3.04zM90.23 926.2h3.04v11.44h-3.04zM96.23 926.2h1.04v11.44h-1.04zM99.23 926.2h3.04v11.44h-3.04zM103.24 926.2h1.04v11.44h-1.04zM109.24 926.2h3.04v11.44h-3.04zM115.24 926.2h1.04v11.44h-1.04zM117.24 926.2h2.04v11.44h-2.04zM120.25 926.2h1.04v11.44h-1.04zM122.25 926.2h1.04v11.44h-1.04zM128.25 926.2h2.04v11.44h-2.04zM136.26 926.2h2.04v11.44h-2.04zM141.26 926.2h2.04v11.44h-2.04zM149.26 926.2h2.04v11.44h-2.04zM152.26 926.2h1.04v11.44h-1.04zM154.27 926.2h2.04v11.44h-2.04zM159.27 926.2h3.04v11.44h-3.04zM163.27 926.2h1.04v11.44h-1.04zM167.27 926.2h1.04v11.44h-1.04zM175.28 926.2h1.04v11.44h-1.04zM178.28 926.2h1.04v11.44h-1.04zM180.28 926.2h3.04v11.44h-3.04zM187.29 926.2h1.04v11.44h-1.04zM189.29 926.2h2.04v11.44h-2.04zM193.29 926.2h1.04v11.44h-1.04zM200.29 926.2h1.04v11.44h-1.04zM205.3 926.2h2.04v11.44h-2.04zM208.3 926.2h1.04v11.44h-1.04zM41.2 937.6h3.04v11.44h-3.04zM45.2 937.6h1.04v11.44h-1.04zM47.2 937.6h2.04v11.44h-2.04zM50.21 937.6h2.04v11.44h-2.04zM57.21 937.6h2.04v11.44h-2.04zM60.21 937.6h3.04v11.44h-3.04zM64.21 937.6h1.04v11.44h-1.04zM67.22 937.6h5.04v11.44h-5.04zM76.22 937.6h2.04v11.44h-2.04zM84.23 937.6h1.04v11.44h-1.04zM87.23 937.6h1.04v11.44h-1.04zM91.23 937.6h2.04v11.44h-2.04zM95.23 937.6h1.04v11.44h-1.04zM97.23 937.6h2.04v11.44h-2.04zM100.23 937.6h2.04v11.44h-2.04zM103.24 937.6h1.04v11.44h-1.04zM106.24 937.6h1.04v11.44h-1.04zM108.24 937.6h1.04v11.44h-1.04zM110.24 937.6h1.04v11.44h-1.04zM112.24 937.6h1.04v11.44h-1.04zM115.24 937.6h1.04v11.44h-1.04zM117.24 937.6h2.04v11.44h-2.04zM123.25 937.6h3.04v11.44h-3.04zM127.25 937.6h1.04v11.44h-1.04zM129.25 937.6h4.04v11.44h-4.04zM135.25 937.6h1.04v11.44h-1.04zM139.26 937.6h2.04v11.44h-2.04zM144.26 937.6h3.04v11.44h-3.04zM150.26 937.6h7.04v11.44h-7.04zM158.27 937.6h1.04v11.44h-1.04zM160.27 937.6h4.04v11.44h-4.04zM166.27 937.6h2.04v11.44h-2.04zM175.28 937.6h1.04v11.44h-1.04zM178.28 937.6h1.04v11.44h-1.04zM181.28 937.6h2.04v11.44h-2.04zM186.28 937.6h1.04v11.44h-1.04zM189.29 937.6h1.04v11.44h-1.04zM191.29 937.6h3.04v11.44h-3.04zM197.29 937.6h4.04v11.44h-4.04zM202.29 937.6h5.04v11.44h-5.04zM208.3 937.6h2.04v11.44h-2.04zM211.3 937.6h1.04v11.44h-1.04z"/>
<path fill="#ffff6c" d="M67.22 789.4h1.04v11.44h-1.04zM108.24 789.4h1.04v11.44h-1.04zM115.24 789.4h1.04v11.44h-1.04zM136.26 789.4h1.04v11.44h-1.04zM140.26 789.4h1.04v11.44h-1.04zM153.27 789.4h1.04v11.44h-1.04zM182.28 789.4h1.04v11.44h-1.04zM191.29 789.4h1.04v11.44h-1.04zM202.29 789.4h1.04v11.44h-1.04zM41.2 800.8h1.04v11.44h-1.04zM54.21 800.8h1.04v11.44h-1.04zM89.23 800.8h1.04v11.44h-1.04zM102.24 800.8h1.04v11.44h-1.04zM104.24 800.8h1.04v11.44h-1.04zM106.24 800.8h1.04v11.44h-1.04zM115.24 800.8h1.04v11.44h-1.04zM119.25 800.8h1.04v11.44h-1.04zM125.25 800.8h1.04v11.44h-1.04zM132.25 800.8h1.04v11.44h-1.04zM135.25 800.8h1.04v11.44h-1.04zM137.26 800.8h1.04v11.44h-1.04zM146.26 800.8h1.04v11.44h-1.04zM151.26 800.8h1.04v11.44h-1.04zM164.27 800.8h1.04v11.44h-1.04zM174.28 800.8h1.04v11.44h-1.04zM177.28 800.8h1.04v11.44h-1.04zM183.28 800.8h1.04v11.44h-1.04zM200.29 800.8h1.04v11.44h-1.04zM206.3 800.8h1.04v11.44h-1.04zM207.3 892h1.04v11.44h-1.04zM45.2 914.8h2.04v11.44h-2.04zM49.2 914.8h1.04v11.44h-1.04zM104.24 914.8h1.04v11.44h-1.04zM93.23 926.2h1.04v11.44h-1.04z"/>
<path fill="#ffff39" d="M70.22 789.4h1.04v11.44h-1.04zM75.22 789.4h1.04v11.44h-1.04zM85.23 789.4h1.04v11.44h-1.04zM98.23 789.4h1.04v11.44h-1.04zM100.23 789.4h1.04v11.44h-1.04zM106.24 789.4h1.04v11.44h-1.04zM112.24 789.4h2.04v11.44h-2.04zM125.25 789.4h3.04v11.44h-3.04zM149.26 789.4h1.04v11.44h-1.04zM172.28 789.4h1.04v11.44h-1.04zM174.28 789.4h1.04v11.44h-1.04zM198.29 789.4h2.04v11.44h-2.04zM58.21 800.8h1.04v11.44h-1.04zM136.26 903.4h1.04v11.44h-1.04z"/>
<path fill="#ffff86" d="M81.22 789.4h1.04v11.44h-1.04zM131.25 789.4h1.04v11.44h-1.04zM196.29 789.4h1.04v11.44h-1.04zM42.2 800.8h1.04v11.44h-1.04zM69.22 800.8h1.04v11.44h-1.04zM71.22 800.8h1.04v11.44h-1.04zM97.23 800.8h1.04v11.44h-1.04zM114.24 800.8h1.04v11.44h-1.04zM133.25 800.8h1.04v11.44h-1.04zM155.27 800.8h1.04v11.44h-1.04zM169.27 800.8h2.04v11.44h-2.04zM178.28 800.8h1.04v11.44h-1.04zM187.29 800.8h1.04v11.44h-1.04zM203.29 800.8h1.04v11.44h-1.04zM191.29 892h3.04v11.44h-3.04zM195.29 892h2.04v11.44h-2.04zM198.29 892h5.04v11.44h-5.04zM204.3 892h1.04v11.44h-1.04z"/>
<path fill="#ffff20" d="M86.23 789.4h1.04v11.44h-1.04zM132.25 789.4h1.04v11.44h-1.04zM156.27 789.4h1.04v11.44h-1.04zM160.27 789.4h1.04v11.44h-1.04zM169.27 789.4h1.04v11.44h-1.04zM179.28 789.4h1.04v11.44h-1.04zM209.3 789.4h1.04v11.44h-1.04zM52.21 903.4h1.04v11.44h-1.04zM55.21 903.4h1.04v11.44h-1.04zM71.22 903.4h1.04v11.44h-1.04zM80.22 903.4h1.04v11.44h-1.04zM83.22 903.4h1.04v11.44h-1.04zM92.23 903.4h1.04v11.44h-1.04zM103.24 903.4h1.04v11.44h-1.04zM105.24 903.4h2.04v11.44h-2.04zM108.24 903.4h1.04v11.44h-1.04zM114.24 903.4h1.04v11.44h-1.04zM116.24 903.4h2.04v11.44h-2.04zM120.25 903.4h1.04v11.44h-1.04zM124.25 903.4h1.04v11.44h-1.04zM126.25 903.4h1.04v11.44h-1.04zM130.25 903.4h1.04v11.44h-1.04zM139.26 903.4h1.04v11.44h-1.04zM152.26 903.4h1.04v11.44h-1.04zM162.27 903.4h1.04v11.44h-1.04zM182.28 903.4h1.04v11.44h-1.04zM53.21 914.8h2.04v11.44h-2.04zM59.21 914.8h1.04v11.44h-1.04zM61.21 914.8h1.04v11.44h-1.04zM67.22 914.8h1.04v11.44h-1.04zM71.22 914.8h1.04v11.44h-1.04zM76.22 914.8h2.04v11.44h-2.04zM82.22 914.8h1.04v11.44h-1.04zM88.23 914.8h1.04v11.44h-1.04zM94.23 914.8h1.04v11.44h-1.04zM97.23 914.8h2.04v11.44h-2.04zM105.24 914.8h1.04v11.44h-1.04zM108.24 914.8h1.04v11.44h-1.04zM110.24 914.8h1.04v11.44h-1.04zM118.25 914.8h1.04v11.44h-1.04zM120.25 914.8h2.04v11.44h-2.04zM124.25 914.8h2.04v11.44h-2.04zM133.25 914.8h1.04v11.44h-1.04zM137.26 914.8h1.04v11.44h-1.04zM143.26 914.8h1.04v11.44h-1.04zM145.26 914.8h1.04v11.44h-1.04zM150.26 914.8h1.04v11.44h-1.04zM152.26 914.8h1.04v11.44h-1.04zM155.27 914.8h1.04v11.44h-1.04zM159.27 914.8h1.04v11.44h-1.04zM164.27 914.8h1.04v11.44h-1.04zM173.28 914.8h1.04v11.44h-1.04zM176.28 914.8h2.04v11.44h-2.04zM181.28 914.8h1.04v11.44h-1.04zM191.29 914.8h2.04v11.44h-2.04zM194.29 914.8h1.04v11.44h-1.04zM210.3 914.8h2.04v11.44h-2.04zM44.2 926.2h2.04v11.44h-2.04zM61.21 926.2h1.04v11.44h-1.04zM66.21 926.2h3.04v11.44h-3.04zM82.22 926.2h1.04v11.44h-1.04zM89.23 926.2h1.04v11.44h-1.04zM97.23 926.2h1.04v11.44h-1.04zM102.24 926.2h1.04v11.44h-1.04zM119.25 926.2h1.04v11.44h-1.04zM131.25 926.2h1.04v11.44h-1.04zM133.25 926.2h1.04v11.44h-1.04zM140.26 926.2h1.04v11.44h-1.04zM143.26 926.2h2.04v11.44h-2.04zM148.26 926.2h1.04v11.44h-1.04zM166.27 926.2h1.04v11.44h-1.04zM169.27 926.2h1.04v11.44h-1.04zM171.28 926.2h2.04v11.44h-2.04zM177.28 926.2h1.04v11.44h-1.04zM179.28 926.2h1.04v11.44h-1.04zM185.28 926.2h1.04v11.44h-1.04zM192.29 926.2h1.04v11.44h-1.04zM201.29 926.2h1.04v11.44h-1.04zM46.2 937.6h1.04v11.44h-1.04zM66.21 937.6h1.04v11.44h-1.04zM78.22 937.6h1.04v11.44h-1.04zM82.22 937.6h1.04v11.44h-1.04zM90.23 937.6h1.04v11.44h-1.04zM102.24 937.6h1.04v11.44h-1.04zM104.24 937.6h1.04v11.44h-1.04zM109.24 937.6h1.04v11.44h-1.04zM114.24 937.6h1.04v11.44h-1.04zM120.25 937.6h2.04v11.44h-2.04zM141.26 937.6h1.04v11.44h-1.04zM143.26 937.6h1.04v11.44h-1.04zM148.26 937.6h2.04v11.44h-2.04zM159.27 937.6h1.04v11.44h-1.04zM169.27 937.6h1.04v11.44h-1.04zM177.28 937.6h1.04v11.44h-1.04zM180.28 937.6h1.04v11.44h-1.04zM187.29 937.6h1.04v11.44h-1.04zM194.29 937.6h1.04v11.44h-1.04zM207.3 937.6h1.04v11.44h-1.04z"/>
<path fill="#ffffdf" d="M91.23 789.4h1.04v11.44h-1.04zM105.24 789.4h1.04v11.44h-1.04zM141.26 789.4h1.04v11.44h-1.04zM150.26 789.4h1.04v11.44h-1.04zM186.28 789.4h1.04v11.44h-1.04zM190.29 789.4h1.04v11.44h-1.04zM66.21 800.8h1.04v11.44h-1.04zM98.23 800.8h1.04v11.44h-1.04zM105.24 800.8h1.04v11.44h-1.04zM153.27 800.8h1.04v11.44h-1.04zM185.28 800.8h1.04v11.44h-1.04zM208.3 800.8h1.04v11.44h-1.04zM210.3 800.8h1.04v11.44h-1.04zM93.23 892h1.04v11.44h-1.04zM98.23 892h1.04v11.44h-1.04zM103.24 892h1.04v11.44h-1.04zM105.24 892h1.04v11.44h-1.04zM108.24 892h3.04v11.44h-3.04zM112.24 892h2.04v11.44h-2.04zM118.25 892h1.04v11.44h-1.04zM121.25 892h2.04v11.44h-2.04zM124.25 892h1.04v11.44h-1.04zM126.25 892h1.04v11.44h-1.04zM129.25 892h1.04v11.44h-1.04zM48.2 903.4h1.04v11.44h-1.04z"/>
<path fill="#ffff60" d="M109.24 789.4h1.04v11.44h-1.04zM114.24 789.4h1.04v11.44h-1.04zM120.25 789.4h1.04v11.44h-1.04zM145.26 789.4h1.04v11.44h-1.04zM151.26 789.4h2.04v11.44h-2.04zM155.27 789.4h1.04v11.44h-1.04zM159.27 789.4h1.04v11.44h-1.04zM163.27 789.4h1.04v11.44h-1.04zM183.28 789.4h1.04v11.44h-1.04zM188.29 789.4h1.04v11.44h-1.04zM200.29 789.4h2.04v11.44h-2.04zM203.29 789.4h1.04v11.44h-1.04zM208.3 789.4h1.04v11.44h-1.04zM43.2 800.8h1.04v11.44h-1.04zM48.2 800.8h1.04v11.44h-1.04zM57.21 800.8h1.04v11.44h-1.04zM87.23 800.8h2.04v11.44h-2.04zM108.24 800.8h2.04v11.44h-2.04zM120.25 800.8h1.04v11.44h-1.04zM138.26 800.8h1.04v11.44h-1.04zM149.26 800.8h1.04v11.44h-1.04zM158.27 800.8h1.04v11.44h-1.04zM168.27 800.8h1.04v11.44h-1.04zM171.28 800.8h2.04v11.44h-2.04zM180.28 800.8h1.04v11.44h-1.04zM189.29 800.8h1.04v11.44h-1.04zM193.29 800.8h1.04v11.44h-1.04zM196.29 800.8h1.04v11.44h-1.04zM198.29 800.8h1.04v11.44h-1.04zM211.3 800.8h1.04v11.44h-1.04zM210.3 892h1.04v11.44h-1.04zM90.23 903.4h1.04v11.44h-1.04zM41.2 914.8h1.04v11.44h-1.04zM44.2 914.8h1.04v11.44h-1.04zM50.21 914.8h1.04v11.44h-1.04zM166.27 914.8h1.04v11.44h-1.04z"/>
<path fill="#ffff9f" d="M51.21 800.8h1.04v11.44h-1.04zM61.21 800.8h1.04v11.44h-1.04zM77.22 800.8h1.04v11.44h-1.04zM117.24 800.8h1.04v11.44h-1.04zM121.25 800.8h1.04v11.44h-1.04zM139.26 800.8h1.04v11.44h-1.04zM152.26 800.8h1.04v11.44h-1.04zM159.27 800.8h1.04v11.44h-1.04zM165.27 892h1.04v11.44h-1.04zM172.28 892h1.04v11.44h-1.04zM180.28 892h1.04v11.44h-1.04zM183.28 892h1.04v11.44h-1.04zM185.28 892h1.04v11.44h-1.04z"/>
<path fill="#ffffb9" d="M53.21 800.8h1.04v11.44h-1.04zM63.21 800.8h1.04v11.44h-1.04zM93.23 800.8h1.04v11.44h-1.04zM110.24 800.8h1.04v11.44h-1.04zM134.25 800.8h1.04v11.44h-1.04zM144.26 800.8h1.04v11.44h-1.04zM197.29 800.8h1.04v11.44h-1.04zM139.26 892h1.04v11.44h-1.04zM141.26 892h1.04v11.44h-1.04zM144.26 892h1.04v11.44h-1.04zM146.26 892h1.04v11.44h-1.04zM149.26 892h1.04v11.44h-1.04zM151.26 892h1.04v11.44h-1.04zM156.27 892h1.04v11.44h-1.04zM158.27 892h5.04v11.44h-5.04zM164.27 892h1.04v11.44h-1.04zM166.27 892h1.04v11.44h-1.04zM170.28 892h1.04v11.44h-1.04zM173.28 892h1.04v11.44h-1.04zM49.2 903.4h1.04v11.44h-1.04z"/>
<path fill="#ffffac" d="M70.22 800.8h1.04v11.44h-1.04zM75.22 800.8h1.04v11.44h-1.04zM122.25 800.8h1.04v11.44h-1.04zM181.28 800.8h1.04v11.44h-1.04zM201.29 800.8h1.04v11.44h-1.04zM150.26 892h1.04v11.44h-1.04zM157.27 892h1.04v11.44h-1.04zM163.27 892h1.04v11.44h-1.04zM167.27 892h3.04v11.44h-3.04zM171.28 892h1.04v11.44h-1.04zM175.28 892h5.04v11.44h-5.04z"/>
<path fill="#ffffc6" d="M95.23 800.8h1.04v11.44h-1.04zM99.23 800.8h1.04v11.44h-1.04zM103.24 800.8h1.04v11.44h-1.04zM127.25 800.8h1.04v11.44h-1.04zM136.26 800.8h1.04v11.44h-1.04zM143.26 800.8h1.04v11.44h-1.04zM148.26 800.8h1.04v11.44h-1.04zM157.27 800.8h1.04v11.44h-1.04zM127.25 892h1.04v11.44h-1.04zM131.25 892h1.04v11.44h-1.04zM133.25 892h1.04v11.44h-1.04zM142.26 892h1.04v11.44h-1.04zM145.26 892h1.04v11.44h-1.04zM147.26 892h2.04v11.44h-2.04zM152.26 892h4.04v11.44h-4.04zM41.2 903.4h2.04v11.44h-2.04zM44.2 903.4h1.04v11.44h-1.04z"/>
<path fill="#2d2dff" d="M42.2 812.2h2.04v11.44h-2.04zM50.21 812.2h2.04v11.44h-2.04zM56.21 812.2h1.04v11.44h-1.04zM63.21 812.2h4.04v11.44h-4.04zM68.22 812.2h1.04v11.44h-1.04zM70.22 812.2h1.04v11.44h-1.04zM76.22 812.2h1.04v11.44h-1.04zM79.22 812.2h1.04v11.44h-1.04zM85.23 812.2h2.04v11.44h-2.04zM94.23 812.2h2.04v11.44h-2.04zM98.23 812.2h3.04v11.44h-3.04zM102.24 812.2h2.04v11.44h-2.04zM106.24 812.2h1.04v11.44h-1.04zM108.24 812.2h1.04v11.44h-1.04zM111.24 812.2h1.04v11.44h-1.04zM113.24 812.2h1.04v11.44h-1.04zM115.24 812.2h1.04v11.44h-1.04zM119.25 812.2h1.04v11.44h-1.04zM122.25 812.2h1.04v11.44h-1.04zM129.25 812.2h1.04v11.44h-1.04zM131.25 812.2h1.04v11.44h-1.04zM140.26 812.2h2.04v11.44h-2.04zM146.26 812.2h2.04v11.44h-2.04zM149.26 812.2h2.04v11.44h-2.04zM155.27 812.2h6.04v11.44h-6.04zM168.27 812.2h1.04v11.44h-1.04zM177.28 812.2h1.04v11.44h-1.04zM181.28 812.2h1.04v11.44h-1.04zM186.28 812.2h1.04v11.44h-1.04zM189.29 812.2h1.04v11.44h-1.04zM195.29 812.2h1.04v11.44h-1.04zM197.29 812.2h1.04v11.44h-1.04zM201.29 812.2h1.04v11.44h-1.04zM205.3 812.2h1.04v11.44h-1.04zM211.3 812.2h1.04v11.44h-1.04zM42.2 857.8h1.04v11.44h-1.04zM44.2 857.8h2.04v11.44h-2.04zM49.2 857.8h2.04v11.44h-2.04zM52.21 857.8h1.04v11.44h-1.04zM54.21 857.8h1.04v11.44h-1.04zM57.21 857.8h1.04v11.44h-1.04zM62.21 857.8h2.04v11.44h-2.04zM67.22 857.8h2.04v11.44h-2.04zM76.22 857.8h1.04v11.44h-1.04zM78.22 857.8h2.04v11.44h-2.04zM81.22 857.8h1.04v11.44h-1.04zM83.22 857.8h1.04v11.44h-1.04zM85.23 857.8h1.04v11.44h-1.04zM87.23 857.8h1.04v11.44h-1.04zM89.23 857.8h1.04v11.44h-1.04zM93.23 857.8h1.04v11.44h-1.04zM96.23 857.8h1.04v11.44h-1.04zM108.24 857.8h1.04v11.44h-1.04zM111.24 857.8h1.04v11.44h-1.04zM113.24 857.8h2.04v11.44h-2.04zM120.25 857.8h1.04v11.44h-1.04zM124.25 857.8h1.04v11.44h-1.04zM130.25 857.8h1.04v11.44h-1.04zM135.25 857.8h4.04v11.44h-4.04zM141.26 857.8h1.04v11.44h-1.04zM145.26 857.8h1.04v11.44h-1.04zM148.26 857.8h2.04v11.44h-2.04zM152.26 857.8h2.04v11.44h-2.04zM160.27 857.8h1.04v11.44h-1.04zM166.27 857.8h1.04v11.44h-1.04zM188.29 857.8h1.04v11.44h-1.04zM197.29 857.8h3.04v11.44h-3.04zM207.3 857.8h1.04v11.44h-1.04zM209.3 857.8h3.04v11.44h-3.04zM51.21 880.6h1.04v11.44h-1.04zM58.21 880.6h1.04v11.44h-1.04zM61.21 880.6h1.04v11.44h-1.04zM65.21 880.6h1.04v11.44h-1.04zM67.22 880.6h1.04v11.44h-1.04zM73.22 880.6h1.04v11.44h-1.04zM75.22 880.6h1.04v11.44h-1.04zM88.23 880.6h1.04v11.44h-1.04zM101.24 880.6h1.04v11.44h-1.04zM128.25 880.6h1.04v11.44h-1.04zM135.25 880.6h1.04v11.44h-1.04zM140.26 880.6h1.04v11.44h-1.04zM142.26 880.6h2.04v11.44h-2.04zM180.28 880.6h1.04v11.44h-1.04zM187.29 880.6h1.04v11.44h-1.04zM192.29 880.6h1.04v11.44h-1.04zM205.3 880.6h1.04v11.44h-1.04z"/>
<path fill="#2020ff" d="M53.21 812.2h1.04v11.44h-1.04zM81.22 812.2h2.04v11.44h-2.04zM87.23 812.2h4.04v11.44h-4.04zM105.24 812.2h1.04v11.44h-1.04zM114.24 812.2h1.04v11.44h-1.04zM121.25 812.2h1.04v11.44h-1.04zM125.25 812.2h1.04v11.44h-1.04zM133.25 812.2h1.04v11.44h-1.04zM139.26 812.2h1.04v11.44h-1.04zM161.27 812.2h1.04v11.44h-1.04zM163.27 812.2h2.04v11.44h-2.04zM172.28 812.2h1.04v11.44h-1.04zM176.28 812.2h1.04v11.44h-1.04zM178.28 812.2h1.04v11.44h-1.04zM183.28 812.2h1.04v11.44h-1.04zM187.29 812.2h1.04v11.44h-1.04zM190.29 812.2h1.04v11.44h-1.04zM194.29 812.2h1.04v11.44h-1.04zM196.29 812.2h1.04v11.44h-1.04zM198.29 812.2h2.04v11.44h-2.04zM203.29 812.2h1.04v11.44h-1.04zM210.3 812.2h1.04v11.44h-1.04zM172.28 835h1.04v11.44h-1.04zM64.21 846.4h1.04v11.44h-1.04zM66.21 846.4h2.04v11.44h-2.04zM77.22 846.4h2.04v11.44h-2.04zM86.23 846.4h1.04v11.44h-1.04zM89.23 846.4h1.04v11.44h-1.04zM100.23 846.4h1.04v11.44h-1.04zM142.26 846.4h1.04v11.44h-1.04zM154.27 846.4h1.04v11.44h-1.04zM161.27 846.4h1.04v11.44h-1.04zM177.28 846.4h1.04v11.44h-1.04zM182.28 846.4h1.04v11.44h-1.04zM188.29 846.4h1.04v11.44h-1.04zM41.2 857.8h1.04v11.44h-1.04zM46.2 857.8h1.04v11.44h-1.04zM53.21 857.8h1.04v11.44h-1.04zM58.21 857.8h1.04v11.44h-1.04zM61.21 857.8h1.04v11.44h-1.04zM66.21 857.8h1.04v11.44h-1.04zM73.22 857.8h1.04v11.44h-1.04zM80.22 857.8h1.04v11.44h-1.04zM82.22 857.8h1.04v11.44h-1.04zM84.23 857.8h1.04v11.44h-1.04zM90.23 857.8h1.04v11.44h-1.04zM98.23 857.8h1.04v11.44h-1.04zM102.24 857.8h1.04v11.44h-1.04zM110.24 857.8h1.04v11.44h-1.04zM115.24 857.8h1.04v11.44h-1.04zM126.25 857.8h1.04v11.44h-1.04zM131.25 857.8h1.04v11.44h-1.04zM134.25 857.8h1.04v11.44h-1.04zM143.26 857.8h1.04v11.44h-1.04zM155.27 857.8h1.04v11.44h-1.04zM162.27 857.8h2.04v11.44h-2.04zM168.27 857.8h1.04v11.44h-1.04zM172.28 857.8h1.04v11.44h-1.04zM174.28 857.8h1.04v11.44h-1.04zM177.28 857.8h1.04v11.44h-1.04zM186.28 857.8h2.04v11.44h-2.04zM190.29 857.8h1.04v11.44h-1.04zM200.29 857.8h1.04v11.44h-1.04zM203.29 857.8h1.04v11.44h-1.04zM46.2 869.2h1.04v11.44h-1.04zM71.22 869.2h1.04v11.44h-1.04zM76.22 869.2h1.04v11.44h-1.04zM94.23 869.2h1.04v11.44h-1.04zM105.24 869.2h1.04v11.44h-1.04zM130.25 869.2h1.04v11.44h-1.04zM151.26 869.2h1.04v11.44h-1.04zM157.27 869.2h1.04v11.44h-1.04zM159.27 869.2h1.04v11.44h-1.04zM162.27 869.2h1.04v11.44h-1.04zM197.29 869.2h1.04v11.44h-1.04zM74.22 880.6h1.04v11.44h-1.04zM133.25 880.6h1.04v11.44h-1.04zM151.26 880.6h1.04v11.44h-1.04zM160.27 880.6h1.04v11.44h-1.04zM162.27 880.6h1.04v11.44h-1.04z"/>
<path fill="#1313ff" d="M78.22 812.2h1.04v11.44h-1.04zM84.23 812.2h1.04v11.44h-1.04zM120.25 812.2h1.04v11.44h-1.04zM165.27 812.2h1.04v11.44h-1.04zM207.3 812.2h1.04v11.44h-1.04zM41.2 823.6h2.04v11.44h-2.04zM44.2 823.6h1.04v11.44h-1.04zM49.2 823.6h1.04v11.44h-1.04zM54.21 823.6h1.04v11.44h-1.04zM61.21 823.6h1.04v11.44h-1.04zM63.21 823.6h1.04v11.44h-1.04zM67.22 823.6h1.04v11.44h-1.04zM71.22 823.6h4.04v11.44h-4.04zM76.22 823.6h1.04v11.44h-1.04zM78.22 823.6h1.04v11.44h-1.04zM81.22 823.6h1.04v11.44h-1.04zM85.23 823.6h1.04v11.44h-1.04zM87.23 823.6h1.04v11.44h-1.04zM91.23 823.6h1.04v11.44h-1.04zM104.24 823.6h1.04v11.44h-1.04zM106.24 823.6h1.04v11.44h-1.04zM112.24 823.6h1.04v11.44h-1.04zM114.24 823.6h2.04v11.44h-2.04zM121.25 823.6h1.04v11.44h-1.04zM124.25 823.6h1.04v11.44h-1.04zM126.25 823.6h1.04v11.44h-1.04zM128.25 823.6h1.04v11.44h-1.04zM132.25 823.6h2.04v11.44h-2.04zM136.26 823.6h2.04v11.44h-2.04zM139.26 823.6h1.04v11.44h-1.04zM142.26 823.6h1.04v11.44h-1.04zM146.26 823.6h1.04v11.44h-1.04zM152.26 823.6h1.04v11.44h-1.04zM155.27 823.6h1.04v11.44h-1.04zM157.27 823.6h5.04v11.44h-5.04zM163.27 823.6h1.04v11.44h-1.04zM167.27 823.6h3.04v11.44h-3.04zM176.28 823.6h1.04v11.44h-1.04zM178.28 823.6h1.04v11.44h-1.04zM181.28 823.6h1.04v11.44h-1.04zM185.28 823.6h1.04v11.44h-1.04zM187.29 823.6h1.04v11.44h-1.04zM192.29 823.6h2.04v11.44h-2.04zM196.29 823.6h1.04v11.44h-1.04zM198.29 823.6h1.04v11.44h-1.04zM211.3 823.6h1.04v11.44h-1.04zM44.2 835h3.04v11.44h-3.04zM48.2 835h1.04v11.44h-1.04zM50.21 835h1.04v11.44h-1.04zM53.21 835h1.04v11.44h-1.04zM62.21 835h1.04v11.44h-1.04zM68.22 835h3.04v11.44h-3.04zM72.22 835h1.04v11.44h-1.04zM75.22 835h2.04v11.44h-2.04zM80.22 835h1.04v11.44h-1.04zM86.23 835h1.04v11.44h-1.04zM88.23 835h5.04v11.44h-5.04zM96.23 835h1.04v11.44h-1.04zM99.23 835h2.04v11.44h-2.04zM102.24 835h1.04v11.44h-1.04zM104.24 835h1.04v11.44h-1.04zM111.24 835h3.04v11.44h-3.04zM116.24 835h1.04v11.44h-1.04zM119.25 835h1.04v11.44h-1.04zM122.25 835h1.04v11.44h-1.04zM130.25 835h2.04v11.44h-2.04zM134.25 835h4.04v11.44h-4.04zM139.26 835h1.04v11.44h-1.04zM144.26 835h1.04v11.44h-1.04zM154.27 835h1.04v11.44h-1.04zM156.27 835h1.04v11.44h-1.04zM170.28 835h1.04v11.44h-1.04zM173.28 835h1.04v11.44h-1.04zM175.28 835h2.04v11.44h-2.04zM178.28 835h1.04v11.44h-1.04zM180.28 835h1.04v11.44h-1.04zM185.28 835h1.04v11.44h-1.04zM188.29 835h1.04v11.44h-1.04zM194.29 835h1.04v11.44h-1.04zM196.29 835h2.04v11.44h-2.04zM204.3 835h1.04v11.44h-1.04zM207.3 835h1.04v11.44h-1.04zM42.2 846.4h5.04v11.44h-5.04zM50.21 846.4h2.04v11.44h-2.04zM53.21 846.4h1.04v11.44h-1.04zM55.21 846.4h1.04v11.44h-1.04zM59.21 846.4h1.04v11.44h-1.04zM63.21 846.4h1.04v11.44h-1.04zM65.21 846.4h1.04v11.44h-1.04zM69.22 846.4h3.04v11.44h-3.04zM73.22 846.4h4.04v11.44h-4.04zM82.22 846.4h1.04v11.44h-1.04zM84.23 846.4h1.04v11.44h-1.04zM87.23 846.4h2.04v11.44h-2.04zM92.23 846.4h1.04v11.44h-1.04zM94.23 846.4h1.04v11.44h-1.04zM96.23 846.4h1.04v11.44h-1.04zM99.23 846.4h1.04v11.44h-1.04zM105.24 846.4h4.04v11.44h-4.04zM110.24 846.4h2.04v11.44h-2.04zM113.24 846.4h1.04v11.44h-1.04zM116.24 846.4h2.04v11.44h-2.04zM119.25 846.4h2.04v11.44h-2.04zM123.25 846.4h5.04v11.44h-5.04zM129.25 846.4h8.04v11.44h-8.04zM138.26 846.4h1.04v11.44h-1.04zM141.26 846.4h1.04v11.44h-1.04zM143.26 846.4h7.04v11.44h-7.04zM151.26 846.4h3.04v11.44h-3.04zM156.27 846.4h1.04v11.44h-1.04zM158.27 846.4h3.04v11.44h-3.04zM163.27 846.4h2.04v11.44h-2.04zM167.27 846.4h2.04v11.44h-2.04zM170.28 846.4h1.04v11.44h-1.04zM172.28 846.4h1.04v11.44h-1.04zM174.28 846.4h3.04v11.44h-3.04zM178.28 846.4h4.04v11.44h-4.04zM183.28 846.4h5.04v11.44h-5.04zM189.29 846.4h5.04v11.44h-5.04zM195.29 846.4h2.04v11.44h-2.04zM198.29 846.4h5.04v11.44h-5.04zM204.3 846.4h4.04v11.44h-4.04zM209.3 846.4h2.04v11.44h-2.04zM47.2 857.8h1.04v11.44h-1.04zM51.21 857.8h1.04v11.44h-1.04zM86.23 857.8h1.04v11.44h-1.04zM94.23 857.8h2.04v11.44h-2.04zM107.24 857.8h1.04v11.44h-1.04zM112.24 857.8h1.04v11.44h-1.04zM129.25 857.8h1.04v11.44h-1.04zM146.26 857.8h1.04v11.44h-1.04zM151.26 857.8h1.04v11.44h-1.04zM179.28 857.8h1.04v11.44h-1.04zM202.29 857.8h1.04v11.44h-1.04zM41.2 869.2h1.04v11.44h-1.04zM44.2 869.2h2.04v11.44h-2.04zM50.21 869.2h1.04v11.44h-1.04zM52.21 869.2h1.04v11.44h-1.04zM54.21 869.2h4.04v11.44h-4.04zM59.21 869.2h1.04v11.44h-1.04zM61.21 869.2h3.04v11.44h-3.04zM65.21 869.2h5.04v11.44h-5.04zM74.22 869.2h1.04v11.44h-1.04zM77.22 869.2h2.04v11.44h-2.04zM80.22 869.2h5.04v11.44h-5.04zM86.23 869.2h1.04v11.44h-1.04zM89.23 869.2h5.04v11.44h-5.04zM96.23 869.2h2.04v11.44h-2.04zM99.23 869.2h2.04v11.44h-2.04zM103.24 869.2h2.04v11.44h-2.04zM106.24 869.2h4.04v11.44h-4.04zM112.24 869.2h1.04v11.44h-1.04zM114.24 869.2h13.05v11.44h-13.05zM133.25 869.2h2.04v11.44h-2.04zM136.26 869.2h5.04v11.44h-5.04zM143.26 869.2h2.04v11.44h-2.04zM147.26 869.2h4.04v11.44h-4.04zM152.26 869.2h4.04v11.44h-4.04zM158.27 869.2h1.04v11.44h-1.04zM160.27 869.2h1.04v11.44h-1.04zM163.27 869.2h1.04v11.44h-1.04zM165.27 869.2h1.04v11.44h-1.04zM169.27 869.2h4.04v11.44h-4.04zM174.28 869.2h2.04v11.44h-2.04zM177.28 869.2h3.04v11.44h-3.04zM182.28 869.2h2.04v11.44h-2.04zM185.28 869.2h1.04v11.44h-1.04zM188.29 869.2h1.04v11.44h-1.04zM191.29 869.2h2.04v11.44h-2.04zM199.29 869.2h3.04v11.44h-3.04zM204.3 869.2h4.04v11.44h-4.04zM209.3 869.2h1.04v11.44h-1.04zM211.3 869.2h1.04v11.44h-1.04zM62.21 880.6h1.04v11.44h-1.04zM155.27 880.6h1.04v11.44h-1.04z"/>
<path fill="#0606ff" d="M91.23 812.2h1.04v11.44h-1.04zM123.25 812.2h1.04v11.44h-1.04zM43.2 823.6h1.04v11.44h-1.04zM45.2 823.6h4.04v11.44h-4.04zM50.21 823.6h4.04v11.44h-4.04zM55.21 823.6h6.04v11.44h-6.04zM62.21 823.6h1.04v11.44h-1.04zM64.21 823.6h3.04v11.44h-3.04zM68.22 823.6h3.04v11.44h-3.04zM75.22 823.6h1.04v11.44h-1.04zM77.22 823.6h1.04v11.44h-1.04zM79.22 823.6h2.04v11.44h-2.04zM82.22 823.6h3.04v11.44h-3.04zM86.23 823.6h1.04v11.44h-1.04zM88.23 823.6h3.04v11.44h-3.04zM92.23 823.6h12.05v11.44h-12.05zM105.24 823.6h1.04v11.44h-1.04zM108.24 823.6h4.04v11.44h-4.04zM113.24 823.6h1.04v11.44h-1.04zM116.24 823.6h5.04v11.44h-5.04zM122.25 823.6h2.04v11.44h-2.04zM125.25 823.6h1.04v11.44h-1.04zM127.25 823.6h1.04v11.44h-1.04zM129.25 823.6h3.04v11.44h-3.04zM134.25 823.6h2.04v11.44h-2.04zM138.26 823.6h1.04v11.44h-1.04zM140.26 823.6h2.04v11.44h-2.04zM143.26 823.6h3.04v11.44h-3.04zM147.26 823.6h5.04v11.44h-5.04zM153.27 823.6h2.04v11.44h-2.04zM156.27 823.6h1.04v11.44h-1.04zM162.27 823.6h1.04v11.44h-1.04zM165.27 823.6h2.04v11.44h-2.04zM170.28 823.6h3.04v11.44h-3.04zM174.28 823.6h2.04v11.44h-2.04zM177.28 823.6h1.04v11.44h-1.04zM179.28 823.6h2.04v11.44h-2.04zM182.28 823.6h3.04v11.44h-3.04zM186.28 823.6h1.04v11.44h-1.04zM188.29 823.6h4.04v11.44h-4.04zM194.29 823.6h2.04v11.44h-2.04zM197.29 823.6h1.04v11.44h-1.04zM199.29 823.6h12.05v11.44h-12.05zM42.2 835h2.04v11.44h-2.04zM47.2 835h1.04v11.44h-1.04zM49.2 835h1.04v11.44h-1.04zM51.21 835h2.04v11.44h-2.04zM54.21 835h7.04v11.44h-7.04zM63.21 835h5.04v11.44h-5.04zM71.22 835h1.04v11.44h-1.04zM73.22 835h2.04v11.44h-2.04zM77.22 835h3.04v11.44h-3.04zM81.22 835h5.04v11.44h-5.04zM87.23 835h1.04v11.44h-1.04zM93.23 835h3.04v11.44h-3.04zM97.23 835h2.04v11.44h-2.04zM101.24 835h1.04v11.44h-1.04zM103.24 835h1.04v11.44h-1.04zM105.24 835h3.04v11.44h-3.04zM109.24 835h2.04v11.44h-2.04zM114.24 835h2.04v11.44h-2.04zM117.24 835h2.04v11.44h-2.04zM120.25 835h2.04v11.44h-2.04zM123.25 835h7.04v11.44h-7.04zM132.25 835h2.04v11.44h-2.04zM138.26 835h1.04v11.44h-1.04zM140.26 835h4.04v11.44h-4.04zM145.26 835h9.05v11.44h-9.05zM155.27 835h1.04v11.44h-1.04zM157.27 835h7.04v11.44h-7.04zM165.27 835h5.04v11.44h-5.04zM171.28 835h1.04v11.44h-1.04zM174.28 835h1.04v11.44h-1.04zM177.28 835h1.04v11.44h-1.04zM179.28 835h1.04v11.44h-1.04zM181.28 835h4.04v11.44h-4.04zM186.28 835h2.04v11.44h-2.04zM189.29 835h1.04v11.44h-1.04zM191.29 835h3.04v11.44h-3.04zM195.29 835h1.04v11.44h-1.04zM198.29 835h6.04v11.44h-6.04zM205.3 835h2.04v11.44h-2.04zM208.3 835h4.04v11.44h-4.04zM41.2 846.4h1.04v11.44h-1.04zM47.2 846.4h3.04v11.44h-3.04zM52.21 846.4h1.04v11.44h-1.04zM54.21 846.4h1.04v11.44h-1.04zM56.21 846.4h3.04v11.44h-3.04zM60.21 846.4h2.04v11.44h-2.04zM68.22 846.4h1.04v11.44h-1.04zM72.22 846.4h1.04v11.44h-1.04zM79.22 846.4h3.04v11.44h-3.04zM83.22 846.4h1.04v11.44h-1.04zM85.23 846.4h1.04v11.44h-1.04zM90.23 846.4h2.04v11.44h-2.04zM93.23 846.4h1.04v11.44h-1.04zM95.23 846.4h1.04v11.44h-1.04zM97.23 846.4h2.04v11.44h-2.04zM101.24 846.4h4.04v11.44h-4.04zM109.24 846.4h1.04v11.44h-1.04zM112.24 846.4h1.04v11.44h-1.04zM114.24 846.4h2.04v11.44h-2.04zM118.25 846.4h1.04v11.44h-1.04zM121.25 846.4h2.04v11.44h-2.04zM128.25 846.4h1.04v11.44h-1.04zM137.26 846.4h1.04v11.44h-1.04zM139.26 846.4h2.04v11.44h-2.04zM150.26 846.4h1.04v11.44h-1.04zM155.27 846.4h1.04v11.44h-1.04zM157.27 846.4h1.04v11.44h-1.04zM162.27 846.4h1.04v11.44h-1.04zM165.27 846.4h2.04v11.44h-2.04zM169.27 846.4h1.04v11.44h-1.04zM194.29 846.4h1.04v11.44h-1.04zM197.29 846.4h1.04v11.44h-1.04zM203.29 846.4h1.04v11.44h-1.04zM208.3 846.4h1.04v11.44h-1.04zM116.24 857.8h1.04v11.44h-1.04zM119.25 857.8h1.04v11.44h-1.04zM154.27 857.8h1.04v11.44h-1.04zM205.3 857.8h1.04v11.44h-1.04zM43.2 869.2h1.04v11.44h-1.04zM47.2 869.2h3.04v11.44h-3.04zM51.21 869.2h1.04v11.44h-1.04zM53.21 869.2h1.04v11.44h-1.04zM58.21 869.2h1.04v11.44h-1.04zM60.21 869.2h1.04v11.44h-1.04zM64.21 869.2h1.04v11.44h-1.04zM70.22 869.2h1.04v11.44h-1.04zM73.22 869.2h1.04v11.44h-1.04zM75.22 869.2h1.04v11.44h-1.04zM79.22 869.2h1.04v11.44h-1.04zM85.23 869.2h1.04v11.44h-1.04zM87.23 869.2h2.04v11.44h-2.04zM95.23 869.2h1.04v11.44h-1.04zM98.23 869.2h1.04v11.44h-1.04zM101.24 869.2h2.04v11.44h-2.04zM110.24 869.2h2.04v11.44h-2.04zM113.24 869.2h1.04v11.44h-1.04zM127.25 869.2h3.04v11.44h-3.04zM131.25 869.2h2.04v11.44h-2.04zM135.25 869.2h1.04v11.44h-1.04zM142.26 869.2h1.04v11.44h-1.04zM145.26 869.2h2.04v11.44h-2.04zM156.27 869.2h1.04v11.44h-1.04zM161.27 869.2h1.04v11.44h-1.04zM164.27 869.2h1.04v11.44h-1.04zM166.27 869.2h3.04v11.44h-3.04zM173.28 869.2h1.04v11.44h-1.04zM176.28 869.2h1.04v11.44h-1.04zM180.28 869.2h2.04v11.44h-2.04zM184.28 869.2h1.04v11.44h-1.04zM186.28 869.2h2.04v11.44h-2.04zM189.29 869.2h2.04v11.44h-2.04zM193.29 869.2h4.04v11.44h-4.04zM198.29 869.2h1.04v11.44h-1.04zM202.29 869.2h2.04v11.44h-2.04zM208.3 869.2h1.04v11.44h-1.04zM210.3 869.2h1.04v11.44h-1.04zM86.23 880.6h1.04v11.44h-1.04z"/>
</g></g>
<rect x="31" y="800.8" width="7.2" height="11.4" fill="#d3d3d3"/>
<rect x="31" y="812.2" width="7.2" height="79.8" fill="#000"/>
<rect x="31.45" y="892.45" width="6.3" height="10.5" fill="#d3d3d3" stroke="#111" stroke-width="0.9"/>
<rect x="31" y="903.4" width="7.2" height="22.8" fill="#d3d3d3"/>
<rect x="31" y="937.6" width="7.2" height="11.4" fill="#d3d3d3"/>
<line x1="4.4" y1="836.4" x2="4.4" y2="861.2" stroke="#000" stroke-width="1.3"/>
<path d="M0.15 860.2L8.65 860.2L4.4 874.8z" fill="#000"/>
<text x="16.2" y="853" font-size="8.6" text-anchor="middle" transform="rotate(-90 16.2 853)">FGFR4 promoter region (+ strand)</text>
<text x="27.2" y="798" font-size="8.6" text-anchor="middle" transform="rotate(-90 27.2 798)">Shore</text>
<text x="27.2" y="850.4" font-size="8.6" text-anchor="middle" transform="rotate(-90 27.2 850.4)">Promoter</text>
<text x="27.2" y="906.6" font-size="8.6" text-anchor="middle" transform="rotate(-90 27.2 906.6)">Shore</text>
<line x1="212.3" y1="896.7" x2="224.2" y2="882.7" stroke="#000" stroke-width="0.8"/>
<text x="228.4" y="860" font-size="7.2" text-anchor="middle" transform="rotate(-90 228.4 860)">cg00618323</text>
<text x="255.8" y="515.9" font-size="17" font-weight="bold">F)</text>
<line x1="305.4" y1="693.6" x2="310.4" y2="693.6" stroke="#000" stroke-width="0.8"/>
<text x="304" y="696.1" font-size="8.2" text-anchor="end">0</text>
<line x1="305.4" y1="663.92" x2="310.4" y2="663.92" stroke="#000" stroke-width="0.8"/>
<text x="304" y="666.42" font-size="8.2" text-anchor="end">20</text>
<line x1="305.4" y1="634.24" x2="310.4" y2="634.24" stroke="#000" stroke-width="0.8"/>
<text x="304" y="636.74" font-size="8.2" text-anchor="end">40</text>
<line x1="305.4" y1="604.56" x2="310.4" y2="604.56" stroke="#000" stroke-width="0.8"/>
<text x="304" y="607.06" font-size="8.2" text-anchor="end">60</text>
<line x1="305.4" y1="574.88" x2="310.4" y2="574.88" stroke="#000" stroke-width="0.8"/>
<text x="304" y="577.38" font-size="8.2" text-anchor="end">80</text>
<line x1="305.4" y1="545.2" x2="310.4" y2="545.2" stroke="#000" stroke-width="0.8"/>
<text x="304" y="547.7" font-size="8.2" text-anchor="end">100</text>
<line x1="333.2" y1="626.82" x2="333.2" y2="545.2" stroke="#000" stroke-width="0.8" stroke-dasharray="1.2 0.8"/>
<line x1="333.2" y1="683.51" x2="333.2" y2="693.6" stroke="#000" stroke-width="0.8" stroke-dasharray="1.2 0.8"/>
<line x1="324.8" y1="545.2" x2="341.6" y2="545.2" stroke="#000" stroke-width="0.9"/>
<line x1="324.8" y1="693.6" x2="341.6" y2="693.6" stroke="#000" stroke-width="0.9"/>
<rect x="316.9" y="626.82" width="32.6" height="56.69" fill="#ffa500" stroke="#000" stroke-width="0.8"/>
<line x1="316.9" y1="660.21" x2="349.5" y2="660.21" stroke="#000" stroke-width="1.0"/>
<line x1="373.4" y1="688.85" x2="373.4" y2="682.92" stroke="#000" stroke-width="0.8" stroke-dasharray="1.2 0.8"/>
<line x1="373.4" y1="693.01" x2="373.4" y2="693.6" stroke="#000" stroke-width="0.8" stroke-dasharray="1.2 0.8"/>
<line x1="365.1" y1="682.92" x2="381.7" y2="682.92" stroke="#000" stroke-width="0.9"/>
<line x1="365.1" y1="693.6" x2="381.7" y2="693.6" stroke="#000" stroke-width="0.9"/>
<rect x="357" y="688.85" width="32.8" height="4.16" fill="#d3d3d3" stroke="#000" stroke-width="0.8"/>
<line x1="357" y1="691.52" x2="389.8" y2="691.52" stroke="#000" stroke-width="1.0"/>
<circle cx="373.4" cy="682.47" r="0.9" fill="#000"/>
<circle cx="373.4" cy="681.73" r="0.9" fill="#000"/>
<circle cx="373.4" cy="680.99" r="0.9" fill="#000"/>
<circle cx="373.4" cy="680.24" r="0.9" fill="#000"/>
<circle cx="373.4" cy="679.5" r="0.9" fill="#000"/>
<circle cx="373.4" cy="678.76" r="0.9" fill="#000"/>
<circle cx="373.4" cy="678.02" r="0.9" fill="#000"/>
<circle cx="373.4" cy="677.28" r="0.9" fill="#000"/>
<circle cx="373.4" cy="676.53" r="0.9" fill="#000"/>
<circle cx="373.4" cy="675.79" r="0.9" fill="#000"/>
<circle cx="373.4" cy="675.05" r="0.9" fill="#000"/>
<circle cx="373.4" cy="674.31" r="0.9" fill="#000"/>
<circle cx="373.4" cy="673.57" r="0.9" fill="#000"/>
<circle cx="373.4" cy="672.82" r="0.9" fill="#000"/>
<circle cx="373.4" cy="672.08" r="0.9" fill="#000"/>
<circle cx="373.4" cy="671.34" r="0.9" fill="#000"/>
<circle cx="373.4" cy="670.6" r="0.9" fill="#000"/>
<circle cx="373.4" cy="669.86" r="0.9" fill="#000"/>
<circle cx="373.4" cy="669.11" r="0.9" fill="#000"/>
<circle cx="373.4" cy="668.37" r="0.9" fill="#000"/>
<circle cx="373.4" cy="667.63" r="0.9" fill="#000"/>
<circle cx="373.4" cy="666.89" r="0.9" fill="#000"/>
<circle cx="373.4" cy="666.15" r="0.9" fill="#000"/>
<circle cx="373.4" cy="665.4" r="0.9" fill="#000"/>
<circle cx="373.4" cy="664.66" r="0.9" fill="#000"/>
<circle cx="373.4" cy="663.92" r="0.9" fill="#000"/>
<circle cx="373.4" cy="663.18" r="0.9" fill="#000"/>
<circle cx="373.4" cy="662.44" r="0.9" fill="#000"/>
<circle cx="373.4" cy="661.25" r="0.9" fill="#000"/>
<circle cx="373.4" cy="657.98" r="0.9" fill="#000"/>
<circle cx="373.4" cy="655.02" r="0.9" fill="#000"/>
<circle cx="373.4" cy="650.56" r="0.9" fill="#000"/>
<circle cx="373.4" cy="644.63" r="0.9" fill="#000"/>
<circle cx="373.4" cy="637.95" r="0.9" fill="#000"/>
<circle cx="373.4" cy="636.47" r="0.9" fill="#000"/>
<circle cx="373.4" cy="619.4" r="0.9" fill="#000"/>
<rect x="310.4" y="539.1" width="86.5" height="161.1" fill="none" stroke="#000" stroke-width="0.9"/>
<line x1="333.2" y1="539.1" x2="333.2" y2="535.5" stroke="#000" stroke-width="0.8"/>
<line x1="333.2" y1="700.2" x2="333.2" y2="703.8" stroke="#000" stroke-width="0.8"/>
<text x="333.2" y="532" font-size="8.6" text-anchor="middle">36</text>
<line x1="373.4" y1="539.1" x2="373.4" y2="535.5" stroke="#000" stroke-width="0.8"/>
<line x1="373.4" y1="700.2" x2="373.4" y2="703.8" stroke="#000" stroke-width="0.8"/>
<text x="373.4" y="532" font-size="8.6" text-anchor="middle">609</text>
<text x="333.2" y="712.7" font-size="8.6" text-anchor="middle">Hypo</text>
<text x="373.4" y="712.7" font-size="8.6" text-anchor="middle">Hyper</text>
<text x="354.7" y="518.9" font-size="8.6" text-anchor="middle">All TCGA</text>
<text x="350.3" y="726.6" font-size="8.6" text-anchor="middle">shore CpG clusters</text>
<text x="284.7" y="621.4" font-size="8.6" text-anchor="middle" transform="rotate(-90 284.7 621.4)">FGFR4 FPKM</text>
<text x="344.6" y="561.5" font-size="8.6">Wilcoxon’s</text>
<text x="344.6" y="570.9" font-size="8.6">p=4e-12</text>
<text x="255.3" y="774.6" font-size="17" font-weight="bold">G)</text>
<text x="348" y="794.8" font-size="10" text-anchor="middle">All TCGA tumors</text>
<text x="348.3" y="806" font-size="10" text-anchor="middle">Chi-square p=3.5e-09</text>
<line x1="299.5" y1="935.8" x2="299.5" y2="815.4" stroke="#000" stroke-width="0.8"/>
<line x1="298" y1="935.8" x2="299.5" y2="935.8" stroke="#000" stroke-width="0.8"/>
<text x="295.9" y="938.5" font-size="8.4" text-anchor="end">0.0</text>
<line x1="298" y1="911.72" x2="299.5" y2="911.72" stroke="#000" stroke-width="0.8"/>
<text x="295.9" y="914.42" font-size="8.4" text-anchor="end">0.2</text>
<line x1="298" y1="887.64" x2="299.5" y2="887.64" stroke="#000" stroke-width="0.8"/>
<text x="295.9" y="890.34" font-size="8.4" text-anchor="end">0.4</text>
<line x1="298" y1="863.56" x2="299.5" y2="863.56" stroke="#000" stroke-width="0.8"/>
<text x="295.9" y="866.26" font-size="8.4" text-anchor="end">0.6</text>
<line x1="298" y1="839.48" x2="299.5" y2="839.48" stroke="#000" stroke-width="0.8"/>
<text x="295.9" y="842.18" font-size="8.4" text-anchor="end">0.8</text>
<line x1="298" y1="815.4" x2="299.5" y2="815.4" stroke="#000" stroke-width="0.8"/>
<text x="295.9" y="818.1" font-size="8.4" text-anchor="end">1.0</text>
<rect x="303.2" y="929.18" width="40.4" height="6.62" fill="#ff0000" stroke="#000" stroke-width="0.8"/>
<rect x="303.2" y="878.01" width="40.4" height="51.17" fill="#a020f0" stroke="#000" stroke-width="0.8"/>
<rect x="303.2" y="863.56" width="40.4" height="14.45" fill="#0000ff" stroke="#000" stroke-width="0.8"/>
<rect x="303.2" y="826.24" width="40.4" height="37.32" fill="#add8e6" stroke="#000" stroke-width="0.8"/>
<rect x="303.2" y="815.4" width="40.4" height="10.84" fill="#00ff00" stroke="#000" stroke-width="0.8"/>
<rect x="352.2" y="912.92" width="40.2" height="22.88" fill="#ff0000" stroke="#000" stroke-width="0.8"/>
<rect x="352.2" y="902.69" width="40.2" height="10.23" fill="#a020f0" stroke="#000" stroke-width="0.8"/>
<rect x="352.2" y="862.96" width="40.2" height="39.73" fill="#0000ff" stroke="#000" stroke-width="0.8"/>
<rect x="352.2" y="823.23" width="40.2" height="39.73" fill="#add8e6" stroke="#000" stroke-width="0.8"/>
<rect x="352.2" y="815.4" width="40.2" height="7.83" fill="#00ff00" stroke="#000" stroke-width="0.8"/>
<text x="280.1" y="875.4" font-size="9.9" text-anchor="middle" transform="rotate(-90 280.1 875.4)">proportion</text>
<text x="321.2" y="946.9" font-size="8.5" text-anchor="middle">Hypo</text>
<text x="372.5" y="946.9" font-size="8.5" text-anchor="middle">Hyper</text>
<text x="345.6" y="962.4" font-size="8.6" text-anchor="middle">shore CpG clusters</text>
<text x="426.9" y="515.9" font-size="17" font-weight="bold">H)</text>
<line x1="462.4" y1="693.5" x2="464.4" y2="693.5" stroke="#000" stroke-width="0.8"/>
<text x="460" y="696" font-size="8.1" text-anchor="end">0</text>
<line x1="462.4" y1="657.3" x2="464.4" y2="657.3" stroke="#000" stroke-width="0.8"/>
<text x="460" y="659.8" font-size="8.1" text-anchor="end">10</text>
<line x1="462.4" y1="621.1" x2="464.4" y2="621.1" stroke="#000" stroke-width="0.8"/>
<text x="460" y="623.6" font-size="8.1" text-anchor="end">20</text>
<line x1="462.4" y1="584.9" x2="464.4" y2="584.9" stroke="#000" stroke-width="0.8"/>
<text x="460" y="587.4" font-size="8.1" text-anchor="end">30</text>
<line x1="462.4" y1="548.7" x2="464.4" y2="548.7" stroke="#000" stroke-width="0.8"/>
<text x="460" y="551.2" font-size="8.1" text-anchor="end">40</text>
<line x1="488.1" y1="553.77" x2="488.1" y2="545.08" stroke="#000" stroke-width="0.8" stroke-dasharray="1.2 0.8"/>
<line x1="488.1" y1="630.51" x2="488.1" y2="691.33" stroke="#000" stroke-width="0.8" stroke-dasharray="1.2 0.8"/>
<line x1="479.4" y1="545.08" x2="496.8" y2="545.08" stroke="#000" stroke-width="0.9"/>
<line x1="479.4" y1="691.33" x2="496.8" y2="691.33" stroke="#000" stroke-width="0.9"/>
<rect x="471.8" y="553.77" width="32.6" height="76.74" fill="#ffa500" stroke="#000" stroke-width="0.8"/>
<line x1="471.8" y1="553.77" x2="504.4" y2="553.77" stroke="#000" stroke-width="1.0"/>
<circle cx="488.1" cy="545.08" r="0.9" fill="#000"/>
<circle cx="490.1" cy="553.77" r="0.9" fill="#000"/>
<circle cx="486.1" cy="630.51" r="0.9" fill="#000"/>
<circle cx="488.1" cy="691.33" r="0.9" fill="#000"/>
<line x1="528.4" y1="681.19" x2="528.4" y2="676.49" stroke="#000" stroke-width="0.8" stroke-dasharray="1.2 0.8"/>
<line x1="528.4" y1="690.6" x2="528.4" y2="693.5" stroke="#000" stroke-width="0.8" stroke-dasharray="1.2 0.8"/>
<line x1="520.1" y1="676.49" x2="536.7" y2="676.49" stroke="#000" stroke-width="0.9"/>
<line x1="520.1" y1="693.5" x2="536.7" y2="693.5" stroke="#000" stroke-width="0.9"/>
<rect x="512.1" y="681.19" width="32.6" height="9.41" fill="#d3d3d3" stroke="#000" stroke-width="0.8"/>
<line x1="512.1" y1="686.26" x2="544.7" y2="686.26" stroke="#000" stroke-width="1.0"/>
<circle cx="529.4" cy="553.04" r="0.9" fill="#000"/>
<circle cx="525.4" cy="593.95" r="0.9" fill="#000"/>
<circle cx="526.4" cy="605.9" r="0.9" fill="#000"/>
<circle cx="529.4" cy="615.67" r="0.9" fill="#000"/>
<circle cx="531.4" cy="624.72" r="0.9" fill="#000"/>
<circle cx="525.4" cy="660.2" r="0.9" fill="#000"/>
<circle cx="528.4" cy="653.68" r="0.9" fill="#000"/>
<circle cx="529.4" cy="657.3" r="0.9" fill="#000"/>
<circle cx="526.75" cy="680.26" r="0.9" fill="#000"/>
<circle cx="526.79" cy="677.81" r="0.9" fill="#000"/>
<circle cx="528.2" cy="693.02" r="0.9" fill="#000"/>
<circle cx="525.24" cy="685.75" r="0.9" fill="#000"/>
<circle cx="530.3" cy="678.5" r="0.9" fill="#000"/>
<circle cx="527.69" cy="691.61" r="0.9" fill="#000"/>
<circle cx="527.37" cy="684.45" r="0.9" fill="#000"/>
<circle cx="528.6" cy="683.94" r="0.9" fill="#000"/>
<circle cx="529.38" cy="688.85" r="0.9" fill="#000"/>
<circle cx="528.48" cy="678.24" r="0.9" fill="#000"/>
<circle cx="528.48" cy="680.23" r="0.9" fill="#000"/>
<circle cx="527.58" cy="691.19" r="0.9" fill="#000"/>
<circle cx="527.86" cy="693.47" r="0.9" fill="#000"/>
<circle cx="527.91" cy="678.99" r="0.9" fill="#000"/>
<circle cx="528.65" cy="677.14" r="0.9" fill="#000"/>
<circle cx="529.34" cy="678.97" r="0.9" fill="#000"/>
<circle cx="527.53" cy="684.52" r="0.9" fill="#000"/>
<circle cx="531.86" cy="682.21" r="0.9" fill="#000"/>
<circle cx="529.33" cy="682" r="0.9" fill="#000"/>
<circle cx="531.6" cy="677.4" r="0.9" fill="#000"/>
<circle cx="529.33" cy="687.49" r="0.9" fill="#000"/>
<circle cx="527.67" cy="690.74" r="0.9" fill="#000"/>
<circle cx="528.71" cy="688.48" r="0.9" fill="#000"/>
<circle cx="528.81" cy="683.46" r="0.9" fill="#000"/>
<circle cx="530.51" cy="687.87" r="0.9" fill="#000"/>
<circle cx="528.44" cy="688.34" r="0.9" fill="#000"/>
<circle cx="529.07" cy="688.24" r="0.9" fill="#000"/>
<circle cx="526.94" cy="685.49" r="0.9" fill="#000"/>
<circle cx="528.27" cy="677.26" r="0.9" fill="#000"/>
<circle cx="527.94" cy="693.12" r="0.9" fill="#000"/>
<circle cx="528.4" cy="693.2" r="0.9" fill="#000"/>
<circle cx="525.7" cy="680.38" r="0.9" fill="#000"/>
<circle cx="527.17" cy="693.35" r="0.9" fill="#000"/>
<circle cx="529.77" cy="692.72" r="0.9" fill="#000"/>
<rect x="464.4" y="539.1" width="87.1" height="160.5" fill="none" stroke="#000" stroke-width="0.9"/>
<line x1="488.1" y1="539.1" x2="488.1" y2="535.5" stroke="#000" stroke-width="0.8"/>
<line x1="488.1" y1="699.6" x2="488.1" y2="703.2" stroke="#000" stroke-width="0.8"/>
<text x="488.1" y="533" font-size="8.6" text-anchor="middle">5</text>
<line x1="528.4" y1="539.1" x2="528.4" y2="535.5" stroke="#000" stroke-width="0.8"/>
<line x1="528.4" y1="699.6" x2="528.4" y2="703.2" stroke="#000" stroke-width="0.8"/>
<text x="528.4" y="533" font-size="8.6" text-anchor="middle">49</text>
<text x="488.1" y="713.8" font-size="8.6" text-anchor="middle">Hypo</text>
<text x="528.4" y="713.8" font-size="8.6" text-anchor="middle">Hyper</text>
<text x="511.3" y="520.7" font-size="8.6" text-anchor="middle">ERpHER2p TCGA</text>
<text x="506.4" y="728" font-size="8.6" text-anchor="middle">shore CpG clusters</text>
<text x="439.6" y="624.6" font-size="8.6" text-anchor="middle" transform="rotate(-90 439.6 624.6)">FGFR4 FPKM</text>
<text x="509" y="638.3" font-size="8.6">Wilcoxon’s</text>
<text x="509" y="648.2" font-size="8.6">p=0.02</text>
<line x1="594.5" y1="694.6" x2="596.5" y2="694.6" stroke="#000" stroke-width="0.8"/>
<text x="592.4" y="697.1" font-size="8.1" text-anchor="end">0</text>
<line x1="594.5" y1="668.2" x2="596.5" y2="668.2" stroke="#000" stroke-width="0.8"/>
<text x="592.4" y="670.7" font-size="8.1" text-anchor="end">10</text>
<line x1="594.5" y1="641.8" x2="596.5" y2="641.8" stroke="#000" stroke-width="0.8"/>
<text x="592.4" y="644.3" font-size="8.1" text-anchor="end">20</text>
<line x1="594.5" y1="615.4" x2="596.5" y2="615.4" stroke="#000" stroke-width="0.8"/>
<text x="592.4" y="617.9" font-size="8.1" text-anchor="end">30</text>
<line x1="594.5" y1="589" x2="596.5" y2="589" stroke="#000" stroke-width="0.8"/>
<text x="592.4" y="591.5" font-size="8.1" text-anchor="end">40</text>
<line x1="594.5" y1="562.6" x2="596.5" y2="562.6" stroke="#000" stroke-width="0.8"/>
<text x="592.4" y="565.1" font-size="8.1" text-anchor="end">50</text>
<line x1="619.8" y1="556.53" x2="619.8" y2="545.18" stroke="#000" stroke-width="0.8" stroke-dasharray="1.2 0.8"/>
<line x1="619.8" y1="606.16" x2="619.8" y2="639.95" stroke="#000" stroke-width="0.8" stroke-dasharray="1.2 0.8"/>
<line x1="611.3" y1="545.18" x2="628.3" y2="545.18" stroke="#000" stroke-width="0.9"/>
<line x1="611.3" y1="639.95" x2="628.3" y2="639.95" stroke="#000" stroke-width="0.9"/>
<rect x="603.8" y="556.53" width="32" height="49.63" fill="#ffa500" stroke="#000" stroke-width="0.8"/>
<line x1="603.8" y1="570.52" x2="635.8" y2="570.52" stroke="#000" stroke-width="1.0"/>
<circle cx="617.8" cy="545.18" r="0.9" fill="#000"/>
<circle cx="621.8" cy="567.88" r="0.9" fill="#000"/>
<circle cx="620.8" cy="573.16" r="0.9" fill="#000"/>
<circle cx="616.8" cy="639.95" r="0.9" fill="#000"/>
<line x1="660.3" y1="663.18" x2="660.3" y2="639.16" stroke="#000" stroke-width="0.8" stroke-dasharray="1.2 0.8"/>
<line x1="660.3" y1="689.32" x2="660.3" y2="694.07" stroke="#000" stroke-width="0.8" stroke-dasharray="1.2 0.8"/>
<line x1="651.7" y1="639.16" x2="668.9" y2="639.16" stroke="#000" stroke-width="0.9"/>
<line x1="651.7" y1="694.07" x2="668.9" y2="694.07" stroke="#000" stroke-width="0.9"/>
<rect x="643.9" y="663.18" width="32.8" height="26.14" fill="#d3d3d3" stroke="#000" stroke-width="0.8"/>
<line x1="643.9" y1="685.36" x2="676.7" y2="685.36" stroke="#000" stroke-width="1.0"/>
<circle cx="660.3" cy="608.8" r="0.9" fill="#000"/>
<circle cx="657.3" cy="639.16" r="0.9" fill="#000"/>
<circle cx="661.3" cy="656.32" r="0.9" fill="#000"/>
<circle cx="663.3" cy="658.96" r="0.9" fill="#000"/>
<circle cx="660.3" cy="664.24" r="0.9" fill="#000"/>
<circle cx="657.3" cy="673.48" r="0.9" fill="#000"/>
<circle cx="662.3" cy="673.48" r="0.9" fill="#000"/>
<circle cx="659.3" cy="682.72" r="0.9" fill="#000"/>
<circle cx="663.3" cy="684.57" r="0.9" fill="#000"/>
<circle cx="657.3" cy="686.68" r="0.9" fill="#000"/>
<circle cx="661.3" cy="688" r="0.9" fill="#000"/>
<circle cx="658.3" cy="690.64" r="0.9" fill="#000"/>
<circle cx="662.3" cy="691.96" r="0.9" fill="#000"/>
<circle cx="660.3" cy="694.07" r="0.9" fill="#000"/>
<rect x="596.5" y="539.6" width="87.7" height="160.4" fill="none" stroke="#000" stroke-width="0.9"/>
<line x1="619.8" y1="539.6" x2="619.8" y2="536" stroke="#000" stroke-width="0.8"/>
<line x1="619.8" y1="700" x2="619.8" y2="703.6" stroke="#000" stroke-width="0.8"/>
<text x="619.8" y="532.5" font-size="8.6" text-anchor="middle">4</text>
<line x1="660.3" y1="539.6" x2="660.3" y2="536" stroke="#000" stroke-width="0.8"/>
<line x1="660.3" y1="700" x2="660.3" y2="703.6" stroke="#000" stroke-width="0.8"/>
<text x="660.3" y="532.5" font-size="8.6" text-anchor="middle">18</text>
<text x="619.8" y="713.7" font-size="8.6" text-anchor="middle">Hypo</text>
<text x="660.3" y="713.7" font-size="8.6" text-anchor="middle">Hyper</text>
<text x="644.2" y="520.7" font-size="8.6" text-anchor="middle">ERnHER2p TCGA</text>
<text x="639.8" y="728" font-size="8.6" text-anchor="middle">shore CpG clusters</text>
<text x="573.4" y="624.5" font-size="8.6" text-anchor="middle" transform="rotate(-90 573.4 624.5)">FGFR4 FPKM</text>
<text x="639.7" y="575" font-size="8.6">Wilcoxon’s</text>
<text x="639.7" y="584.4" font-size="8.6">p=0.001</text>
<line x1="462.7" y1="939.1" x2="464.7" y2="939.1" stroke="#000" stroke-width="0.8"/>
<text x="460.1" y="941.6" font-size="8.3" text-anchor="end">0</text>
<line x1="462.7" y1="902.65" x2="464.7" y2="902.65" stroke="#000" stroke-width="0.8"/>
<text x="460.1" y="905.15" font-size="8.3" text-anchor="end">10</text>
<line x1="462.7" y1="866.2" x2="464.7" y2="866.2" stroke="#000" stroke-width="0.8"/>
<text x="460.1" y="868.7" font-size="8.3" text-anchor="end">20</text>
<line x1="462.7" y1="829.75" x2="464.7" y2="829.75" stroke="#000" stroke-width="0.8"/>
<text x="460.1" y="832.25" font-size="8.3" text-anchor="end">30</text>
<line x1="462.7" y1="793.3" x2="464.7" y2="793.3" stroke="#000" stroke-width="0.8"/>
<text x="460.1" y="795.8" font-size="8.3" text-anchor="end">40</text>
<line x1="487.9" y1="790.38" x2="487.9" y2="790.38" stroke="#000" stroke-width="0.8" stroke-dasharray="1.2 0.8"/>
<line x1="487.9" y1="798.4" x2="487.9" y2="798.4" stroke="#000" stroke-width="0.8" stroke-dasharray="1.2 0.8"/>
<line x1="479.9" y1="790.38" x2="495.9" y2="790.38" stroke="#000" stroke-width="0.9"/>
<line x1="479.9" y1="798.4" x2="495.9" y2="798.4" stroke="#000" stroke-width="0.9"/>
<rect x="471.6" y="790.38" width="32.6" height="8.02" fill="#ffa500" stroke="#000" stroke-width="0.8"/>
<line x1="471.6" y1="794.39" x2="504.2" y2="794.39" stroke="#000" stroke-width="1.0"/>
<circle cx="487.9" cy="790.38" r="0.9" fill="#000"/>
<circle cx="487.9" cy="798.4" r="0.9" fill="#000"/>
<line x1="528.8" y1="925.25" x2="528.8" y2="924.16" stroke="#000" stroke-width="0.8" stroke-dasharray="1.2 0.8"/>
<line x1="528.8" y1="932.17" x2="528.8" y2="939.1" stroke="#000" stroke-width="0.8" stroke-dasharray="1.2 0.8"/>
<line x1="520.6" y1="924.16" x2="537" y2="924.16" stroke="#000" stroke-width="0.9"/>
<line x1="520.6" y1="939.1" x2="537" y2="939.1" stroke="#000" stroke-width="0.9"/>
<rect x="512.5" y="925.25" width="32.6" height="6.93" fill="#d3d3d3" stroke="#000" stroke-width="0.8"/>
<line x1="512.5" y1="928.53" x2="545.1" y2="928.53" stroke="#000" stroke-width="1.0"/>
<circle cx="527.8" cy="839.59" r="0.9" fill="#000"/>
<circle cx="531.8" cy="851.62" r="0.9" fill="#000"/>
<circle cx="526.8" cy="924.52" r="0.9" fill="#000"/>
<circle cx="530.8" cy="926.34" r="0.9" fill="#000"/>
<circle cx="527.8" cy="929.99" r="0.9" fill="#000"/>
<circle cx="529.8" cy="931.81" r="0.9" fill="#000"/>
<circle cx="528.8" cy="933.63" r="0.9" fill="#000"/>
<circle cx="530.8" cy="938.01" r="0.9" fill="#000"/>
<rect x="464.7" y="784.4" width="87.7" height="161.2" fill="none" stroke="#000" stroke-width="0.9"/>
<line x1="487.9" y1="784.4" x2="487.9" y2="780.8" stroke="#000" stroke-width="0.8"/>
<line x1="487.9" y1="945.6" x2="487.9" y2="949.2" stroke="#000" stroke-width="0.8"/>
<text x="487.9" y="776.5" font-size="8.6" text-anchor="middle">2</text>
<line x1="528.8" y1="784.4" x2="528.8" y2="780.8" stroke="#000" stroke-width="0.8"/>
<line x1="528.8" y1="945.6" x2="528.8" y2="949.2" stroke="#000" stroke-width="0.8"/>
<text x="528.8" y="776.5" font-size="8.6" text-anchor="middle">11</text>
<text x="487.9" y="957.4" font-size="8.6" text-anchor="middle">Hypo</text>
<text x="528.8" y="957.4" font-size="8.6" text-anchor="middle">Hyper</text>
<text x="502.9" y="766.8" font-size="8.6" text-anchor="middle">ERpHER2p &amp; HER2E TCGA</text>
<text x="506.5" y="972.5" font-size="8.6" text-anchor="middle">shore CpG clusters</text>
<text x="439.6" y="869.5" font-size="8.6" text-anchor="middle" transform="rotate(-90 439.6 869.5)">FGFR4 FPKM</text>
<text x="479.6" y="894.6" font-size="8.6">Wilcoxon’s</text>
<text x="479.6" y="905.2" font-size="8.6">p=0.03</text>
<line x1="593.8" y1="940.2" x2="595.8" y2="940.2" stroke="#000" stroke-width="0.8"/>
<text x="591.4" y="942.7" font-size="8.3" text-anchor="end">0</text>
<line x1="593.8" y1="913.8" x2="595.8" y2="913.8" stroke="#000" stroke-width="0.8"/>
<text x="591.4" y="916.3" font-size="8.3" text-anchor="end">10</text>
<line x1="593.8" y1="887.4" x2="595.8" y2="887.4" stroke="#000" stroke-width="0.8"/>
<text x="591.4" y="889.9" font-size="8.3" text-anchor="end">20</text>
<line x1="593.8" y1="861" x2="595.8" y2="861" stroke="#000" stroke-width="0.8"/>
<text x="591.4" y="863.5" font-size="8.3" text-anchor="end">30</text>
<line x1="593.8" y1="834.6" x2="595.8" y2="834.6" stroke="#000" stroke-width="0.8"/>
<text x="591.4" y="837.1" font-size="8.3" text-anchor="end">40</text>
<line x1="593.8" y1="808.2" x2="595.8" y2="808.2" stroke="#000" stroke-width="0.8"/>
<text x="591.4" y="810.7" font-size="8.3" text-anchor="end">50</text>
<line x1="619.3" y1="802.13" x2="619.3" y2="791.04" stroke="#000" stroke-width="0.8" stroke-dasharray="1.2 0.8"/>
<line x1="619.3" y1="852.02" x2="619.3" y2="885.55" stroke="#000" stroke-width="0.8" stroke-dasharray="1.2 0.8"/>
<line x1="611.4" y1="791.04" x2="627.2" y2="791.04" stroke="#000" stroke-width="0.9"/>
<line x1="611.4" y1="885.55" x2="627.2" y2="885.55" stroke="#000" stroke-width="0.9"/>
<rect x="602.7" y="802.13" width="33.2" height="49.9" fill="#ffa500" stroke="#000" stroke-width="0.8"/>
<line x1="602.7" y1="815.33" x2="635.9" y2="815.33" stroke="#000" stroke-width="1.0"/>
<circle cx="617.3" cy="791.04" r="0.9" fill="#000"/>
<circle cx="618.3" cy="812.69" r="0.9" fill="#000"/>
<circle cx="621.3" cy="818.76" r="0.9" fill="#000"/>
<circle cx="621.3" cy="885.55" r="0.9" fill="#000"/>
<line x1="660" y1="906.67" x2="660" y2="884.23" stroke="#000" stroke-width="0.8" stroke-dasharray="1.2 0.8"/>
<line x1="660" y1="933.07" x2="660" y2="939.67" stroke="#000" stroke-width="0.8" stroke-dasharray="1.2 0.8"/>
<line x1="651.5" y1="884.23" x2="668.5" y2="884.23" stroke="#000" stroke-width="0.9"/>
<line x1="651.5" y1="939.67" x2="668.5" y2="939.67" stroke="#000" stroke-width="0.9"/>
<rect x="643.6" y="906.67" width="32.8" height="26.4" fill="#d3d3d3" stroke="#000" stroke-width="0.8"/>
<line x1="643.6" y1="927.26" x2="676.4" y2="927.26" stroke="#000" stroke-width="1.0"/>
<circle cx="660" cy="854.4" r="0.9" fill="#000"/>
<circle cx="657" cy="884.23" r="0.9" fill="#000"/>
<circle cx="660" cy="901.92" r="0.9" fill="#000"/>
<circle cx="664" cy="904.56" r="0.9" fill="#000"/>
<circle cx="659" cy="909.05" r="0.9" fill="#000"/>
<circle cx="658" cy="919.08" r="0.9" fill="#000"/>
<circle cx="662" cy="919.08" r="0.9" fill="#000"/>
<circle cx="661" cy="927.26" r="0.9" fill="#000"/>
<circle cx="657" cy="930.96" r="0.9" fill="#000"/>
<circle cx="660" cy="932.28" r="0.9" fill="#000"/>
<circle cx="662" cy="933.34" r="0.9" fill="#000"/>
<circle cx="658" cy="934.92" r="0.9" fill="#000"/>
<circle cx="661" cy="937.03" r="0.9" fill="#000"/>
<circle cx="656" cy="937.56" r="0.9" fill="#000"/>
<circle cx="660" cy="939.67" r="0.9" fill="#000"/>
<rect x="595.8" y="784.8" width="87.6" height="160.9" fill="none" stroke="#000" stroke-width="0.9"/>
<line x1="619.3" y1="784.8" x2="619.3" y2="781.2" stroke="#000" stroke-width="0.8"/>
<line x1="619.3" y1="945.7" x2="619.3" y2="949.3" stroke="#000" stroke-width="0.8"/>
<text x="619.3" y="777.3" font-size="8.6" text-anchor="middle">4</text>
<line x1="660" y1="784.8" x2="660" y2="781.2" stroke="#000" stroke-width="0.8"/>
<line x1="660" y1="945.7" x2="660" y2="949.3" stroke="#000" stroke-width="0.8"/>
<text x="660" y="777.3" font-size="8.6" text-anchor="middle">15</text>
<text x="619.3" y="957.5" font-size="8.6" text-anchor="middle">Hypo</text>
<text x="660" y="957.5" font-size="8.6" text-anchor="middle">Hyper</text>
<text x="630.6" y="766.8" font-size="8.6" text-anchor="middle">ERnHER2p &amp; HER2E TCGA</text>
<text x="638" y="972.6" font-size="8.6" text-anchor="middle">shore CpG clusters</text>
<text x="571.6" y="870.8" font-size="8.6" text-anchor="middle" transform="rotate(-90 571.6 870.8)">FGFR4 FPKM</text>
<text x="604.8" y="898.9" font-size="8.6">Wilcoxon’s</text>
<text x="604.8" y="909.7" font-size="8.6">p=0.002</text>
</svg>
</body></html>
